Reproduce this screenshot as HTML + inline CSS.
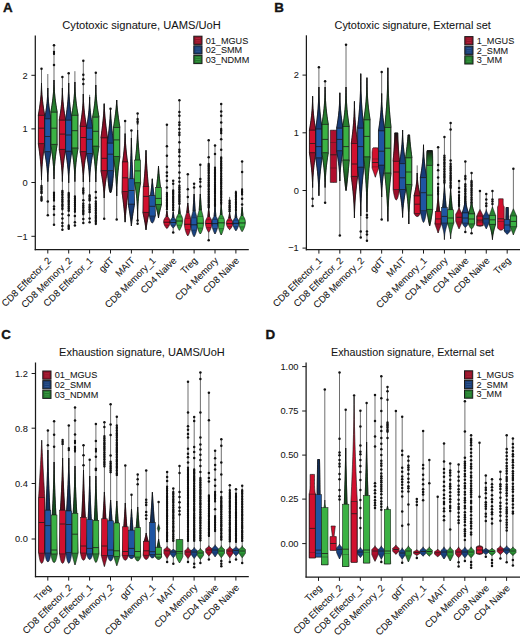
<!DOCTYPE html>
<html><head><meta charset="utf-8"><style>
html,body{margin:0;padding:0;background:#fff;}
svg{display:block;}
text{font-family:"Liberation Sans",sans-serif;fill:#141414;stroke:#141414;stroke-width:0.06px;}
</style></head><body>
<svg width="520" height="636" viewBox="0 0 520 636">
<rect width="520" height="636" fill="#fff"/>
<defs>
<linearGradient id="gur" x1="0" y1="0" x2="0" y2="1"><stop offset="0" stop-color="#151515"/><stop offset="0.45" stop-color="#6a0b1e"/><stop offset="0.8" stop-color="#9b0e29"/></linearGradient>
<linearGradient id="gub" x1="0" y1="0" x2="0" y2="1"><stop offset="0" stop-color="#151515"/><stop offset="0.45" stop-color="#132c55"/><stop offset="0.8" stop-color="#183d7a"/></linearGradient>
<linearGradient id="gug" x1="0" y1="0" x2="0" y2="1"><stop offset="0" stop-color="#151515"/><stop offset="0.45" stop-color="#1b5a22"/><stop offset="0.8" stop-color="#27812f"/></linearGradient>
<linearGradient id="gdr" x1="0" y1="0" x2="0" y2="1"><stop offset="0.2" stop-color="#9b0e29"/><stop offset="0.55" stop-color="#6a0b1e"/><stop offset="1" stop-color="#151515"/></linearGradient>
<linearGradient id="gdb" x1="0" y1="0" x2="0" y2="1"><stop offset="0.2" stop-color="#183d7a"/><stop offset="0.55" stop-color="#132c55"/><stop offset="1" stop-color="#151515"/></linearGradient>
<linearGradient id="gdg" x1="0" y1="0" x2="0" y2="1"><stop offset="0.2" stop-color="#27812f"/><stop offset="0.55" stop-color="#1b5a22"/><stop offset="1" stop-color="#151515"/></linearGradient>
</defs>
<text x="3" y="11.9" font-size="13.4" text-anchor="start" font-weight="bold" style="stroke-width:0.35px">A</text>
<text x="274.3" y="11.9" font-size="13.4" text-anchor="start" font-weight="bold" style="stroke-width:0.35px">B</text>
<text x="1.2" y="339.2" font-size="13.4" text-anchor="start" font-weight="bold" style="stroke-width:0.35px">C</text>
<text x="265.6" y="338.8" font-size="13.4" text-anchor="start" font-weight="bold" style="stroke-width:0.35px">D</text>
<text x="62.3" y="28.9" font-size="11.05" text-anchor="start" font-weight="normal" textLength="158.5" lengthAdjust="spacingAndGlyphs">Cytotoxic signature, UAMS/UoH</text>
<text x="334.5" y="28.9" font-size="10.9" text-anchor="start" font-weight="normal" textLength="156.4" lengthAdjust="spacingAndGlyphs">Cytotoxic signature, External set</text>
<text x="59.1" y="355.8" font-size="10.95" text-anchor="start" font-weight="normal" textLength="165.7" lengthAdjust="spacingAndGlyphs">Exhaustion signature, UAMS/UoH</text>
<text x="331" y="355.8" font-size="10.75" text-anchor="start" font-weight="normal" textLength="162.9" lengthAdjust="spacingAndGlyphs">Exhaustion signature, External set</text>
<line x1="35.3" y1="35.5" x2="35.3" y2="250.2" stroke="#1a1a1a" stroke-width="1.25"/>
<line x1="34.7" y1="249.6" x2="248.8" y2="249.6" stroke="#1a1a1a" stroke-width="1.25"/>
<line x1="31.4" y1="75.3" x2="35.3" y2="75.3" stroke="#1a1a1a" stroke-width="1.0"/>
<text x="27.7" y="78.6" font-size="9.3" text-anchor="end" font-weight="normal">2</text>
<line x1="31.4" y1="128.9" x2="35.3" y2="128.9" stroke="#1a1a1a" stroke-width="1.0"/>
<text x="27.7" y="132.2" font-size="9.3" text-anchor="end" font-weight="normal">1</text>
<line x1="31.4" y1="182.5" x2="35.3" y2="182.5" stroke="#1a1a1a" stroke-width="1.0"/>
<text x="27.7" y="185.8" font-size="9.3" text-anchor="end" font-weight="normal">0</text>
<line x1="31.4" y1="236.3" x2="35.3" y2="236.3" stroke="#1a1a1a" stroke-width="1.0"/>
<text x="27.7" y="239.6" font-size="9.3" text-anchor="end" font-weight="normal">−1</text>
<line x1="47.8" y1="249.6" x2="47.8" y2="253.5" stroke="#1a1a1a" stroke-width="1.0"/>
<text transform="translate(51.8,261.1) rotate(-45)" font-size="9.6" text-anchor="end">CD8 Effector_2</text>
<line x1="68.7" y1="249.6" x2="68.7" y2="253.5" stroke="#1a1a1a" stroke-width="1.0"/>
<text transform="translate(72.7,261.1) rotate(-45)" font-size="9.6" text-anchor="end">CD8 Memory_2</text>
<line x1="89.6" y1="249.6" x2="89.6" y2="253.5" stroke="#1a1a1a" stroke-width="1.0"/>
<text transform="translate(93.6,261.1) rotate(-45)" font-size="9.6" text-anchor="end">CD8 Effector_1</text>
<line x1="110.5" y1="249.6" x2="110.5" y2="253.5" stroke="#1a1a1a" stroke-width="1.0"/>
<text transform="translate(114.5,261.1) rotate(-45)" font-size="9.6" text-anchor="end">gdT</text>
<line x1="131.4" y1="249.6" x2="131.4" y2="253.5" stroke="#1a1a1a" stroke-width="1.0"/>
<text transform="translate(135.4,261.1) rotate(-45)" font-size="9.6" text-anchor="end">MAIT</text>
<line x1="152.3" y1="249.6" x2="152.3" y2="253.5" stroke="#1a1a1a" stroke-width="1.0"/>
<text transform="translate(156.3,261.1) rotate(-45)" font-size="9.6" text-anchor="end">CD8 Memory_1</text>
<line x1="173.2" y1="249.6" x2="173.2" y2="253.5" stroke="#1a1a1a" stroke-width="1.0"/>
<text transform="translate(177.2,261.1) rotate(-45)" font-size="9.6" text-anchor="end">CD4 Naive</text>
<line x1="194.1" y1="249.6" x2="194.1" y2="253.5" stroke="#1a1a1a" stroke-width="1.0"/>
<text transform="translate(198.1,261.1) rotate(-45)" font-size="9.6" text-anchor="end">Treg</text>
<line x1="215" y1="249.6" x2="215" y2="253.5" stroke="#1a1a1a" stroke-width="1.0"/>
<text transform="translate(219,261.1) rotate(-45)" font-size="9.6" text-anchor="end">CD4 Memory</text>
<line x1="235.9" y1="249.6" x2="235.9" y2="253.5" stroke="#1a1a1a" stroke-width="1.0"/>
<text transform="translate(239.9,261.1) rotate(-45)" font-size="9.6" text-anchor="end">CD8 Naive</text>
<line x1="306.4" y1="35.3" x2="306.4" y2="250.3" stroke="#1a1a1a" stroke-width="1.25"/>
<line x1="305.8" y1="249.7" x2="520" y2="249.7" stroke="#1a1a1a" stroke-width="1.25"/>
<line x1="302.5" y1="75.1" x2="306.4" y2="75.1" stroke="#1a1a1a" stroke-width="1.0"/>
<text x="298.8" y="78.4" font-size="9.3" text-anchor="end" font-weight="normal">2</text>
<line x1="302.5" y1="132.8" x2="306.4" y2="132.8" stroke="#1a1a1a" stroke-width="1.0"/>
<text x="298.8" y="136.1" font-size="9.3" text-anchor="end" font-weight="normal">1</text>
<line x1="302.5" y1="190.5" x2="306.4" y2="190.5" stroke="#1a1a1a" stroke-width="1.0"/>
<text x="298.8" y="193.8" font-size="9.3" text-anchor="end" font-weight="normal">0</text>
<line x1="302.5" y1="248.1" x2="306.4" y2="248.1" stroke="#1a1a1a" stroke-width="1.0"/>
<text x="298.8" y="251.4" font-size="9.3" text-anchor="end" font-weight="normal">−1</text>
<line x1="318.9" y1="249.7" x2="318.9" y2="253.6" stroke="#1a1a1a" stroke-width="1.0"/>
<text transform="translate(322.9,261.2) rotate(-45)" font-size="9.6" text-anchor="end">CD8 Effector_1</text>
<line x1="339.82" y1="249.7" x2="339.82" y2="253.6" stroke="#1a1a1a" stroke-width="1.0"/>
<text transform="translate(343.82,261.2) rotate(-45)" font-size="9.6" text-anchor="end">CD8 Effector_2</text>
<line x1="360.74" y1="249.7" x2="360.74" y2="253.6" stroke="#1a1a1a" stroke-width="1.0"/>
<text transform="translate(364.74,261.2) rotate(-45)" font-size="9.6" text-anchor="end">CD8 Memory_2</text>
<line x1="381.66" y1="249.7" x2="381.66" y2="253.6" stroke="#1a1a1a" stroke-width="1.0"/>
<text transform="translate(385.66,261.2) rotate(-45)" font-size="9.6" text-anchor="end">gdT</text>
<line x1="402.58" y1="249.7" x2="402.58" y2="253.6" stroke="#1a1a1a" stroke-width="1.0"/>
<text transform="translate(406.58,261.2) rotate(-45)" font-size="9.6" text-anchor="end">MAIT</text>
<line x1="423.5" y1="249.7" x2="423.5" y2="253.6" stroke="#1a1a1a" stroke-width="1.0"/>
<text transform="translate(427.5,261.2) rotate(-45)" font-size="9.6" text-anchor="end">CD8 Memory_1</text>
<line x1="444.42" y1="249.7" x2="444.42" y2="253.6" stroke="#1a1a1a" stroke-width="1.0"/>
<text transform="translate(448.42,261.2) rotate(-45)" font-size="9.6" text-anchor="end">CD4 Memory</text>
<line x1="465.34" y1="249.7" x2="465.34" y2="253.6" stroke="#1a1a1a" stroke-width="1.0"/>
<text transform="translate(469.34,261.2) rotate(-45)" font-size="9.6" text-anchor="end">CD4 Naive</text>
<line x1="486.26" y1="249.7" x2="486.26" y2="253.6" stroke="#1a1a1a" stroke-width="1.0"/>
<text transform="translate(490.26,261.2) rotate(-45)" font-size="9.6" text-anchor="end">CD8 Naive</text>
<line x1="507.18" y1="249.7" x2="507.18" y2="253.6" stroke="#1a1a1a" stroke-width="1.0"/>
<text transform="translate(511.18,261.2) rotate(-45)" font-size="9.6" text-anchor="end">Treg</text>
<line x1="35.5" y1="362.5" x2="35.5" y2="577.3" stroke="#1a1a1a" stroke-width="1.25"/>
<line x1="34.9" y1="576.7" x2="248.8" y2="576.7" stroke="#1a1a1a" stroke-width="1.25"/>
<line x1="31.6" y1="373.5" x2="35.5" y2="373.5" stroke="#1a1a1a" stroke-width="1.0"/>
<text x="27.9" y="376.8" font-size="9.3" text-anchor="end" font-weight="normal">1.2</text>
<line x1="31.6" y1="428.2" x2="35.5" y2="428.2" stroke="#1a1a1a" stroke-width="1.0"/>
<text x="27.9" y="431.5" font-size="9.3" text-anchor="end" font-weight="normal">0.8</text>
<line x1="31.6" y1="483.5" x2="35.5" y2="483.5" stroke="#1a1a1a" stroke-width="1.0"/>
<text x="27.9" y="486.8" font-size="9.3" text-anchor="end" font-weight="normal">0.4</text>
<line x1="31.6" y1="539" x2="35.5" y2="539" stroke="#1a1a1a" stroke-width="1.0"/>
<text x="27.9" y="542.3" font-size="9.3" text-anchor="end" font-weight="normal">0.0</text>
<line x1="47.8" y1="576.7" x2="47.8" y2="580.6" stroke="#1a1a1a" stroke-width="1.0"/>
<text transform="translate(51.8,588.2) rotate(-45)" font-size="9.6" text-anchor="end">Treg</text>
<line x1="68.7" y1="576.7" x2="68.7" y2="580.6" stroke="#1a1a1a" stroke-width="1.0"/>
<text transform="translate(72.7,588.2) rotate(-45)" font-size="9.6" text-anchor="end">CD8 Effector_2</text>
<line x1="89.6" y1="576.7" x2="89.6" y2="580.6" stroke="#1a1a1a" stroke-width="1.0"/>
<text transform="translate(93.6,588.2) rotate(-45)" font-size="9.6" text-anchor="end">CD8 Effector_1</text>
<line x1="110.5" y1="576.7" x2="110.5" y2="580.6" stroke="#1a1a1a" stroke-width="1.0"/>
<text transform="translate(114.5,588.2) rotate(-45)" font-size="9.6" text-anchor="end">CD8 Memory_2</text>
<line x1="131.4" y1="576.7" x2="131.4" y2="580.6" stroke="#1a1a1a" stroke-width="1.0"/>
<text transform="translate(135.4,588.2) rotate(-45)" font-size="9.6" text-anchor="end">gdT</text>
<line x1="152.3" y1="576.7" x2="152.3" y2="580.6" stroke="#1a1a1a" stroke-width="1.0"/>
<text transform="translate(156.3,588.2) rotate(-45)" font-size="9.6" text-anchor="end">CD8 Memory_1</text>
<line x1="173.2" y1="576.7" x2="173.2" y2="580.6" stroke="#1a1a1a" stroke-width="1.0"/>
<text transform="translate(177.2,588.2) rotate(-45)" font-size="9.6" text-anchor="end">MAIT</text>
<line x1="194.1" y1="576.7" x2="194.1" y2="580.6" stroke="#1a1a1a" stroke-width="1.0"/>
<text transform="translate(198.1,588.2) rotate(-45)" font-size="9.6" text-anchor="end">CD4 Memory</text>
<line x1="215" y1="576.7" x2="215" y2="580.6" stroke="#1a1a1a" stroke-width="1.0"/>
<text transform="translate(219,588.2) rotate(-45)" font-size="9.6" text-anchor="end">CD4 Naive</text>
<line x1="235.9" y1="576.7" x2="235.9" y2="580.6" stroke="#1a1a1a" stroke-width="1.0"/>
<text transform="translate(239.9,588.2) rotate(-45)" font-size="9.6" text-anchor="end">CD8 Naive</text>
<line x1="306.1" y1="362.5" x2="306.1" y2="577.6" stroke="#1a1a1a" stroke-width="1.25"/>
<line x1="305.5" y1="577" x2="520" y2="577" stroke="#1a1a1a" stroke-width="1.25"/>
<line x1="302.2" y1="366.6" x2="306.1" y2="366.6" stroke="#1a1a1a" stroke-width="1.0"/>
<text x="298.5" y="369.9" font-size="9.3" text-anchor="end" font-weight="normal">1.00</text>
<line x1="302.2" y1="411" x2="306.1" y2="411" stroke="#1a1a1a" stroke-width="1.0"/>
<text x="298.5" y="414.3" font-size="9.3" text-anchor="end" font-weight="normal">0.75</text>
<line x1="302.2" y1="455.1" x2="306.1" y2="455.1" stroke="#1a1a1a" stroke-width="1.0"/>
<text x="298.5" y="458.4" font-size="9.3" text-anchor="end" font-weight="normal">0.50</text>
<line x1="302.2" y1="499.1" x2="306.1" y2="499.1" stroke="#1a1a1a" stroke-width="1.0"/>
<text x="298.5" y="502.4" font-size="9.3" text-anchor="end" font-weight="normal">0.25</text>
<line x1="302.2" y1="543.6" x2="306.1" y2="543.6" stroke="#1a1a1a" stroke-width="1.0"/>
<text x="298.5" y="546.9" font-size="9.3" text-anchor="end" font-weight="normal">0.00</text>
<line x1="318.5" y1="577" x2="318.5" y2="580.9" stroke="#1a1a1a" stroke-width="1.0"/>
<text transform="translate(322.5,588.6) rotate(-45)" font-size="9.6" text-anchor="end">Treg</text>
<line x1="339.4" y1="577" x2="339.4" y2="580.9" stroke="#1a1a1a" stroke-width="1.0"/>
<text transform="translate(343.4,588.6) rotate(-45)" font-size="9.6" text-anchor="end">CD8 Effector_2</text>
<line x1="360.3" y1="577" x2="360.3" y2="580.9" stroke="#1a1a1a" stroke-width="1.0"/>
<text transform="translate(364.3,588.6) rotate(-45)" font-size="9.6" text-anchor="end">CD8 Effector_1</text>
<line x1="381.2" y1="577" x2="381.2" y2="580.9" stroke="#1a1a1a" stroke-width="1.0"/>
<text transform="translate(385.2,588.6) rotate(-45)" font-size="9.6" text-anchor="end">CD8 Memory_2</text>
<line x1="402.1" y1="577" x2="402.1" y2="580.9" stroke="#1a1a1a" stroke-width="1.0"/>
<text transform="translate(406.1,588.6) rotate(-45)" font-size="9.6" text-anchor="end">gdT</text>
<line x1="423" y1="577" x2="423" y2="580.9" stroke="#1a1a1a" stroke-width="1.0"/>
<text transform="translate(427,588.6) rotate(-45)" font-size="9.6" text-anchor="end">CD8 Memory_1</text>
<line x1="443.9" y1="577" x2="443.9" y2="580.9" stroke="#1a1a1a" stroke-width="1.0"/>
<text transform="translate(447.9,588.6) rotate(-45)" font-size="9.6" text-anchor="end">MAIT</text>
<line x1="464.8" y1="577" x2="464.8" y2="580.9" stroke="#1a1a1a" stroke-width="1.0"/>
<text transform="translate(468.8,588.6) rotate(-45)" font-size="9.6" text-anchor="end">CD4 Memory</text>
<line x1="485.7" y1="577" x2="485.7" y2="580.9" stroke="#1a1a1a" stroke-width="1.0"/>
<text transform="translate(489.7,588.6) rotate(-45)" font-size="9.6" text-anchor="end">CD8 Naive</text>
<line x1="506.6" y1="577" x2="506.6" y2="580.9" stroke="#1a1a1a" stroke-width="1.0"/>
<text transform="translate(510.6,588.6) rotate(-45)" font-size="9.6" text-anchor="end">CD4 Naive</text>
<rect x="193.8" y="36.2" width="8.2" height="8.2" fill="#93132a" stroke="#1a1a1a" stroke-width="1.0"/>
<line x1="195.6" y1="38.5" x2="200.2" y2="38.5" stroke="#d0404f" stroke-width="0.5" opacity="0.8"/>
<line x1="195.6" y1="40.3" x2="200.2" y2="40.3" stroke="#d0404f" stroke-width="0.5" opacity="0.8"/>
<line x1="195.6" y1="42.1" x2="200.2" y2="42.1" stroke="#d0404f" stroke-width="0.5" opacity="0.8"/>
<text x="205.7" y="43.5" font-size="9.15" text-anchor="start" font-weight="normal">01_MGUS</text>
<rect x="193.8" y="45.8" width="8.2" height="8.2" fill="#1b3f76" stroke="#1a1a1a" stroke-width="1.0"/>
<line x1="195.6" y1="48.1" x2="200.2" y2="48.1" stroke="#4d73b0" stroke-width="0.5" opacity="0.8"/>
<line x1="195.6" y1="49.9" x2="200.2" y2="49.9" stroke="#4d73b0" stroke-width="0.5" opacity="0.8"/>
<line x1="195.6" y1="51.7" x2="200.2" y2="51.7" stroke="#4d73b0" stroke-width="0.5" opacity="0.8"/>
<text x="205.7" y="53.1" font-size="9.15" text-anchor="start" font-weight="normal">02_SMM</text>
<rect x="193.8" y="55.4" width="8.2" height="8.2" fill="#247a2d" stroke="#1a1a1a" stroke-width="1.0"/>
<line x1="195.6" y1="57.7" x2="200.2" y2="57.7" stroke="#5cc060" stroke-width="0.5" opacity="0.8"/>
<line x1="195.6" y1="59.5" x2="200.2" y2="59.5" stroke="#5cc060" stroke-width="0.5" opacity="0.8"/>
<line x1="195.6" y1="61.3" x2="200.2" y2="61.3" stroke="#5cc060" stroke-width="0.5" opacity="0.8"/>
<text x="205.7" y="62.7" font-size="9.15" text-anchor="start" font-weight="normal">03_NDMM</text>
<rect x="464.8" y="36.6" width="8.2" height="8.2" fill="#93132a" stroke="#1a1a1a" stroke-width="1.0"/>
<line x1="466.6" y1="38.9" x2="471.2" y2="38.9" stroke="#d0404f" stroke-width="0.5" opacity="0.8"/>
<line x1="466.6" y1="40.7" x2="471.2" y2="40.7" stroke="#d0404f" stroke-width="0.5" opacity="0.8"/>
<line x1="466.6" y1="42.5" x2="471.2" y2="42.5" stroke="#d0404f" stroke-width="0.5" opacity="0.8"/>
<text x="476.7" y="43.9" font-size="9.15" text-anchor="start" font-weight="normal">1_MGUS</text>
<rect x="464.8" y="46.2" width="8.2" height="8.2" fill="#1b3f76" stroke="#1a1a1a" stroke-width="1.0"/>
<line x1="466.6" y1="48.5" x2="471.2" y2="48.5" stroke="#4d73b0" stroke-width="0.5" opacity="0.8"/>
<line x1="466.6" y1="50.3" x2="471.2" y2="50.3" stroke="#4d73b0" stroke-width="0.5" opacity="0.8"/>
<line x1="466.6" y1="52.1" x2="471.2" y2="52.1" stroke="#4d73b0" stroke-width="0.5" opacity="0.8"/>
<text x="476.7" y="53.5" font-size="9.15" text-anchor="start" font-weight="normal">2_SMM</text>
<rect x="464.8" y="55.8" width="8.2" height="8.2" fill="#247a2d" stroke="#1a1a1a" stroke-width="1.0"/>
<line x1="466.6" y1="58.1" x2="471.2" y2="58.1" stroke="#5cc060" stroke-width="0.5" opacity="0.8"/>
<line x1="466.6" y1="59.9" x2="471.2" y2="59.9" stroke="#5cc060" stroke-width="0.5" opacity="0.8"/>
<line x1="466.6" y1="61.7" x2="471.2" y2="61.7" stroke="#5cc060" stroke-width="0.5" opacity="0.8"/>
<text x="476.7" y="63.1" font-size="9.15" text-anchor="start" font-weight="normal">3_MM</text>
<rect x="42.8" y="371" width="8.2" height="8.2" fill="#93132a" stroke="#1a1a1a" stroke-width="1.0"/>
<line x1="44.6" y1="373.3" x2="49.2" y2="373.3" stroke="#d0404f" stroke-width="0.5" opacity="0.8"/>
<line x1="44.6" y1="375.1" x2="49.2" y2="375.1" stroke="#d0404f" stroke-width="0.5" opacity="0.8"/>
<line x1="44.6" y1="376.9" x2="49.2" y2="376.9" stroke="#d0404f" stroke-width="0.5" opacity="0.8"/>
<text x="54.7" y="378.3" font-size="9.15" text-anchor="start" font-weight="normal">01_MGUS</text>
<rect x="42.8" y="380.6" width="8.2" height="8.2" fill="#1b3f76" stroke="#1a1a1a" stroke-width="1.0"/>
<line x1="44.6" y1="382.9" x2="49.2" y2="382.9" stroke="#4d73b0" stroke-width="0.5" opacity="0.8"/>
<line x1="44.6" y1="384.7" x2="49.2" y2="384.7" stroke="#4d73b0" stroke-width="0.5" opacity="0.8"/>
<line x1="44.6" y1="386.5" x2="49.2" y2="386.5" stroke="#4d73b0" stroke-width="0.5" opacity="0.8"/>
<text x="54.7" y="387.9" font-size="9.15" text-anchor="start" font-weight="normal">02_SMM</text>
<rect x="42.8" y="390.2" width="8.2" height="8.2" fill="#247a2d" stroke="#1a1a1a" stroke-width="1.0"/>
<line x1="44.6" y1="392.5" x2="49.2" y2="392.5" stroke="#5cc060" stroke-width="0.5" opacity="0.8"/>
<line x1="44.6" y1="394.3" x2="49.2" y2="394.3" stroke="#5cc060" stroke-width="0.5" opacity="0.8"/>
<line x1="44.6" y1="396.1" x2="49.2" y2="396.1" stroke="#5cc060" stroke-width="0.5" opacity="0.8"/>
<text x="54.7" y="397.5" font-size="9.15" text-anchor="start" font-weight="normal">03_NDMM</text>
<rect x="464.5" y="370.8" width="8.2" height="8.2" fill="#93132a" stroke="#1a1a1a" stroke-width="1.0"/>
<line x1="466.3" y1="373.1" x2="470.9" y2="373.1" stroke="#d0404f" stroke-width="0.5" opacity="0.8"/>
<line x1="466.3" y1="374.9" x2="470.9" y2="374.9" stroke="#d0404f" stroke-width="0.5" opacity="0.8"/>
<line x1="466.3" y1="376.7" x2="470.9" y2="376.7" stroke="#d0404f" stroke-width="0.5" opacity="0.8"/>
<text x="476.4" y="378.1" font-size="9.15" text-anchor="start" font-weight="normal">1_MGUS</text>
<rect x="464.5" y="380.4" width="8.2" height="8.2" fill="#1b3f76" stroke="#1a1a1a" stroke-width="1.0"/>
<line x1="466.3" y1="382.7" x2="470.9" y2="382.7" stroke="#4d73b0" stroke-width="0.5" opacity="0.8"/>
<line x1="466.3" y1="384.5" x2="470.9" y2="384.5" stroke="#4d73b0" stroke-width="0.5" opacity="0.8"/>
<line x1="466.3" y1="386.3" x2="470.9" y2="386.3" stroke="#4d73b0" stroke-width="0.5" opacity="0.8"/>
<text x="476.4" y="387.7" font-size="9.15" text-anchor="start" font-weight="normal">2_SMM</text>
<rect x="464.5" y="390" width="8.2" height="8.2" fill="#247a2d" stroke="#1a1a1a" stroke-width="1.0"/>
<line x1="466.3" y1="392.3" x2="470.9" y2="392.3" stroke="#5cc060" stroke-width="0.5" opacity="0.8"/>
<line x1="466.3" y1="394.1" x2="470.9" y2="394.1" stroke="#5cc060" stroke-width="0.5" opacity="0.8"/>
<line x1="466.3" y1="395.9" x2="470.9" y2="395.9" stroke="#5cc060" stroke-width="0.5" opacity="0.8"/>
<text x="476.4" y="397.3" font-size="9.15" text-anchor="start" font-weight="normal">3_MM</text>
<line x1="41.5" y1="68.8" x2="41.5" y2="201.5" stroke="#666" stroke-width="0.95"/>
<line x1="41.5" y1="185.8" x2="41.5" y2="194" stroke="#111" stroke-width="1.8"/>
<line x1="41.5" y1="197" x2="41.5" y2="201.5" stroke="#111" stroke-width="1.8"/>
<circle cx="41.5" cy="185.8" r="1.15" fill="#111"/>
<circle cx="41.5" cy="187.62" r="1.15" fill="#111"/>
<circle cx="41.5" cy="189.16" r="1.15" fill="#111"/>
<circle cx="41.5" cy="191.5" r="1.15" fill="#111"/>
<circle cx="41.5" cy="192.92" r="1.15" fill="#111"/>
<circle cx="41.5" cy="197" r="1.15" fill="#111"/>
<circle cx="41.5" cy="198.89" r="1.15" fill="#111"/>
<circle cx="41.5" cy="200.28" r="1.15" fill="#111"/>
<circle cx="41.5" cy="68.8" r="1.25" fill="#111"/>
<polygon points="41.5,83 41.48,85.31 41.42,87.61 41.33,89.92 41.2,92.23 41.05,94.54 40.86,96.84 40.64,99.15 40.39,101.46 40.12,103.76 39.81,106.07 39.48,108.38 39.11,110.69 38.72,112.99 38.3,115.3 38.3,143.6 38.7,146.2 39.08,148.8 39.43,151.4 39.75,154 40.06,156.6 40.33,159.2 40.58,161.8 40.8,164.4 41,167 41.16,169.6 41.3,172.2 41.4,174.8 41.47,177.4 41.5,180 41.5,180 41.53,177.4 41.6,174.8 41.7,172.2 41.84,169.6 42,167 42.2,164.4 42.42,161.8 42.67,159.2 42.94,156.6 43.25,154 43.57,151.4 43.92,148.8 44.3,146.2 44.7,143.6 44.7,115.3 44.28,112.99 43.89,110.69 43.52,108.38 43.19,106.07 42.88,103.76 42.61,101.46 42.36,99.15 42.14,96.84 41.95,94.54 41.8,92.23 41.67,89.92 41.58,87.61 41.52,85.31 41.5,83" fill="#9b0e29" stroke="#111" stroke-width="0.6" stroke-linejoin="round"/>
<polygon points="41.5,83 41.48,85.31 41.42,87.61 41.33,89.92 41.2,92.23 41.05,94.54 40.86,96.84 40.64,99.15 40.39,101.46 40.12,103.76 39.81,106.07 39.48,108.38 39.11,110.69 38.72,112.99 38.3,115.3 44.7,115.3 44.28,112.99 43.89,110.69 43.52,108.38 43.19,106.07 42.88,103.76 42.61,101.46 42.36,99.15 42.14,96.84 41.95,94.54 41.8,92.23 41.67,89.92 41.58,87.61 41.52,85.31 41.5,83" fill="url(#gur)" stroke="#111" stroke-width="0.6" stroke-linejoin="round"/>
<polygon points="38.3,143.6 38.7,146.2 39.08,148.8 39.43,151.4 39.75,154 40.06,156.6 40.33,159.2 40.58,161.8 40.8,164.4 41,167 41.16,169.6 41.3,172.2 41.4,174.8 41.47,177.4 41.5,180 41.5,180 41.53,177.4 41.6,174.8 41.7,172.2 41.84,169.6 42,167 42.2,164.4 42.42,161.8 42.67,159.2 42.94,156.6 43.25,154 43.57,151.4 43.92,148.8 44.3,146.2 44.7,143.6" fill="url(#gdr)" stroke="#111" stroke-width="0.6" stroke-linejoin="round"/>
<rect x="38.6" y="115.3" width="5.8" height="28.3" fill="#d2102e" stroke="#1c1c1c" stroke-width="0.55"/>
<line x1="38.6" y1="128.2" x2="44.4" y2="128.2" stroke="#1c1c1c" stroke-width="0.8"/>
<line x1="47.8" y1="74" x2="47.8" y2="215.3" stroke="#666" stroke-width="0.95"/>
<circle cx="47.8" cy="201.5" r="1.25" fill="#111"/>
<circle cx="47.8" cy="215.3" r="1.25" fill="#111"/>
<polygon points="47.8,88 47.78,90.21 47.72,92.43 47.63,94.64 47.5,96.86 47.35,99.07 47.16,101.29 46.94,103.5 46.69,105.71 46.42,107.93 46.11,110.14 45.78,112.36 45.41,114.57 45.02,116.79 44.6,119 44.6,151.6 45,153.74 45.38,155.89 45.73,158.03 46.05,160.17 46.36,162.31 46.63,164.46 46.88,166.6 47.1,168.74 47.3,170.89 47.46,173.03 47.6,175.17 47.7,177.31 47.77,179.46 47.8,181.6 47.8,181.6 47.83,179.46 47.9,177.31 48,175.17 48.14,173.03 48.3,170.89 48.5,168.74 48.72,166.6 48.97,164.46 49.24,162.31 49.55,160.17 49.87,158.03 50.22,155.89 50.6,153.74 51,151.6 51,119 50.58,116.79 50.19,114.57 49.82,112.36 49.49,110.14 49.18,107.93 48.91,105.71 48.66,103.5 48.44,101.29 48.25,99.07 48.1,96.86 47.97,94.64 47.88,92.43 47.82,90.21 47.8,88" fill="#183d7a" stroke="#111" stroke-width="0.6" stroke-linejoin="round"/>
<polygon points="47.8,88 47.78,90.21 47.72,92.43 47.63,94.64 47.5,96.86 47.35,99.07 47.16,101.29 46.94,103.5 46.69,105.71 46.42,107.93 46.11,110.14 45.78,112.36 45.41,114.57 45.02,116.79 44.6,119 51,119 50.58,116.79 50.19,114.57 49.82,112.36 49.49,110.14 49.18,107.93 48.91,105.71 48.66,103.5 48.44,101.29 48.25,99.07 48.1,96.86 47.97,94.64 47.88,92.43 47.82,90.21 47.8,88" fill="url(#gub)" stroke="#111" stroke-width="0.6" stroke-linejoin="round"/>
<polygon points="44.6,151.6 45,153.74 45.38,155.89 45.73,158.03 46.05,160.17 46.36,162.31 46.63,164.46 46.88,166.6 47.1,168.74 47.3,170.89 47.46,173.03 47.6,175.17 47.7,177.31 47.77,179.46 47.8,181.6 47.8,181.6 47.83,179.46 47.9,177.31 48,175.17 48.14,173.03 48.3,170.89 48.5,168.74 48.72,166.6 48.97,164.46 49.24,162.31 49.55,160.17 49.87,158.03 50.22,155.89 50.6,153.74 51,151.6" fill="url(#gdb)" stroke="#111" stroke-width="0.6" stroke-linejoin="round"/>
<rect x="44.9" y="119" width="5.8" height="32.6" fill="#1f55a2" stroke="#1c1c1c" stroke-width="0.55"/>
<line x1="44.9" y1="136.5" x2="50.7" y2="136.5" stroke="#1c1c1c" stroke-width="0.8"/>
<line x1="54" y1="45.3" x2="54" y2="224.8" stroke="#666" stroke-width="0.95"/>
<line x1="54" y1="51.8" x2="54" y2="55" stroke="#111" stroke-width="1.8"/>
<line x1="54" y1="192.7" x2="54" y2="201.5" stroke="#111" stroke-width="1.8"/>
<circle cx="54" cy="51.8" r="1.15" fill="#111"/>
<circle cx="54" cy="53.16" r="1.15" fill="#111"/>
<circle cx="54" cy="192.7" r="1.15" fill="#111"/>
<circle cx="54" cy="194.11" r="1.15" fill="#111"/>
<circle cx="54" cy="195.56" r="1.15" fill="#111"/>
<circle cx="54" cy="197.54" r="1.15" fill="#111"/>
<circle cx="54" cy="200.16" r="1.15" fill="#111"/>
<circle cx="54" cy="45.3" r="1.25" fill="#111"/>
<circle cx="54" cy="65" r="1.25" fill="#111"/>
<circle cx="54" cy="206.5" r="1.25" fill="#111"/>
<circle cx="54" cy="209" r="1.25" fill="#111"/>
<circle cx="54" cy="214.7" r="1.25" fill="#111"/>
<circle cx="54" cy="224.8" r="1.25" fill="#111"/>
<polygon points="54,80 53.98,82.3 53.92,84.6 53.83,86.9 53.7,89.2 53.55,91.5 53.36,93.8 53.14,96.1 52.89,98.4 52.62,100.7 52.31,103 51.98,105.3 51.61,107.6 51.22,109.9 50.8,112.2 50.8,144.2 51.2,146.69 51.58,149.17 51.93,151.66 52.25,154.14 52.56,156.63 52.83,159.11 53.08,161.6 53.3,164.09 53.5,166.57 53.66,169.06 53.8,171.54 53.9,174.03 53.97,176.51 54,179 54,179 54.03,176.51 54.1,174.03 54.2,171.54 54.34,169.06 54.5,166.57 54.7,164.09 54.92,161.6 55.17,159.11 55.44,156.63 55.75,154.14 56.07,151.66 56.42,149.17 56.8,146.69 57.2,144.2 57.2,112.2 56.78,109.9 56.39,107.6 56.02,105.3 55.69,103 55.38,100.7 55.11,98.4 54.86,96.1 54.64,93.8 54.45,91.5 54.3,89.2 54.17,86.9 54.08,84.6 54.02,82.3 54,80" fill="#27812f" stroke="#111" stroke-width="0.6" stroke-linejoin="round"/>
<polygon points="54,80 53.98,82.3 53.92,84.6 53.83,86.9 53.7,89.2 53.55,91.5 53.36,93.8 53.14,96.1 52.89,98.4 52.62,100.7 52.31,103 51.98,105.3 51.61,107.6 51.22,109.9 50.8,112.2 57.2,112.2 56.78,109.9 56.39,107.6 56.02,105.3 55.69,103 55.38,100.7 55.11,98.4 54.86,96.1 54.64,93.8 54.45,91.5 54.3,89.2 54.17,86.9 54.08,84.6 54.02,82.3 54,80" fill="url(#gug)" stroke="#111" stroke-width="0.6" stroke-linejoin="round"/>
<polygon points="50.8,144.2 51.2,146.69 51.58,149.17 51.93,151.66 52.25,154.14 52.56,156.63 52.83,159.11 53.08,161.6 53.3,164.09 53.5,166.57 53.66,169.06 53.8,171.54 53.9,174.03 53.97,176.51 54,179 54,179 54.03,176.51 54.1,174.03 54.2,171.54 54.34,169.06 54.5,166.57 54.7,164.09 54.92,161.6 55.17,159.11 55.44,156.63 55.75,154.14 56.07,151.66 56.42,149.17 56.8,146.69 57.2,144.2" fill="url(#gdg)" stroke="#111" stroke-width="0.6" stroke-linejoin="round"/>
<rect x="51.1" y="112.2" width="5.8" height="32" fill="#3bb244" stroke="#1c1c1c" stroke-width="0.55"/>
<line x1="51.1" y1="128.2" x2="56.9" y2="128.2" stroke="#1c1c1c" stroke-width="0.8"/>
<line x1="62.4" y1="76.9" x2="62.4" y2="229.8" stroke="#666" stroke-width="0.95"/>
<line x1="62.4" y1="190.8" x2="62.4" y2="210.3" stroke="#111" stroke-width="1.8"/>
<circle cx="62.4" cy="190.8" r="1.15" fill="#111"/>
<circle cx="62.4" cy="192.46" r="1.15" fill="#111"/>
<circle cx="62.4" cy="194.76" r="1.15" fill="#111"/>
<circle cx="62.4" cy="197.58" r="1.15" fill="#111"/>
<circle cx="62.4" cy="199.8" r="1.15" fill="#111"/>
<circle cx="62.4" cy="201.74" r="1.15" fill="#111"/>
<circle cx="62.4" cy="204.6" r="1.15" fill="#111"/>
<circle cx="62.4" cy="205.97" r="1.15" fill="#111"/>
<circle cx="62.4" cy="208.65" r="1.15" fill="#111"/>
<circle cx="62.4" cy="76.9" r="1.25" fill="#111"/>
<circle cx="62.4" cy="214" r="1.25" fill="#111"/>
<circle cx="62.4" cy="218.5" r="1.25" fill="#111"/>
<circle cx="62.4" cy="222.9" r="1.25" fill="#111"/>
<circle cx="62.4" cy="226" r="1.25" fill="#111"/>
<circle cx="62.4" cy="229.8" r="1.25" fill="#111"/>
<polygon points="62.4,88 62.38,90.3 62.32,92.6 62.23,94.9 62.1,97.2 61.95,99.5 61.76,101.8 61.54,104.1 61.29,106.4 61.02,108.7 60.71,111 60.38,113.3 60.01,115.6 59.62,117.9 59.2,120.2 59.2,149.2 59.6,151.51 59.98,153.83 60.33,156.14 60.65,158.46 60.96,160.77 61.23,163.09 61.48,165.4 61.7,167.71 61.9,170.03 62.06,172.34 62.2,174.66 62.3,176.97 62.37,179.29 62.4,181.6 62.4,181.6 62.43,179.29 62.5,176.97 62.6,174.66 62.74,172.34 62.9,170.03 63.1,167.71 63.32,165.4 63.57,163.09 63.84,160.77 64.15,158.46 64.47,156.14 64.82,153.83 65.2,151.51 65.6,149.2 65.6,120.2 65.18,117.9 64.79,115.6 64.42,113.3 64.09,111 63.78,108.7 63.51,106.4 63.26,104.1 63.04,101.8 62.85,99.5 62.7,97.2 62.57,94.9 62.48,92.6 62.42,90.3 62.4,88" fill="#9b0e29" stroke="#111" stroke-width="0.6" stroke-linejoin="round"/>
<polygon points="62.4,88 62.38,90.3 62.32,92.6 62.23,94.9 62.1,97.2 61.95,99.5 61.76,101.8 61.54,104.1 61.29,106.4 61.02,108.7 60.71,111 60.38,113.3 60.01,115.6 59.62,117.9 59.2,120.2 65.6,120.2 65.18,117.9 64.79,115.6 64.42,113.3 64.09,111 63.78,108.7 63.51,106.4 63.26,104.1 63.04,101.8 62.85,99.5 62.7,97.2 62.57,94.9 62.48,92.6 62.42,90.3 62.4,88" fill="url(#gur)" stroke="#111" stroke-width="0.6" stroke-linejoin="round"/>
<polygon points="59.2,149.2 59.6,151.51 59.98,153.83 60.33,156.14 60.65,158.46 60.96,160.77 61.23,163.09 61.48,165.4 61.7,167.71 61.9,170.03 62.06,172.34 62.2,174.66 62.3,176.97 62.37,179.29 62.4,181.6 62.4,181.6 62.43,179.29 62.5,176.97 62.6,174.66 62.74,172.34 62.9,170.03 63.1,167.71 63.32,165.4 63.57,163.09 63.84,160.77 64.15,158.46 64.47,156.14 64.82,153.83 65.2,151.51 65.6,149.2" fill="url(#gdr)" stroke="#111" stroke-width="0.6" stroke-linejoin="round"/>
<rect x="59.5" y="120.2" width="5.8" height="29" fill="#d2102e" stroke="#1c1c1c" stroke-width="0.55"/>
<line x1="59.5" y1="134.1" x2="65.3" y2="134.1" stroke="#1c1c1c" stroke-width="0.8"/>
<line x1="68.7" y1="73.2" x2="68.7" y2="229.8" stroke="#666" stroke-width="0.95"/>
<line x1="68.7" y1="193" x2="68.7" y2="211.6" stroke="#111" stroke-width="1.8"/>
<line x1="68.7" y1="225.4" x2="68.7" y2="229.8" stroke="#111" stroke-width="1.8"/>
<circle cx="68.7" cy="193" r="1.15" fill="#111"/>
<circle cx="68.7" cy="194.53" r="1.15" fill="#111"/>
<circle cx="68.7" cy="196.02" r="1.15" fill="#111"/>
<circle cx="68.7" cy="197.81" r="1.15" fill="#111"/>
<circle cx="68.7" cy="200.42" r="1.15" fill="#111"/>
<circle cx="68.7" cy="202.01" r="1.15" fill="#111"/>
<circle cx="68.7" cy="204.24" r="1.15" fill="#111"/>
<circle cx="68.7" cy="206.56" r="1.15" fill="#111"/>
<circle cx="68.7" cy="208.46" r="1.15" fill="#111"/>
<circle cx="68.7" cy="210.63" r="1.15" fill="#111"/>
<circle cx="68.7" cy="225.4" r="1.15" fill="#111"/>
<circle cx="68.7" cy="226.8" r="1.15" fill="#111"/>
<circle cx="68.7" cy="228.42" r="1.15" fill="#111"/>
<circle cx="68.7" cy="73.2" r="1.25" fill="#111"/>
<circle cx="68.7" cy="215.3" r="1.25" fill="#111"/>
<polygon points="68.7,83 68.68,85.66 68.62,88.31 68.53,90.97 68.4,93.63 68.25,96.29 68.06,98.94 67.84,101.6 67.59,104.26 67.32,106.91 67.01,109.57 66.68,112.23 66.31,114.89 65.92,117.54 65.5,120.2 65.5,151 65.9,153.28 66.28,155.56 66.63,157.84 66.95,160.11 67.26,162.39 67.53,164.67 67.78,166.95 68,169.23 68.2,171.51 68.36,173.79 68.5,176.06 68.6,178.34 68.67,180.62 68.7,182.9 68.7,182.9 68.73,180.62 68.8,178.34 68.9,176.06 69.04,173.79 69.2,171.51 69.4,169.23 69.62,166.95 69.87,164.67 70.14,162.39 70.45,160.11 70.77,157.84 71.12,155.56 71.5,153.28 71.9,151 71.9,120.2 71.48,117.54 71.09,114.89 70.72,112.23 70.39,109.57 70.08,106.91 69.81,104.26 69.56,101.6 69.34,98.94 69.15,96.29 69,93.63 68.87,90.97 68.78,88.31 68.72,85.66 68.7,83" fill="#183d7a" stroke="#111" stroke-width="0.6" stroke-linejoin="round"/>
<polygon points="68.7,83 68.68,85.66 68.62,88.31 68.53,90.97 68.4,93.63 68.25,96.29 68.06,98.94 67.84,101.6 67.59,104.26 67.32,106.91 67.01,109.57 66.68,112.23 66.31,114.89 65.92,117.54 65.5,120.2 71.9,120.2 71.48,117.54 71.09,114.89 70.72,112.23 70.39,109.57 70.08,106.91 69.81,104.26 69.56,101.6 69.34,98.94 69.15,96.29 69,93.63 68.87,90.97 68.78,88.31 68.72,85.66 68.7,83" fill="url(#gub)" stroke="#111" stroke-width="0.6" stroke-linejoin="round"/>
<polygon points="65.5,151 65.9,153.28 66.28,155.56 66.63,157.84 66.95,160.11 67.26,162.39 67.53,164.67 67.78,166.95 68,169.23 68.2,171.51 68.36,173.79 68.5,176.06 68.6,178.34 68.67,180.62 68.7,182.9 68.7,182.9 68.73,180.62 68.8,178.34 68.9,176.06 69.04,173.79 69.2,171.51 69.4,169.23 69.62,166.95 69.87,164.67 70.14,162.39 70.45,160.11 70.77,157.84 71.12,155.56 71.5,153.28 71.9,151" fill="url(#gdb)" stroke="#111" stroke-width="0.6" stroke-linejoin="round"/>
<rect x="65.8" y="120.2" width="5.8" height="30.8" fill="#1f55a2" stroke="#1c1c1c" stroke-width="0.55"/>
<line x1="65.8" y1="135" x2="71.6" y2="135" stroke="#1c1c1c" stroke-width="0.8"/>
<line x1="74.9" y1="71.2" x2="74.9" y2="225.4" stroke="#666" stroke-width="0.95"/>
<line x1="74.9" y1="196.5" x2="74.9" y2="212.8" stroke="#111" stroke-width="1.8"/>
<circle cx="74.9" cy="196.5" r="1.15" fill="#111"/>
<circle cx="74.9" cy="198.48" r="1.15" fill="#111"/>
<circle cx="74.9" cy="200.29" r="1.15" fill="#111"/>
<circle cx="74.9" cy="202.52" r="1.15" fill="#111"/>
<circle cx="74.9" cy="204.55" r="1.15" fill="#111"/>
<circle cx="74.9" cy="206.33" r="1.15" fill="#111"/>
<circle cx="74.9" cy="208.9" r="1.15" fill="#111"/>
<circle cx="74.9" cy="211.32" r="1.15" fill="#111"/>
<circle cx="74.9" cy="216" r="1.25" fill="#111"/>
<circle cx="74.9" cy="222.3" r="1.25" fill="#111"/>
<circle cx="74.9" cy="225.4" r="1.25" fill="#111"/>
<polygon points="74.9,82 74.88,84.38 74.82,86.76 74.73,89.14 74.6,91.51 74.45,93.89 74.26,96.27 74.04,98.65 73.79,101.03 73.52,103.41 73.21,105.79 72.88,108.16 72.51,110.54 72.12,112.92 71.7,115.3 71.7,147.9 72.1,150.31 72.48,152.71 72.83,155.12 73.15,157.53 73.46,159.94 73.73,162.34 73.98,164.75 74.2,167.16 74.4,169.56 74.56,171.97 74.7,174.38 74.8,176.79 74.87,179.19 74.9,181.6 74.9,181.6 74.93,179.19 75,176.79 75.1,174.38 75.24,171.97 75.4,169.56 75.6,167.16 75.82,164.75 76.07,162.34 76.34,159.94 76.65,157.53 76.97,155.12 77.32,152.71 77.7,150.31 78.1,147.9 78.1,115.3 77.68,112.92 77.29,110.54 76.92,108.16 76.59,105.79 76.28,103.41 76.01,101.03 75.76,98.65 75.54,96.27 75.35,93.89 75.2,91.51 75.07,89.14 74.98,86.76 74.92,84.38 74.9,82" fill="#27812f" stroke="#111" stroke-width="0.6" stroke-linejoin="round"/>
<polygon points="74.9,82 74.88,84.38 74.82,86.76 74.73,89.14 74.6,91.51 74.45,93.89 74.26,96.27 74.04,98.65 73.79,101.03 73.52,103.41 73.21,105.79 72.88,108.16 72.51,110.54 72.12,112.92 71.7,115.3 78.1,115.3 77.68,112.92 77.29,110.54 76.92,108.16 76.59,105.79 76.28,103.41 76.01,101.03 75.76,98.65 75.54,96.27 75.35,93.89 75.2,91.51 75.07,89.14 74.98,86.76 74.92,84.38 74.9,82" fill="url(#gug)" stroke="#111" stroke-width="0.6" stroke-linejoin="round"/>
<polygon points="71.7,147.9 72.1,150.31 72.48,152.71 72.83,155.12 73.15,157.53 73.46,159.94 73.73,162.34 73.98,164.75 74.2,167.16 74.4,169.56 74.56,171.97 74.7,174.38 74.8,176.79 74.87,179.19 74.9,181.6 74.9,181.6 74.93,179.19 75,176.79 75.1,174.38 75.24,171.97 75.4,169.56 75.6,167.16 75.82,164.75 76.07,162.34 76.34,159.94 76.65,157.53 76.97,155.12 77.32,152.71 77.7,150.31 78.1,147.9" fill="url(#gdg)" stroke="#111" stroke-width="0.6" stroke-linejoin="round"/>
<rect x="72" y="115.3" width="5.8" height="32.6" fill="#3bb244" stroke="#1c1c1c" stroke-width="0.55"/>
<line x1="72" y1="130.7" x2="77.8" y2="130.7" stroke="#1c1c1c" stroke-width="0.8"/>
<line x1="83.3" y1="60.7" x2="83.3" y2="222.9" stroke="#666" stroke-width="0.95"/>
<line x1="83.3" y1="188.3" x2="83.3" y2="194.6" stroke="#111" stroke-width="1.8"/>
<line x1="83.3" y1="203.4" x2="83.3" y2="215.3" stroke="#111" stroke-width="1.8"/>
<circle cx="83.3" cy="188.3" r="1.15" fill="#111"/>
<circle cx="83.3" cy="190.52" r="1.15" fill="#111"/>
<circle cx="83.3" cy="192.66" r="1.15" fill="#111"/>
<circle cx="83.3" cy="203.4" r="1.15" fill="#111"/>
<circle cx="83.3" cy="205.87" r="1.15" fill="#111"/>
<circle cx="83.3" cy="207.63" r="1.15" fill="#111"/>
<circle cx="83.3" cy="210.5" r="1.15" fill="#111"/>
<circle cx="83.3" cy="211.98" r="1.15" fill="#111"/>
<circle cx="83.3" cy="213.95" r="1.15" fill="#111"/>
<circle cx="83.3" cy="60.7" r="1.25" fill="#111"/>
<circle cx="83.3" cy="74.8" r="1.25" fill="#111"/>
<circle cx="83.3" cy="79.2" r="1.25" fill="#111"/>
<circle cx="83.3" cy="83.9" r="1.25" fill="#111"/>
<circle cx="83.3" cy="200.3" r="1.25" fill="#111"/>
<circle cx="83.3" cy="219" r="1.25" fill="#111"/>
<circle cx="83.3" cy="222.9" r="1.25" fill="#111"/>
<polygon points="83.3,94 83.28,96.31 83.22,98.63 83.13,100.94 83,103.26 82.85,105.57 82.66,107.89 82.44,110.2 82.19,112.51 81.92,114.83 81.61,117.14 81.28,119.46 80.91,121.77 80.52,124.09 80.1,126.4 80.1,151.6 80.5,153.77 80.88,155.94 81.23,158.11 81.55,160.29 81.86,162.46 82.13,164.63 82.38,166.8 82.6,168.97 82.8,171.14 82.96,173.31 83.1,175.49 83.2,177.66 83.27,179.83 83.3,182 83.3,182 83.33,179.83 83.4,177.66 83.5,175.49 83.64,173.31 83.8,171.14 84,168.97 84.22,166.8 84.47,164.63 84.74,162.46 85.05,160.29 85.37,158.11 85.72,155.94 86.1,153.77 86.5,151.6 86.5,126.4 86.08,124.09 85.69,121.77 85.32,119.46 84.99,117.14 84.68,114.83 84.41,112.51 84.16,110.2 83.94,107.89 83.75,105.57 83.6,103.26 83.47,100.94 83.38,98.63 83.32,96.31 83.3,94" fill="#9b0e29" stroke="#111" stroke-width="0.6" stroke-linejoin="round"/>
<polygon points="83.3,94 83.28,96.31 83.22,98.63 83.13,100.94 83,103.26 82.85,105.57 82.66,107.89 82.44,110.2 82.19,112.51 81.92,114.83 81.61,117.14 81.28,119.46 80.91,121.77 80.52,124.09 80.1,126.4 86.5,126.4 86.08,124.09 85.69,121.77 85.32,119.46 84.99,117.14 84.68,114.83 84.41,112.51 84.16,110.2 83.94,107.89 83.75,105.57 83.6,103.26 83.47,100.94 83.38,98.63 83.32,96.31 83.3,94" fill="url(#gur)" stroke="#111" stroke-width="0.6" stroke-linejoin="round"/>
<polygon points="80.1,151.6 80.5,153.77 80.88,155.94 81.23,158.11 81.55,160.29 81.86,162.46 82.13,164.63 82.38,166.8 82.6,168.97 82.8,171.14 82.96,173.31 83.1,175.49 83.2,177.66 83.27,179.83 83.3,182 83.3,182 83.33,179.83 83.4,177.66 83.5,175.49 83.64,173.31 83.8,171.14 84,168.97 84.22,166.8 84.47,164.63 84.74,162.46 85.05,160.29 85.37,158.11 85.72,155.94 86.1,153.77 86.5,151.6" fill="url(#gdr)" stroke="#111" stroke-width="0.6" stroke-linejoin="round"/>
<rect x="80.4" y="126.4" width="5.8" height="25.2" fill="#d2102e" stroke="#1c1c1c" stroke-width="0.55"/>
<line x1="80.4" y1="137.5" x2="86.2" y2="137.5" stroke="#1c1c1c" stroke-width="0.8"/>
<line x1="89.6" y1="94.8" x2="89.6" y2="222.3" stroke="#666" stroke-width="0.95"/>
<line x1="89.6" y1="195.2" x2="89.6" y2="201.5" stroke="#111" stroke-width="1.8"/>
<line x1="89.6" y1="204.7" x2="89.6" y2="212.8" stroke="#111" stroke-width="1.8"/>
<circle cx="89.6" cy="195.2" r="1.15" fill="#111"/>
<circle cx="89.6" cy="196.74" r="1.15" fill="#111"/>
<circle cx="89.6" cy="198.83" r="1.15" fill="#111"/>
<circle cx="89.6" cy="200.19" r="1.15" fill="#111"/>
<circle cx="89.6" cy="204.7" r="1.15" fill="#111"/>
<circle cx="89.6" cy="207.22" r="1.15" fill="#111"/>
<circle cx="89.6" cy="209.44" r="1.15" fill="#111"/>
<circle cx="89.6" cy="212.14" r="1.15" fill="#111"/>
<circle cx="89.6" cy="218.5" r="1.25" fill="#111"/>
<circle cx="89.6" cy="222.3" r="1.25" fill="#111"/>
<polygon points="89.6,97 89.58,99.23 89.52,101.46 89.43,103.69 89.3,105.91 89.15,108.14 88.96,110.37 88.74,112.6 88.49,114.83 88.22,117.06 87.91,119.29 87.58,121.51 87.21,123.74 86.82,125.97 86.4,128.2 86.4,153.5 86.8,155.54 87.18,157.57 87.53,159.61 87.85,161.64 88.16,163.68 88.43,165.71 88.68,167.75 88.9,169.79 89.1,171.82 89.26,173.86 89.4,175.89 89.5,177.93 89.57,179.96 89.6,182 89.6,182 89.63,179.96 89.7,177.93 89.8,175.89 89.94,173.86 90.1,171.82 90.3,169.79 90.52,167.75 90.77,165.71 91.04,163.68 91.35,161.64 91.67,159.61 92.02,157.57 92.4,155.54 92.8,153.5 92.8,128.2 92.38,125.97 91.99,123.74 91.62,121.51 91.29,119.29 90.98,117.06 90.71,114.83 90.46,112.6 90.24,110.37 90.05,108.14 89.9,105.91 89.77,103.69 89.68,101.46 89.62,99.23 89.6,97" fill="#183d7a" stroke="#111" stroke-width="0.6" stroke-linejoin="round"/>
<polygon points="89.6,97 89.58,99.23 89.52,101.46 89.43,103.69 89.3,105.91 89.15,108.14 88.96,110.37 88.74,112.6 88.49,114.83 88.22,117.06 87.91,119.29 87.58,121.51 87.21,123.74 86.82,125.97 86.4,128.2 92.8,128.2 92.38,125.97 91.99,123.74 91.62,121.51 91.29,119.29 90.98,117.06 90.71,114.83 90.46,112.6 90.24,110.37 90.05,108.14 89.9,105.91 89.77,103.69 89.68,101.46 89.62,99.23 89.6,97" fill="url(#gub)" stroke="#111" stroke-width="0.6" stroke-linejoin="round"/>
<polygon points="86.4,153.5 86.8,155.54 87.18,157.57 87.53,159.61 87.85,161.64 88.16,163.68 88.43,165.71 88.68,167.75 88.9,169.79 89.1,171.82 89.26,173.86 89.4,175.89 89.5,177.93 89.57,179.96 89.6,182 89.6,182 89.63,179.96 89.7,177.93 89.8,175.89 89.94,173.86 90.1,171.82 90.3,169.79 90.52,167.75 90.77,165.71 91.04,163.68 91.35,161.64 91.67,159.61 92.02,157.57 92.4,155.54 92.8,153.5" fill="url(#gdb)" stroke="#111" stroke-width="0.6" stroke-linejoin="round"/>
<rect x="86.7" y="128.2" width="5.8" height="25.3" fill="#1f55a2" stroke="#1c1c1c" stroke-width="0.55"/>
<line x1="86.7" y1="139.3" x2="92.5" y2="139.3" stroke="#1c1c1c" stroke-width="0.8"/>
<line x1="95.8" y1="72.8" x2="95.8" y2="224.2" stroke="#666" stroke-width="0.95"/>
<line x1="95.8" y1="201.5" x2="95.8" y2="224.2" stroke="#111" stroke-width="1.8"/>
<circle cx="95.8" cy="201.5" r="1.15" fill="#111"/>
<circle cx="95.8" cy="203.91" r="1.15" fill="#111"/>
<circle cx="95.8" cy="206.16" r="1.15" fill="#111"/>
<circle cx="95.8" cy="208.39" r="1.15" fill="#111"/>
<circle cx="95.8" cy="210.42" r="1.15" fill="#111"/>
<circle cx="95.8" cy="213.07" r="1.15" fill="#111"/>
<circle cx="95.8" cy="215.88" r="1.15" fill="#111"/>
<circle cx="95.8" cy="217.94" r="1.15" fill="#111"/>
<circle cx="95.8" cy="220.3" r="1.15" fill="#111"/>
<circle cx="95.8" cy="221.69" r="1.15" fill="#111"/>
<circle cx="95.8" cy="224.12" r="1.15" fill="#111"/>
<circle cx="95.8" cy="72.8" r="1.25" fill="#111"/>
<circle cx="95.8" cy="192" r="1.25" fill="#111"/>
<circle cx="95.8" cy="197.7" r="1.25" fill="#111"/>
<polygon points="95.8,85 95.78,87.3 95.72,89.6 95.63,91.9 95.5,94.2 95.35,96.5 95.16,98.8 94.94,101.1 94.69,103.4 94.42,105.7 94.11,108 93.78,110.3 93.41,112.6 93.02,114.9 92.6,117.2 92.6,146 93,148.57 93.38,151.14 93.73,153.71 94.05,156.29 94.36,158.86 94.63,161.43 94.88,164 95.1,166.57 95.3,169.14 95.46,171.71 95.6,174.29 95.7,176.86 95.77,179.43 95.8,182 95.8,182 95.83,179.43 95.9,176.86 96,174.29 96.14,171.71 96.3,169.14 96.5,166.57 96.72,164 96.97,161.43 97.24,158.86 97.55,156.29 97.87,153.71 98.22,151.14 98.6,148.57 99,146 99,117.2 98.58,114.9 98.19,112.6 97.82,110.3 97.49,108 97.18,105.7 96.91,103.4 96.66,101.1 96.44,98.8 96.25,96.5 96.1,94.2 95.97,91.9 95.88,89.6 95.82,87.3 95.8,85" fill="#27812f" stroke="#111" stroke-width="0.6" stroke-linejoin="round"/>
<polygon points="95.8,85 95.78,87.3 95.72,89.6 95.63,91.9 95.5,94.2 95.35,96.5 95.16,98.8 94.94,101.1 94.69,103.4 94.42,105.7 94.11,108 93.78,110.3 93.41,112.6 93.02,114.9 92.6,117.2 99,117.2 98.58,114.9 98.19,112.6 97.82,110.3 97.49,108 97.18,105.7 96.91,103.4 96.66,101.1 96.44,98.8 96.25,96.5 96.1,94.2 95.97,91.9 95.88,89.6 95.82,87.3 95.8,85" fill="url(#gug)" stroke="#111" stroke-width="0.6" stroke-linejoin="round"/>
<polygon points="92.6,146 93,148.57 93.38,151.14 93.73,153.71 94.05,156.29 94.36,158.86 94.63,161.43 94.88,164 95.1,166.57 95.3,169.14 95.46,171.71 95.6,174.29 95.7,176.86 95.77,179.43 95.8,182 95.8,182 95.83,179.43 95.9,176.86 96,174.29 96.14,171.71 96.3,169.14 96.5,166.57 96.72,164 96.97,161.43 97.24,158.86 97.55,156.29 97.87,153.71 98.22,151.14 98.6,148.57 99,146" fill="url(#gdg)" stroke="#111" stroke-width="0.6" stroke-linejoin="round"/>
<rect x="92.9" y="117.2" width="5.8" height="28.8" fill="#3bb244" stroke="#1c1c1c" stroke-width="0.55"/>
<line x1="92.9" y1="131.3" x2="98.7" y2="131.3" stroke="#1c1c1c" stroke-width="0.8"/>
<line x1="104.2" y1="103.7" x2="104.2" y2="218.7" stroke="#666" stroke-width="0.95"/>
<circle cx="104.2" cy="218.7" r="1.25" fill="#111"/>
<polygon points="104.2,103.7 104.14,106.15 104.02,108.6 103.87,111.05 103.7,113.5 103.5,115.95 103.27,118.4 103.03,120.85 102.77,123.3 102.5,125.75 102.21,128.2 101.9,130.65 101.58,133.1 101.25,135.55 100.9,138 100.9,170.6 101.27,172.56 101.62,174.51 101.96,176.47 102.27,178.43 102.57,180.39 102.85,182.34 103.11,184.3 103.35,186.26 103.56,188.21 103.76,190.17 103.92,192.13 104.05,194.09 104.15,196.04 104.2,198 104.2,198 104.25,196.04 104.35,194.09 104.48,192.13 104.64,190.17 104.84,188.21 105.05,186.26 105.29,184.3 105.55,182.34 105.83,180.39 106.13,178.43 106.44,176.47 106.78,174.51 107.13,172.56 107.5,170.6 107.5,138 107.15,135.55 106.82,133.1 106.5,130.65 106.19,128.2 105.9,125.75 105.63,123.3 105.37,120.85 105.13,118.4 104.9,115.95 104.7,113.5 104.53,111.05 104.38,108.6 104.26,106.15 104.2,103.7" fill="#9b0e29" stroke="#111" stroke-width="0.6" stroke-linejoin="round"/>
<polygon points="104.2,103.7 104.14,106.15 104.02,108.6 103.87,111.05 103.7,113.5 103.5,115.95 103.27,118.4 103.03,120.85 102.77,123.3 102.5,125.75 102.21,128.2 101.9,130.65 101.58,133.1 101.25,135.55 100.9,138 107.5,138 107.15,135.55 106.82,133.1 106.5,130.65 106.19,128.2 105.9,125.75 105.63,123.3 105.37,120.85 105.13,118.4 104.9,115.95 104.7,113.5 104.53,111.05 104.38,108.6 104.26,106.15 104.2,103.7" fill="url(#gur)" stroke="#111" stroke-width="0.6" stroke-linejoin="round"/>
<polygon points="100.9,170.6 101.27,172.56 101.62,174.51 101.96,176.47 102.27,178.43 102.57,180.39 102.85,182.34 103.11,184.3 103.35,186.26 103.56,188.21 103.76,190.17 103.92,192.13 104.05,194.09 104.15,196.04 104.2,198 104.2,198 104.25,196.04 104.35,194.09 104.48,192.13 104.64,190.17 104.84,188.21 105.05,186.26 105.29,184.3 105.55,182.34 105.83,180.39 106.13,178.43 106.44,176.47 106.78,174.51 107.13,172.56 107.5,170.6" fill="url(#gdr)" stroke="#111" stroke-width="0.6" stroke-linejoin="round"/>
<rect x="101.3" y="138" width="5.8" height="32.6" fill="#d2102e" stroke="#1c1c1c" stroke-width="0.55"/>
<line x1="101.3" y1="158.3" x2="107.1" y2="158.3" stroke="#1c1c1c" stroke-width="0.8"/>
<line x1="110.5" y1="108.7" x2="110.5" y2="193" stroke="#666" stroke-width="0.95"/>
<circle cx="110.5" cy="108.7" r="1.25" fill="#111"/>
<polygon points="110.5,108.7 110.44,111.16 110.33,113.63 110.19,116.09 110.03,118.56 109.84,121.02 109.63,123.49 109.4,125.95 109.16,128.41 108.9,130.88 108.63,133.34 108.34,135.81 108.04,138.27 107.73,140.74 107.4,143.2 107.4,170.6 107.51,172.2 107.63,173.8 107.75,175.4 107.88,177 108.01,178.6 108.16,180.2 108.31,181.8 108.47,183.4 108.65,185 108.84,186.6 109.06,188.2 109.33,189.8 109.67,191.4 110.5,193 110.5,193 111.33,191.4 111.67,189.8 111.94,188.2 112.16,186.6 112.35,185 112.53,183.4 112.69,181.8 112.84,180.2 112.99,178.6 113.12,177 113.25,175.4 113.37,173.8 113.49,172.2 113.6,170.6 113.6,143.2 113.27,140.74 112.96,138.27 112.66,135.81 112.37,133.34 112.1,130.88 111.84,128.41 111.6,125.95 111.37,123.49 111.16,121.02 110.97,118.56 110.81,116.09 110.67,113.63 110.56,111.16 110.5,108.7" fill="#183d7a" stroke="#111" stroke-width="0.6" stroke-linejoin="round"/>
<polygon points="110.5,108.7 110.44,111.16 110.33,113.63 110.19,116.09 110.03,118.56 109.84,121.02 109.63,123.49 109.4,125.95 109.16,128.41 108.9,130.88 108.63,133.34 108.34,135.81 108.04,138.27 107.73,140.74 107.4,143.2 113.6,143.2 113.27,140.74 112.96,138.27 112.66,135.81 112.37,133.34 112.1,130.88 111.84,128.41 111.6,125.95 111.37,123.49 111.16,121.02 110.97,118.56 110.81,116.09 110.67,113.63 110.56,111.16 110.5,108.7" fill="url(#gub)" stroke="#111" stroke-width="0.6" stroke-linejoin="round"/>
<polygon points="107.4,170.6 107.51,172.2 107.63,173.8 107.75,175.4 107.88,177 108.01,178.6 108.16,180.2 108.31,181.8 108.47,183.4 108.65,185 108.84,186.6 109.06,188.2 109.33,189.8 109.67,191.4 110.5,193 110.5,193 111.33,191.4 111.67,189.8 111.94,188.2 112.16,186.6 112.35,185 112.53,183.4 112.69,181.8 112.84,180.2 112.99,178.6 113.12,177 113.25,175.4 113.37,173.8 113.49,172.2 113.6,170.6" fill="url(#gdb)" stroke="#111" stroke-width="0.6" stroke-linejoin="round"/>
<rect x="107.6" y="143.2" width="5.8" height="27.4" fill="#1f55a2" stroke="#1c1c1c" stroke-width="0.55"/>
<line x1="107.6" y1="154.2" x2="113.4" y2="154.2" stroke="#1c1c1c" stroke-width="0.8"/>
<line x1="116.7" y1="100" x2="116.7" y2="219.6" stroke="#666" stroke-width="0.95"/>
<circle cx="116.7" cy="219.6" r="1.25" fill="#111"/>
<polygon points="116.7,100 116.62,101.97 116.49,103.94 116.33,105.91 116.15,107.89 115.94,109.86 115.72,111.83 115.49,113.8 115.24,115.77 114.98,117.74 114.7,119.71 114.42,121.69 114.12,123.66 113.82,125.63 113.5,127.6 113.5,156.4 113.9,159.23 114.28,162.06 114.63,164.89 114.95,167.71 115.26,170.54 115.53,173.37 115.78,176.2 116,179.03 116.2,181.86 116.36,184.69 116.5,187.51 116.6,190.34 116.67,193.17 116.7,196 116.7,196 116.73,193.17 116.8,190.34 116.9,187.51 117.04,184.69 117.2,181.86 117.4,179.03 117.62,176.2 117.87,173.37 118.14,170.54 118.45,167.71 118.77,164.89 119.12,162.06 119.5,159.23 119.9,156.4 119.9,127.6 119.58,125.63 119.28,123.66 118.98,121.69 118.7,119.71 118.42,117.74 118.16,115.77 117.91,113.8 117.68,111.83 117.46,109.86 117.25,107.89 117.07,105.91 116.91,103.94 116.78,101.97 116.7,100" fill="#27812f" stroke="#111" stroke-width="0.6" stroke-linejoin="round"/>
<polygon points="116.7,100 116.62,101.97 116.49,103.94 116.33,105.91 116.15,107.89 115.94,109.86 115.72,111.83 115.49,113.8 115.24,115.77 114.98,117.74 114.7,119.71 114.42,121.69 114.12,123.66 113.82,125.63 113.5,127.6 119.9,127.6 119.58,125.63 119.28,123.66 118.98,121.69 118.7,119.71 118.42,117.74 118.16,115.77 117.91,113.8 117.68,111.83 117.46,109.86 117.25,107.89 117.07,105.91 116.91,103.94 116.78,101.97 116.7,100" fill="url(#gug)" stroke="#111" stroke-width="0.6" stroke-linejoin="round"/>
<polygon points="113.5,156.4 113.9,159.23 114.28,162.06 114.63,164.89 114.95,167.71 115.26,170.54 115.53,173.37 115.78,176.2 116,179.03 116.2,181.86 116.36,184.69 116.5,187.51 116.6,190.34 116.67,193.17 116.7,196 116.7,196 116.73,193.17 116.8,190.34 116.9,187.51 117.04,184.69 117.2,181.86 117.4,179.03 117.62,176.2 117.87,173.37 118.14,170.54 118.45,167.71 118.77,164.89 119.12,162.06 119.5,159.23 119.9,156.4" fill="url(#gdg)" stroke="#111" stroke-width="0.6" stroke-linejoin="round"/>
<rect x="113.8" y="127.6" width="5.8" height="28.8" fill="#3bb244" stroke="#1c1c1c" stroke-width="0.55"/>
<line x1="113.8" y1="139.9" x2="119.6" y2="139.9" stroke="#1c1c1c" stroke-width="0.8"/>
<line x1="125.1" y1="121" x2="125.1" y2="222.5" stroke="#666" stroke-width="0.95"/>
<circle cx="125.1" cy="121" r="1.25" fill="#111"/>
<polygon points="125.1,133.6 125.06,135.63 124.99,137.66 124.9,139.69 124.78,141.71 124.64,143.74 124.48,145.77 124.31,147.8 124.12,149.83 123.92,151.86 123.7,153.89 123.47,155.91 123.22,157.94 122.97,159.97 122.7,162 122,191.5 122.28,193.68 122.56,195.86 122.83,198.04 123.1,200.21 123.35,202.39 123.6,204.57 123.84,206.75 124.07,208.93 124.29,211.11 124.49,213.29 124.68,215.46 124.85,217.64 125,219.82 125.1,222 125.1,222 125.2,219.82 125.35,217.64 125.52,215.46 125.71,213.29 125.91,211.11 126.13,208.93 126.36,206.75 126.6,204.57 126.85,202.39 127.1,200.21 127.37,198.04 127.64,195.86 127.92,193.68 128.2,191.5 127.5,162 127.23,159.97 126.98,157.94 126.73,155.91 126.5,153.89 126.28,151.86 126.08,149.83 125.89,147.8 125.72,145.77 125.56,143.74 125.42,141.71 125.3,139.69 125.21,137.66 125.14,135.63 125.1,133.6" fill="#9b0e29" stroke="#111" stroke-width="0.6" stroke-linejoin="round"/>
<polygon points="125.1,133.6 125.06,135.63 124.99,137.66 124.9,139.69 124.78,141.71 124.64,143.74 124.48,145.77 124.31,147.8 124.12,149.83 123.92,151.86 123.7,153.89 123.47,155.91 123.22,157.94 122.97,159.97 122.7,162 127.5,162 127.23,159.97 126.98,157.94 126.73,155.91 126.5,153.89 126.28,151.86 126.08,149.83 125.89,147.8 125.72,145.77 125.56,143.74 125.42,141.71 125.3,139.69 125.21,137.66 125.14,135.63 125.1,133.6" fill="url(#gur)" stroke="#111" stroke-width="0.6" stroke-linejoin="round"/>
<polygon points="122,191.5 122.28,193.68 122.56,195.86 122.83,198.04 123.1,200.21 123.35,202.39 123.6,204.57 123.84,206.75 124.07,208.93 124.29,211.11 124.49,213.29 124.68,215.46 124.85,217.64 125,219.82 125.1,222 125.1,222 125.2,219.82 125.35,217.64 125.52,215.46 125.71,213.29 125.91,211.11 126.13,208.93 126.36,206.75 126.6,204.57 126.85,202.39 127.1,200.21 127.37,198.04 127.64,195.86 127.92,193.68 128.2,191.5" fill="url(#gdr)" stroke="#111" stroke-width="0.6" stroke-linejoin="round"/>
<rect x="122.2" y="162" width="5.8" height="29.5" fill="#d2102e" stroke="#1c1c1c" stroke-width="0.55"/>
<line x1="122.2" y1="177.8" x2="128" y2="177.8" stroke="#1c1c1c" stroke-width="0.8"/>
<line x1="131.4" y1="130.4" x2="131.4" y2="226" stroke="#666" stroke-width="0.95"/>
<circle cx="131.4" cy="130.4" r="1.25" fill="#111"/>
<polygon points="131.4,138 131.36,140.91 131.3,143.83 131.23,146.74 131.14,149.66 131.05,152.57 130.94,155.49 130.83,158.4 130.71,161.31 130.59,164.23 130.46,167.14 130.33,170.06 130.19,172.97 130.05,175.89 129.9,178.8 128.3,204 128.56,205.57 128.82,207.14 129.08,208.71 129.33,210.29 129.58,211.86 129.82,213.43 130.05,215 130.28,216.57 130.5,218.14 130.71,219.71 130.91,221.29 131.1,222.86 131.27,224.43 131.4,226 131.4,226 131.53,224.43 131.7,222.86 131.89,221.29 132.09,219.71 132.3,218.14 132.52,216.57 132.75,215 132.98,213.43 133.22,211.86 133.47,210.29 133.72,208.71 133.98,207.14 134.24,205.57 134.5,204 132.9,178.8 132.75,175.89 132.61,172.97 132.47,170.06 132.34,167.14 132.21,164.23 132.09,161.31 131.97,158.4 131.86,155.49 131.75,152.57 131.66,149.66 131.57,146.74 131.5,143.83 131.44,140.91 131.4,138" fill="#183d7a" stroke="#111" stroke-width="0.6" stroke-linejoin="round"/>
<polygon points="131.4,138 131.36,140.91 131.3,143.83 131.23,146.74 131.14,149.66 131.05,152.57 130.94,155.49 130.83,158.4 130.71,161.31 130.59,164.23 130.46,167.14 130.33,170.06 130.19,172.97 130.05,175.89 129.9,178.8 132.9,178.8 132.75,175.89 132.61,172.97 132.47,170.06 132.34,167.14 132.21,164.23 132.09,161.31 131.97,158.4 131.86,155.49 131.75,152.57 131.66,149.66 131.57,146.74 131.5,143.83 131.44,140.91 131.4,138" fill="url(#gub)" stroke="#111" stroke-width="0.6" stroke-linejoin="round"/>
<polygon points="128.3,204 128.56,205.57 128.82,207.14 129.08,208.71 129.33,210.29 129.58,211.86 129.82,213.43 130.05,215 130.28,216.57 130.5,218.14 130.71,219.71 130.91,221.29 131.1,222.86 131.27,224.43 131.4,226 131.4,226 131.53,224.43 131.7,222.86 131.89,221.29 132.09,219.71 132.3,218.14 132.52,216.57 132.75,215 132.98,213.43 133.22,211.86 133.47,210.29 133.72,208.71 133.98,207.14 134.24,205.57 134.5,204" fill="url(#gdb)" stroke="#111" stroke-width="0.6" stroke-linejoin="round"/>
<rect x="128.5" y="178.8" width="5.8" height="25.2" fill="#1f55a2" stroke="#1c1c1c" stroke-width="0.55"/>
<line x1="128.5" y1="190.5" x2="134.3" y2="190.5" stroke="#1c1c1c" stroke-width="0.8"/>
<line x1="137.6" y1="113.5" x2="137.6" y2="223.8" stroke="#666" stroke-width="0.95"/>
<line x1="137.6" y1="119" x2="137.6" y2="124.5" stroke="#111" stroke-width="1.8"/>
<circle cx="137.6" cy="119" r="1.15" fill="#111"/>
<circle cx="137.6" cy="121.89" r="1.15" fill="#111"/>
<circle cx="137.6" cy="113.5" r="1.25" fill="#111"/>
<circle cx="137.6" cy="220.6" r="1.25" fill="#111"/>
<circle cx="137.6" cy="223.8" r="1.25" fill="#111"/>
<polygon points="137.6,130 137.56,132.15 137.48,134.3 137.38,136.45 137.26,138.6 137.13,140.75 136.98,142.9 136.82,145.05 136.65,147.2 136.47,149.35 136.27,151.5 136.07,153.65 135.85,155.8 135.63,157.95 135.4,160.1 134.6,182.7 135.09,185.36 135.53,188.03 135.92,190.69 136.26,193.36 136.56,196.02 136.82,198.69 137.03,201.35 137.21,204.01 137.35,206.68 137.45,209.34 137.53,212.01 137.57,214.67 137.59,217.34 137.6,220 137.6,220 137.61,217.34 137.63,214.67 137.67,212.01 137.75,209.34 137.85,206.68 137.99,204.01 138.17,201.35 138.38,198.69 138.64,196.02 138.94,193.36 139.28,190.69 139.67,188.03 140.11,185.36 140.6,182.7 139.8,160.1 139.57,157.95 139.35,155.8 139.13,153.65 138.93,151.5 138.73,149.35 138.55,147.2 138.38,145.05 138.22,142.9 138.07,140.75 137.94,138.6 137.82,136.45 137.72,134.3 137.64,132.15 137.6,130" fill="#27812f" stroke="#111" stroke-width="0.6" stroke-linejoin="round"/>
<polygon points="137.6,130 137.56,132.15 137.48,134.3 137.38,136.45 137.26,138.6 137.13,140.75 136.98,142.9 136.82,145.05 136.65,147.2 136.47,149.35 136.27,151.5 136.07,153.65 135.85,155.8 135.63,157.95 135.4,160.1 139.8,160.1 139.57,157.95 139.35,155.8 139.13,153.65 138.93,151.5 138.73,149.35 138.55,147.2 138.38,145.05 138.22,142.9 138.07,140.75 137.94,138.6 137.82,136.45 137.72,134.3 137.64,132.15 137.6,130" fill="url(#gug)" stroke="#111" stroke-width="0.6" stroke-linejoin="round"/>
<polygon points="134.6,182.7 135.09,185.36 135.53,188.03 135.92,190.69 136.26,193.36 136.56,196.02 136.82,198.69 137.03,201.35 137.21,204.01 137.35,206.68 137.45,209.34 137.53,212.01 137.57,214.67 137.59,217.34 137.6,220 137.6,220 137.61,217.34 137.63,214.67 137.67,212.01 137.75,209.34 137.85,206.68 137.99,204.01 138.17,201.35 138.38,198.69 138.64,196.02 138.94,193.36 139.28,190.69 139.67,188.03 140.11,185.36 140.6,182.7" fill="url(#gdg)" stroke="#111" stroke-width="0.6" stroke-linejoin="round"/>
<rect x="134.7" y="160.1" width="5.8" height="22.6" fill="#3bb244" stroke="#1c1c1c" stroke-width="0.55"/>
<line x1="134.7" y1="170.9" x2="140.5" y2="170.9" stroke="#1c1c1c" stroke-width="0.8"/>
<line x1="146" y1="150.3" x2="146" y2="229.8" stroke="#666" stroke-width="0.95"/>
<polygon points="146,150.3 145.94,152.89 145.84,155.49 145.72,158.08 145.58,160.67 145.43,163.26 145.27,165.86 145.09,168.45 144.9,171.04 144.71,173.64 144.5,176.23 144.29,178.82 144.07,181.41 143.84,184.01 143.6,186.6 142.9,212.2 143.16,213.46 143.42,214.71 143.68,215.97 143.93,217.23 144.18,218.49 144.42,219.74 144.65,221 144.88,222.26 145.1,223.51 145.31,224.77 145.51,226.03 145.7,227.29 145.87,228.54 146,229.8 146,229.8 146.13,228.54 146.3,227.29 146.49,226.03 146.69,224.77 146.9,223.51 147.12,222.26 147.35,221 147.58,219.74 147.82,218.49 148.07,217.23 148.32,215.97 148.58,214.71 148.84,213.46 149.1,212.2 148.4,186.6 148.16,184.01 147.93,181.41 147.71,178.82 147.5,176.23 147.29,173.64 147.1,171.04 146.91,168.45 146.73,165.86 146.57,163.26 146.42,160.67 146.28,158.08 146.16,155.49 146.06,152.89 146,150.3" fill="#9b0e29" stroke="#111" stroke-width="0.6" stroke-linejoin="round"/>
<polygon points="146,150.3 145.94,152.89 145.84,155.49 145.72,158.08 145.58,160.67 145.43,163.26 145.27,165.86 145.09,168.45 144.9,171.04 144.71,173.64 144.5,176.23 144.29,178.82 144.07,181.41 143.84,184.01 143.6,186.6 148.4,186.6 148.16,184.01 147.93,181.41 147.71,178.82 147.5,176.23 147.29,173.64 147.1,171.04 146.91,168.45 146.73,165.86 146.57,163.26 146.42,160.67 146.28,158.08 146.16,155.49 146.06,152.89 146,150.3" fill="url(#gur)" stroke="#111" stroke-width="0.6" stroke-linejoin="round"/>
<polygon points="142.9,212.2 143.16,213.46 143.42,214.71 143.68,215.97 143.93,217.23 144.18,218.49 144.42,219.74 144.65,221 144.88,222.26 145.1,223.51 145.31,224.77 145.51,226.03 145.7,227.29 145.87,228.54 146,229.8 146,229.8 146.13,228.54 146.3,227.29 146.49,226.03 146.69,224.77 146.9,223.51 147.12,222.26 147.35,221 147.58,219.74 147.82,218.49 148.07,217.23 148.32,215.97 148.58,214.71 148.84,213.46 149.1,212.2" fill="url(#gdr)" stroke="#111" stroke-width="0.6" stroke-linejoin="round"/>
<rect x="143.1" y="186.6" width="5.8" height="25.6" fill="#d2102e" stroke="#1c1c1c" stroke-width="0.55"/>
<line x1="143.1" y1="196.4" x2="148.9" y2="196.4" stroke="#1c1c1c" stroke-width="0.8"/>
<line x1="152.3" y1="178.8" x2="152.3" y2="223" stroke="#666" stroke-width="0.95"/>
<polygon points="152.3,178.8 152.24,179.99 152.16,181.19 152.06,182.38 151.95,183.57 151.83,184.76 151.7,185.96 151.57,187.15 151.43,188.34 151.29,189.54 151.14,190.73 150.98,191.92 150.83,193.11 150.67,194.31 150.5,195.5 149.3,216 149.41,216.5 149.52,217 149.64,217.5 149.76,218 149.89,218.5 150.03,219 150.18,219.5 150.34,220 150.51,220.5 150.7,221 150.91,221.5 151.17,222 151.5,222.5 152.3,223 152.3,223 153.1,222.5 153.43,222 153.69,221.5 153.9,221 154.09,220.5 154.26,220 154.42,219.5 154.57,219 154.71,218.5 154.84,218 154.96,217.5 155.08,217 155.19,216.5 155.3,216 154.1,195.5 153.93,194.31 153.77,193.11 153.62,191.92 153.46,190.73 153.31,189.54 153.17,188.34 153.03,187.15 152.9,185.96 152.77,184.76 152.65,183.57 152.54,182.38 152.44,181.19 152.36,179.99 152.3,178.8" fill="#183d7a" stroke="#111" stroke-width="0.6" stroke-linejoin="round"/>
<polygon points="152.3,178.8 152.24,179.99 152.16,181.19 152.06,182.38 151.95,183.57 151.83,184.76 151.7,185.96 151.57,187.15 151.43,188.34 151.29,189.54 151.14,190.73 150.98,191.92 150.83,193.11 150.67,194.31 150.5,195.5 154.1,195.5 153.93,194.31 153.77,193.11 153.62,191.92 153.46,190.73 153.31,189.54 153.17,188.34 153.03,187.15 152.9,185.96 152.77,184.76 152.65,183.57 152.54,182.38 152.44,181.19 152.36,179.99 152.3,178.8" fill="url(#gub)" stroke="#111" stroke-width="0.6" stroke-linejoin="round"/>
<rect x="149.4" y="195.5" width="5.8" height="20.5" fill="#1f55a2" stroke="#1c1c1c" stroke-width="0.55"/>
<line x1="149.4" y1="206.3" x2="155.2" y2="206.3" stroke="#1c1c1c" stroke-width="0.8"/>
<line x1="158.5" y1="166" x2="158.5" y2="218" stroke="#666" stroke-width="0.95"/>
<polygon points="158.5,166 158.44,167.54 158.34,169.09 158.23,170.63 158.11,172.17 157.98,173.71 157.84,175.26 157.69,176.8 157.53,178.34 157.37,179.89 157.21,181.43 157.04,182.97 156.86,184.51 156.68,186.06 156.5,187.6 155.5,204.3 155.76,205.28 156.01,206.26 156.25,207.24 156.5,208.21 156.73,209.19 156.97,210.17 157.19,211.15 157.41,212.13 157.63,213.11 157.83,214.09 158.03,215.06 158.21,216.04 158.37,217.02 158.5,218 158.5,218 158.63,217.02 158.79,216.04 158.97,215.06 159.17,214.09 159.37,213.11 159.59,212.13 159.81,211.15 160.03,210.17 160.27,209.19 160.5,208.21 160.75,207.24 160.99,206.26 161.24,205.28 161.5,204.3 160.5,187.6 160.32,186.06 160.14,184.51 159.96,182.97 159.79,181.43 159.63,179.89 159.47,178.34 159.31,176.8 159.16,175.26 159.02,173.71 158.89,172.17 158.77,170.63 158.66,169.09 158.56,167.54 158.5,166" fill="#27812f" stroke="#111" stroke-width="0.6" stroke-linejoin="round"/>
<polygon points="158.5,166 158.44,167.54 158.34,169.09 158.23,170.63 158.11,172.17 157.98,173.71 157.84,175.26 157.69,176.8 157.53,178.34 157.37,179.89 157.21,181.43 157.04,182.97 156.86,184.51 156.68,186.06 156.5,187.6 160.5,187.6 160.32,186.06 160.14,184.51 159.96,182.97 159.79,181.43 159.63,179.89 159.47,178.34 159.31,176.8 159.16,175.26 159.02,173.71 158.89,172.17 158.77,170.63 158.66,169.09 158.56,167.54 158.5,166" fill="url(#gug)" stroke="#111" stroke-width="0.6" stroke-linejoin="round"/>
<polygon points="155.5,204.3 155.76,205.28 156.01,206.26 156.25,207.24 156.5,208.21 156.73,209.19 156.97,210.17 157.19,211.15 157.41,212.13 157.63,213.11 157.83,214.09 158.03,215.06 158.21,216.04 158.37,217.02 158.5,218 158.5,218 158.63,217.02 158.79,216.04 158.97,215.06 159.17,214.09 159.37,213.11 159.59,212.13 159.81,211.15 160.03,210.17 160.27,209.19 160.5,208.21 160.75,207.24 160.99,206.26 161.24,205.28 161.5,204.3" fill="url(#gdg)" stroke="#111" stroke-width="0.6" stroke-linejoin="round"/>
<rect x="155.6" y="187.6" width="5.8" height="16.7" fill="#3bb244" stroke="#1c1c1c" stroke-width="0.55"/>
<line x1="155.6" y1="198.4" x2="161.4" y2="198.4" stroke="#1c1c1c" stroke-width="0.8"/>
<line x1="166.9" y1="124.8" x2="166.9" y2="228.6" stroke="#666" stroke-width="0.95"/>
<line x1="166.9" y1="193" x2="166.9" y2="210" stroke="#111" stroke-width="1.8"/>
<circle cx="166.9" cy="193" r="1.15" fill="#111"/>
<circle cx="166.9" cy="194.76" r="1.15" fill="#111"/>
<circle cx="166.9" cy="196.67" r="1.15" fill="#111"/>
<circle cx="166.9" cy="199.04" r="1.15" fill="#111"/>
<circle cx="166.9" cy="200.38" r="1.15" fill="#111"/>
<circle cx="166.9" cy="202.42" r="1.15" fill="#111"/>
<circle cx="166.9" cy="203.99" r="1.15" fill="#111"/>
<circle cx="166.9" cy="205.47" r="1.15" fill="#111"/>
<circle cx="166.9" cy="206.87" r="1.15" fill="#111"/>
<circle cx="166.9" cy="209.4" r="1.15" fill="#111"/>
<circle cx="166.9" cy="124.8" r="1.25" fill="#111"/>
<circle cx="166.9" cy="146.3" r="1.25" fill="#111"/>
<circle cx="166.9" cy="155.8" r="1.25" fill="#111"/>
<circle cx="166.9" cy="166.7" r="1.25" fill="#111"/>
<circle cx="166.9" cy="172.4" r="1.25" fill="#111"/>
<circle cx="166.9" cy="176" r="1.25" fill="#111"/>
<circle cx="166.9" cy="180.8" r="1.25" fill="#111"/>
<circle cx="166.9" cy="187.5" r="1.25" fill="#111"/>
<polygon points="166.9,211 166.9,211" fill="#d2102e" stroke="#111" stroke-width="0.6" stroke-linejoin="round"/>
<polygon points="166.9,211 166.75,211.92 166.6,212.83 166.45,213.75 166.3,214.67 166.15,215.58 166,216.5 165.62,217 165.26,217.5 164.91,218 164.59,218.5 164.3,219 164.06,219.5 163.86,220 163.72,220.5 163.63,221 163.6,221.5 163.62,222.09 163.69,222.68 163.8,223.28 163.96,223.87 164.16,224.46 164.4,225.05 164.68,225.64 165,226.23 165.37,226.82 165.78,227.42 166.25,228.01 166.9,228.6 166.9,228.6 167.55,228.01 168.02,227.42 168.43,226.82 168.8,226.23 169.12,225.64 169.4,225.05 169.64,224.46 169.84,223.87 170,223.28 170.11,222.68 170.18,222.09 170.2,221.5 170.17,221 170.08,220.5 169.94,220 169.74,219.5 169.5,219 169.21,218.5 168.89,218 168.54,217.5 168.18,217 167.8,216.5 167.65,215.58 167.5,214.67 167.35,213.75 167.2,212.83 167.05,211.92 166.9,211" fill="#b00f2d" stroke="#111" stroke-width="0.6" stroke-linejoin="round"/>
<polygon points="166.9,211 166.75,211.92 166.6,212.83 166.45,213.75 166.3,214.67 166.15,215.58 166,216.5 167.8,216.5 167.65,215.58 167.5,214.67 167.35,213.75 167.2,212.83 167.05,211.92 166.9,211" fill="#600b1c" stroke="#111" stroke-width="0.6"/>
<rect x="164.75" y="219.25" width="4.3" height="5.8" fill="#d2102e" stroke="none"/>
<line x1="164.18" y1="219.25" x2="169.62" y2="219.25" stroke="#111" stroke-width="0.45" opacity="0.7"/>
<line x1="164.4" y1="225.05" x2="169.4" y2="225.05" stroke="#111" stroke-width="0.45" opacity="0.7"/>
<line x1="163.63" y1="222.21" x2="170.17" y2="222.21" stroke="#111" stroke-width="0.8"/>
<line x1="173.2" y1="180.8" x2="173.2" y2="232.4" stroke="#666" stroke-width="0.95"/>
<line x1="173.2" y1="190.3" x2="173.2" y2="211" stroke="#111" stroke-width="1.8"/>
<circle cx="173.2" cy="190.3" r="1.15" fill="#111"/>
<circle cx="173.2" cy="192" r="1.15" fill="#111"/>
<circle cx="173.2" cy="193.92" r="1.15" fill="#111"/>
<circle cx="173.2" cy="196.62" r="1.15" fill="#111"/>
<circle cx="173.2" cy="198.04" r="1.15" fill="#111"/>
<circle cx="173.2" cy="200.06" r="1.15" fill="#111"/>
<circle cx="173.2" cy="202.24" r="1.15" fill="#111"/>
<circle cx="173.2" cy="204.96" r="1.15" fill="#111"/>
<circle cx="173.2" cy="207.57" r="1.15" fill="#111"/>
<circle cx="173.2" cy="210.25" r="1.15" fill="#111"/>
<circle cx="173.2" cy="180.8" r="1.25" fill="#111"/>
<circle cx="173.2" cy="183.7" r="1.25" fill="#111"/>
<circle cx="173.2" cy="232.4" r="1.25" fill="#111"/>
<polygon points="173.2,212 173.2,212" fill="#1f55a2" stroke="#111" stroke-width="0.6" stroke-linejoin="round"/>
<polygon points="173.2,212 173.05,212.92 172.9,213.83 172.75,214.75 172.6,215.67 172.45,216.58 172.3,217.5 171.96,217.95 171.62,218.4 171.3,218.85 171.01,219.3 170.74,219.75 170.52,220.2 170.34,220.65 170.21,221.1 170.13,221.55 170.1,222 170.12,222.5 170.18,223 170.29,223.5 170.44,224 170.62,224.5 170.85,225 171.12,225.5 171.42,226 171.76,226.5 172.15,227 172.59,227.5 173.2,228 173.2,228 173.81,227.5 174.25,227 174.64,226.5 174.98,226 175.28,225.5 175.55,225 175.78,224.5 175.96,224 176.11,223.5 176.22,223 176.28,222.5 176.3,222 176.27,221.55 176.19,221.1 176.06,220.65 175.88,220.2 175.66,219.75 175.39,219.3 175.1,218.85 174.78,218.4 174.44,217.95 174.1,217.5 173.95,216.58 173.8,215.67 173.65,214.75 173.5,213.83 173.35,212.92 173.2,212" fill="#1a4482" stroke="#111" stroke-width="0.6" stroke-linejoin="round"/>
<polygon points="173.2,212 173.05,212.92 172.9,213.83 172.75,214.75 172.6,215.67 172.45,216.58 172.3,217.5 174.1,217.5 173.95,216.58 173.8,215.67 173.65,214.75 173.5,213.83 173.35,212.92 173.2,212" fill="#132f58" stroke="#111" stroke-width="0.6"/>
<rect x="171.2" y="219.97" width="4" height="5.03" fill="#1f55a2" stroke="none"/>
<line x1="170.63" y1="219.97" x2="175.77" y2="219.97" stroke="#111" stroke-width="0.45" opacity="0.7"/>
<line x1="170.85" y1="225" x2="175.55" y2="225" stroke="#111" stroke-width="0.45" opacity="0.7"/>
<line x1="170.13" y1="222.6" x2="176.27" y2="222.6" stroke="#111" stroke-width="0.8"/>
<line x1="179.4" y1="100.3" x2="179.4" y2="230.3" stroke="#666" stroke-width="0.95"/>
<line x1="179.4" y1="185.6" x2="179.4" y2="205" stroke="#111" stroke-width="1.8"/>
<circle cx="179.4" cy="185.6" r="1.15" fill="#111"/>
<circle cx="179.4" cy="187.56" r="1.15" fill="#111"/>
<circle cx="179.4" cy="189.44" r="1.15" fill="#111"/>
<circle cx="179.4" cy="192.15" r="1.15" fill="#111"/>
<circle cx="179.4" cy="194.99" r="1.15" fill="#111"/>
<circle cx="179.4" cy="196.53" r="1.15" fill="#111"/>
<circle cx="179.4" cy="198.11" r="1.15" fill="#111"/>
<circle cx="179.4" cy="199.78" r="1.15" fill="#111"/>
<circle cx="179.4" cy="201.45" r="1.15" fill="#111"/>
<circle cx="179.4" cy="203.53" r="1.15" fill="#111"/>
<circle cx="179.4" cy="100.3" r="1.25" fill="#111"/>
<circle cx="179.4" cy="112" r="1.25" fill="#111"/>
<circle cx="179.4" cy="115.8" r="1.25" fill="#111"/>
<circle cx="179.4" cy="122.4" r="1.25" fill="#111"/>
<circle cx="179.4" cy="125" r="1.25" fill="#111"/>
<circle cx="179.4" cy="129" r="1.25" fill="#111"/>
<circle cx="179.4" cy="132.7" r="1.25" fill="#111"/>
<circle cx="179.4" cy="135" r="1.25" fill="#111"/>
<circle cx="179.4" cy="142.2" r="1.25" fill="#111"/>
<circle cx="179.4" cy="149.7" r="1.25" fill="#111"/>
<circle cx="179.4" cy="152" r="1.25" fill="#111"/>
<circle cx="179.4" cy="156.3" r="1.25" fill="#111"/>
<circle cx="179.4" cy="162" r="1.25" fill="#111"/>
<circle cx="179.4" cy="165.8" r="1.25" fill="#111"/>
<circle cx="179.4" cy="172.4" r="1.25" fill="#111"/>
<circle cx="179.4" cy="178" r="1.25" fill="#111"/>
<circle cx="179.4" cy="181.8" r="1.25" fill="#111"/>
<polygon points="179.4,205.5 179.4,205.5" fill="#3bb244" stroke="#111" stroke-width="0.6" stroke-linejoin="round"/>
<polygon points="179.4,205.5 179.25,206.83 179.1,208.17 178.95,209.5 178.8,210.83 178.65,212.17 178.5,213.5 178.12,214.15 177.76,214.8 177.41,215.45 177.09,216.1 176.8,216.75 176.56,217.4 176.36,218.05 176.22,218.7 176.13,219.35 176.1,220 176.12,220.86 176.19,221.72 176.3,222.57 176.46,223.43 176.66,224.29 176.9,225.15 177.18,226.01 177.5,226.87 177.87,227.73 178.28,228.58 178.75,229.44 179.4,230.3 179.4,230.3 180.05,229.44 180.52,228.58 180.93,227.73 181.3,226.87 181.62,226.01 181.9,225.15 182.14,224.29 182.34,223.43 182.5,222.57 182.61,221.72 182.68,220.86 182.7,220 182.67,219.35 182.58,218.7 182.44,218.05 182.24,217.4 182,216.75 181.71,216.1 181.39,215.45 181.04,214.8 180.68,214.15 180.3,213.5 180.15,212.17 180,210.83 179.85,209.5 179.7,208.17 179.55,206.83 179.4,205.5" fill="#2d9937" stroke="#111" stroke-width="0.6" stroke-linejoin="round"/>
<polygon points="179.4,205.5 179.25,206.83 179.1,208.17 178.95,209.5 178.8,210.83 178.65,212.17 178.5,213.5 180.3,213.5 180.15,212.17 180,210.83 179.85,209.5 179.7,208.17 179.55,206.83 179.4,205.5" fill="#164d1f" stroke="#111" stroke-width="0.6"/>
<rect x="177.25" y="217.07" width="4.3" height="8.08" fill="#3bb244" stroke="none"/>
<line x1="176.68" y1="217.07" x2="182.12" y2="217.07" stroke="#111" stroke-width="0.45" opacity="0.7"/>
<line x1="176.9" y1="225.15" x2="181.9" y2="225.15" stroke="#111" stroke-width="0.45" opacity="0.7"/>
<line x1="176.13" y1="221.03" x2="182.67" y2="221.03" stroke="#111" stroke-width="0.8"/>
<line x1="187.8" y1="174.2" x2="187.8" y2="235.8" stroke="#666" stroke-width="0.95"/>
<circle cx="187.8" cy="174.2" r="1.25" fill="#111"/>
<circle cx="187.8" cy="189.3" r="1.25" fill="#111"/>
<circle cx="187.8" cy="196.9" r="1.25" fill="#111"/>
<polygon points="187.8,203 187.8,203" fill="#d2102e" stroke="#111" stroke-width="0.6" stroke-linejoin="round"/>
<polygon points="187.8,203 187.62,204.58 187.43,206.17 187.25,207.75 187.07,209.33 186.88,210.92 186.7,212.5 186.34,213.55 185.99,214.6 185.66,215.65 185.35,216.7 185.07,217.75 184.84,218.8 184.65,219.85 184.51,220.9 184.43,221.95 184.4,223 184.42,224.07 184.48,225.13 184.58,226.2 184.73,227.27 184.91,228.33 185.13,229.4 185.4,230.47 185.71,231.53 186.06,232.6 186.48,233.67 186.98,234.73 187.8,235.8 187.8,235.8 188.62,234.73 189.12,233.67 189.54,232.6 189.89,231.53 190.2,230.47 190.47,229.4 190.69,228.33 190.87,227.27 191.02,226.2 191.12,225.13 191.18,224.07 191.2,223 191.17,221.95 191.09,220.9 190.95,219.85 190.76,218.8 190.53,217.75 190.25,216.7 189.94,215.65 189.61,214.6 189.26,213.55 188.9,212.5 188.72,210.92 188.53,209.33 188.35,207.75 188.17,206.17 187.98,204.58 187.8,203" fill="#b00f2d" stroke="#111" stroke-width="0.6" stroke-linejoin="round"/>
<polygon points="187.8,203 187.62,204.58 187.43,206.17 187.25,207.75 187.07,209.33 186.88,210.92 186.7,212.5 188.9,212.5 188.72,210.92 188.53,209.33 188.35,207.75 188.17,206.17 187.98,204.58 187.8,203" fill="#600b1c" stroke="#111" stroke-width="0.6"/>
<rect x="185.48" y="218.28" width="4.64" height="11.12" fill="#d2102e" stroke="none"/>
<line x1="184.95" y1="218.28" x2="190.65" y2="218.28" stroke="#111" stroke-width="0.45" opacity="0.7"/>
<line x1="185.13" y1="229.4" x2="190.47" y2="229.4" stroke="#111" stroke-width="0.45" opacity="0.7"/>
<line x1="184.43" y1="224.28" x2="191.17" y2="224.28" stroke="#111" stroke-width="0.8"/>
<line x1="194.1" y1="183.7" x2="194.1" y2="236.7" stroke="#666" stroke-width="0.95"/>
<circle cx="194.1" cy="183.7" r="1.25" fill="#111"/>
<circle cx="194.1" cy="187.5" r="1.25" fill="#111"/>
<polygon points="194.1,194 194.1,194" fill="#1f55a2" stroke="#111" stroke-width="0.6" stroke-linejoin="round"/>
<polygon points="194.1,194 193.92,196.83 193.73,199.67 193.55,202.5 193.37,205.33 193.18,208.17 193,211 192.66,212.25 192.32,213.5 192,214.75 191.71,216 191.44,217.25 191.22,218.5 191.04,219.75 190.91,221 190.83,222.25 190.8,223.5 190.82,224.6 190.88,225.7 190.98,226.8 191.12,227.9 191.29,229 191.51,230.1 191.77,231.2 192.07,232.3 192.42,233.4 192.82,234.5 193.31,235.6 194.1,236.7 194.1,236.7 194.89,235.6 195.38,234.5 195.78,233.4 196.13,232.3 196.43,231.2 196.69,230.1 196.91,229 197.08,227.9 197.22,226.8 197.32,225.7 197.38,224.6 197.4,223.5 197.37,222.25 197.29,221 197.16,219.75 196.98,218.5 196.76,217.25 196.49,216 196.2,214.75 195.88,213.5 195.54,212.25 195.2,211 195.02,208.17 194.83,205.33 194.65,202.5 194.47,199.67 194.28,196.83 194.1,194" fill="#1a4482" stroke="#111" stroke-width="0.6" stroke-linejoin="round"/>
<polygon points="194.1,194 193.92,196.83 193.73,199.67 193.55,202.5 193.37,205.33 193.18,208.17 193,211 195.2,211 195.02,208.17 194.83,205.33 194.65,202.5 194.47,199.67 194.28,196.83 194.1,194" fill="#132f58" stroke="#111" stroke-width="0.6"/>
<rect x="191.86" y="217.88" width="4.48" height="12.22" fill="#1f55a2" stroke="none"/>
<line x1="191.33" y1="217.88" x2="196.87" y2="217.88" stroke="#111" stroke-width="0.45" opacity="0.7"/>
<line x1="191.51" y1="230.1" x2="196.69" y2="230.1" stroke="#111" stroke-width="0.45" opacity="0.7"/>
<line x1="190.83" y1="224.82" x2="197.37" y2="224.82" stroke="#111" stroke-width="0.8"/>
<line x1="200.3" y1="164.8" x2="200.3" y2="234" stroke="#666" stroke-width="0.95"/>
<circle cx="200.3" cy="164.8" r="1.25" fill="#111"/>
<circle cx="200.3" cy="179" r="1.25" fill="#111"/>
<circle cx="200.3" cy="181.8" r="1.25" fill="#111"/>
<circle cx="200.3" cy="186.5" r="1.25" fill="#111"/>
<polygon points="200.3,194 200.3,194" fill="#3bb244" stroke="#111" stroke-width="0.6" stroke-linejoin="round"/>
<polygon points="200.3,194 200.12,196.67 199.93,199.33 199.75,202 199.57,204.67 199.38,207.33 199.2,210 198.86,211.2 198.52,212.4 198.2,213.6 197.91,214.8 197.64,216 197.42,217.2 197.24,218.4 197.11,219.6 197.03,220.8 197,222 197.02,223 197.08,224 197.18,225 197.32,226 197.49,227 197.71,228 197.97,229 198.27,230 198.62,231 199.02,232 199.51,233 200.3,234 200.3,234 201.09,233 201.58,232 201.98,231 202.33,230 202.63,229 202.89,228 203.11,227 203.28,226 203.42,225 203.52,224 203.58,223 203.6,222 203.57,220.8 203.49,219.6 203.36,218.4 203.18,217.2 202.96,216 202.69,214.8 202.4,213.6 202.08,212.4 201.74,211.2 201.4,210 201.22,207.33 201.03,204.67 200.85,202 200.67,199.33 200.48,196.67 200.3,194" fill="#2d9937" stroke="#111" stroke-width="0.6" stroke-linejoin="round"/>
<polygon points="200.3,194 200.12,196.67 199.93,199.33 199.75,202 199.57,204.67 199.38,207.33 199.2,210 201.4,210 201.22,207.33 201.03,204.67 200.85,202 200.67,199.33 200.48,196.67 200.3,194" fill="#164d1f" stroke="#111" stroke-width="0.6"/>
<rect x="198.06" y="216.6" width="4.48" height="11.4" fill="#3bb244" stroke="none"/>
<line x1="197.53" y1="216.6" x2="203.07" y2="216.6" stroke="#111" stroke-width="0.45" opacity="0.7"/>
<line x1="197.71" y1="228" x2="202.89" y2="228" stroke="#111" stroke-width="0.45" opacity="0.7"/>
<line x1="197.03" y1="223.2" x2="203.57" y2="223.2" stroke="#111" stroke-width="0.8"/>
<line x1="208.7" y1="140.3" x2="208.7" y2="240.2" stroke="#666" stroke-width="0.95"/>
<line x1="208.7" y1="163.9" x2="208.7" y2="208" stroke="#111" stroke-width="1.8"/>
<circle cx="208.7" cy="163.9" r="1.15" fill="#111"/>
<circle cx="208.7" cy="165.62" r="1.15" fill="#111"/>
<circle cx="208.7" cy="166.93" r="1.15" fill="#111"/>
<circle cx="208.7" cy="168.9" r="1.15" fill="#111"/>
<circle cx="208.7" cy="170.79" r="1.15" fill="#111"/>
<circle cx="208.7" cy="172.99" r="1.15" fill="#111"/>
<circle cx="208.7" cy="175.82" r="1.15" fill="#111"/>
<circle cx="208.7" cy="178.22" r="1.15" fill="#111"/>
<circle cx="208.7" cy="180.35" r="1.15" fill="#111"/>
<circle cx="208.7" cy="182.64" r="1.15" fill="#111"/>
<circle cx="208.7" cy="185.02" r="1.15" fill="#111"/>
<circle cx="208.7" cy="186.41" r="1.15" fill="#111"/>
<circle cx="208.7" cy="189.14" r="1.15" fill="#111"/>
<circle cx="208.7" cy="191.69" r="1.15" fill="#111"/>
<circle cx="208.7" cy="194.39" r="1.15" fill="#111"/>
<circle cx="208.7" cy="196.97" r="1.15" fill="#111"/>
<circle cx="208.7" cy="198.9" r="1.15" fill="#111"/>
<circle cx="208.7" cy="200.83" r="1.15" fill="#111"/>
<circle cx="208.7" cy="202.3" r="1.15" fill="#111"/>
<circle cx="208.7" cy="204.61" r="1.15" fill="#111"/>
<circle cx="208.7" cy="206.01" r="1.15" fill="#111"/>
<circle cx="208.7" cy="207.42" r="1.15" fill="#111"/>
<circle cx="208.7" cy="140.3" r="1.25" fill="#111"/>
<circle cx="208.7" cy="157.3" r="1.25" fill="#111"/>
<circle cx="208.7" cy="240.2" r="1.25" fill="#111"/>
<polygon points="208.7,208 208.7,208" fill="#d2102e" stroke="#111" stroke-width="0.6" stroke-linejoin="round"/>
<polygon points="208.7,208 208.55,209.42 208.4,210.83 208.25,212.25 208.1,213.67 207.95,215.08 207.8,216.5 207.42,217.1 207.06,217.7 206.71,218.3 206.39,218.9 206.1,219.5 205.86,220.1 205.66,220.7 205.52,221.3 205.43,221.9 205.4,222.5 205.42,223.32 205.49,224.13 205.6,224.95 205.76,225.77 205.96,226.58 206.2,227.4 206.48,228.22 206.8,229.03 207.17,229.85 207.58,230.67 208.05,231.48 208.7,232.3 208.7,232.3 209.35,231.48 209.82,230.67 210.23,229.85 210.6,229.03 210.92,228.22 211.2,227.4 211.44,226.58 211.64,225.77 211.8,224.95 211.91,224.13 211.98,223.32 212,222.5 211.97,221.9 211.88,221.3 211.74,220.7 211.54,220.1 211.3,219.5 211.01,218.9 210.69,218.3 210.34,217.7 209.98,217.1 209.6,216.5 209.45,215.08 209.3,213.67 209.15,212.25 209,210.83 208.85,209.42 208.7,208" fill="#b00f2d" stroke="#111" stroke-width="0.6" stroke-linejoin="round"/>
<polygon points="208.7,208 208.55,209.42 208.4,210.83 208.25,212.25 208.1,213.67 207.95,215.08 207.8,216.5 209.6,216.5 209.45,215.08 209.3,213.67 209.15,212.25 209,210.83 208.85,209.42 208.7,208" fill="#600b1c" stroke="#111" stroke-width="0.6"/>
<rect x="206.55" y="219.8" width="4.3" height="7.6" fill="#d2102e" stroke="none"/>
<line x1="205.98" y1="219.8" x2="211.42" y2="219.8" stroke="#111" stroke-width="0.45" opacity="0.7"/>
<line x1="206.2" y1="227.4" x2="211.2" y2="227.4" stroke="#111" stroke-width="0.45" opacity="0.7"/>
<line x1="205.43" y1="223.48" x2="211.97" y2="223.48" stroke="#111" stroke-width="0.8"/>
<line x1="215" y1="145.6" x2="215" y2="234" stroke="#666" stroke-width="0.95"/>
<line x1="215" y1="167.6" x2="215" y2="206" stroke="#111" stroke-width="1.8"/>
<circle cx="215" cy="167.6" r="1.15" fill="#111"/>
<circle cx="215" cy="169.16" r="1.15" fill="#111"/>
<circle cx="215" cy="171" r="1.15" fill="#111"/>
<circle cx="215" cy="172.39" r="1.15" fill="#111"/>
<circle cx="215" cy="173.69" r="1.15" fill="#111"/>
<circle cx="215" cy="175.23" r="1.15" fill="#111"/>
<circle cx="215" cy="176.69" r="1.15" fill="#111"/>
<circle cx="215" cy="178.57" r="1.15" fill="#111"/>
<circle cx="215" cy="179.92" r="1.15" fill="#111"/>
<circle cx="215" cy="182.61" r="1.15" fill="#111"/>
<circle cx="215" cy="184.9" r="1.15" fill="#111"/>
<circle cx="215" cy="186.43" r="1.15" fill="#111"/>
<circle cx="215" cy="188.14" r="1.15" fill="#111"/>
<circle cx="215" cy="189.99" r="1.15" fill="#111"/>
<circle cx="215" cy="191.88" r="1.15" fill="#111"/>
<circle cx="215" cy="193.37" r="1.15" fill="#111"/>
<circle cx="215" cy="196.03" r="1.15" fill="#111"/>
<circle cx="215" cy="198.92" r="1.15" fill="#111"/>
<circle cx="215" cy="200.97" r="1.15" fill="#111"/>
<circle cx="215" cy="203.04" r="1.15" fill="#111"/>
<circle cx="215" cy="204.48" r="1.15" fill="#111"/>
<circle cx="215" cy="205.94" r="1.15" fill="#111"/>
<circle cx="215" cy="145.6" r="1.25" fill="#111"/>
<circle cx="215" cy="153.9" r="1.25" fill="#111"/>
<polygon points="215,206 215,206" fill="#1f55a2" stroke="#111" stroke-width="0.6" stroke-linejoin="round"/>
<polygon points="215,206 214.85,207.67 214.7,209.33 214.55,211 214.4,212.67 214.25,214.33 214.1,216 213.74,216.65 213.39,217.3 213.06,217.95 212.75,218.6 212.47,219.25 212.24,219.9 212.05,220.55 211.91,221.2 211.83,221.85 211.8,222.5 211.82,223.46 211.89,224.42 212,225.38 212.15,226.33 212.34,227.29 212.57,228.25 212.85,229.21 213.16,230.17 213.52,231.12 213.91,232.08 214.37,233.04 215,234 215,234 215.63,233.04 216.09,232.08 216.48,231.12 216.84,230.17 217.15,229.21 217.43,228.25 217.66,227.29 217.85,226.33 218,225.38 218.11,224.42 218.18,223.46 218.2,222.5 218.17,221.85 218.09,221.2 217.95,220.55 217.76,219.9 217.53,219.25 217.25,218.6 216.94,217.95 216.61,217.3 216.26,216.65 215.9,216 215.75,214.33 215.6,212.67 215.45,211 215.3,209.33 215.15,207.67 215,206" fill="#1a4482" stroke="#111" stroke-width="0.6" stroke-linejoin="round"/>
<polygon points="215,206 214.85,207.67 214.7,209.33 214.55,211 214.4,212.67 214.25,214.33 214.1,216 215.9,216 215.75,214.33 215.6,212.67 215.45,211 215.3,209.33 215.15,207.67 215,206" fill="#132f58" stroke="#111" stroke-width="0.6"/>
<rect x="212.92" y="219.57" width="4.15" height="8.68" fill="#1f55a2" stroke="none"/>
<line x1="212.35" y1="219.57" x2="217.65" y2="219.57" stroke="#111" stroke-width="0.45" opacity="0.7"/>
<line x1="212.57" y1="228.25" x2="217.43" y2="228.25" stroke="#111" stroke-width="0.45" opacity="0.7"/>
<line x1="211.83" y1="223.65" x2="218.17" y2="223.65" stroke="#111" stroke-width="0.8"/>
<line x1="221.2" y1="104" x2="221.2" y2="235" stroke="#666" stroke-width="0.95"/>
<line x1="221.2" y1="129" x2="221.2" y2="133.7" stroke="#111" stroke-width="1.8"/>
<line x1="221.2" y1="157.3" x2="221.2" y2="205" stroke="#111" stroke-width="1.8"/>
<circle cx="221.2" cy="129" r="1.15" fill="#111"/>
<circle cx="221.2" cy="130.72" r="1.15" fill="#111"/>
<circle cx="221.2" cy="133.35" r="1.15" fill="#111"/>
<circle cx="221.2" cy="157.3" r="1.15" fill="#111"/>
<circle cx="221.2" cy="158.64" r="1.15" fill="#111"/>
<circle cx="221.2" cy="161.46" r="1.15" fill="#111"/>
<circle cx="221.2" cy="163.6" r="1.15" fill="#111"/>
<circle cx="221.2" cy="165.14" r="1.15" fill="#111"/>
<circle cx="221.2" cy="167.31" r="1.15" fill="#111"/>
<circle cx="221.2" cy="168.65" r="1.15" fill="#111"/>
<circle cx="221.2" cy="170.8" r="1.15" fill="#111"/>
<circle cx="221.2" cy="173.66" r="1.15" fill="#111"/>
<circle cx="221.2" cy="176.34" r="1.15" fill="#111"/>
<circle cx="221.2" cy="178.76" r="1.15" fill="#111"/>
<circle cx="221.2" cy="180.47" r="1.15" fill="#111"/>
<circle cx="221.2" cy="182.36" r="1.15" fill="#111"/>
<circle cx="221.2" cy="183.93" r="1.15" fill="#111"/>
<circle cx="221.2" cy="186.46" r="1.15" fill="#111"/>
<circle cx="221.2" cy="188.62" r="1.15" fill="#111"/>
<circle cx="221.2" cy="191.16" r="1.15" fill="#111"/>
<circle cx="221.2" cy="192.99" r="1.15" fill="#111"/>
<circle cx="221.2" cy="194.65" r="1.15" fill="#111"/>
<circle cx="221.2" cy="197.24" r="1.15" fill="#111"/>
<circle cx="221.2" cy="200.12" r="1.15" fill="#111"/>
<circle cx="221.2" cy="202.78" r="1.15" fill="#111"/>
<circle cx="221.2" cy="104" r="1.25" fill="#111"/>
<circle cx="221.2" cy="111.6" r="1.25" fill="#111"/>
<circle cx="221.2" cy="115.8" r="1.25" fill="#111"/>
<circle cx="221.2" cy="122.4" r="1.25" fill="#111"/>
<circle cx="221.2" cy="139.3" r="1.25" fill="#111"/>
<circle cx="221.2" cy="149.7" r="1.25" fill="#111"/>
<polygon points="221.2,205 221.2,205" fill="#3bb244" stroke="#111" stroke-width="0.6" stroke-linejoin="round"/>
<polygon points="221.2,205 221.05,206.58 220.9,208.17 220.75,209.75 220.6,211.33 220.45,212.92 220.3,214.5 219.92,215.2 219.56,215.9 219.21,216.6 218.89,217.3 218.6,218 218.36,218.7 218.16,219.4 218.02,220.1 217.93,220.8 217.9,221.5 217.92,222.62 217.99,223.75 218.1,224.88 218.26,226 218.46,227.12 218.7,228.25 218.98,229.38 219.3,230.5 219.67,231.62 220.08,232.75 220.55,233.88 221.2,235 221.2,235 221.85,233.88 222.32,232.75 222.73,231.62 223.1,230.5 223.42,229.38 223.7,228.25 223.94,227.12 224.14,226 224.3,224.88 224.41,223.75 224.48,222.62 224.5,221.5 224.47,220.8 224.38,220.1 224.24,219.4 224.04,218.7 223.8,218 223.51,217.3 223.19,216.6 222.84,215.9 222.48,215.2 222.1,214.5 221.95,212.92 221.8,211.33 221.65,209.75 221.5,208.17 221.35,206.58 221.2,205" fill="#2d9937" stroke="#111" stroke-width="0.6" stroke-linejoin="round"/>
<polygon points="221.2,205 221.05,206.58 220.9,208.17 220.75,209.75 220.6,211.33 220.45,212.92 220.3,214.5 222.1,214.5 221.95,212.92 221.8,211.33 221.65,209.75 221.5,208.17 221.35,206.58 221.2,205" fill="#164d1f" stroke="#111" stroke-width="0.6"/>
<rect x="219.05" y="218.35" width="4.3" height="9.9" fill="#3bb244" stroke="none"/>
<line x1="218.48" y1="218.35" x2="223.92" y2="218.35" stroke="#111" stroke-width="0.45" opacity="0.7"/>
<line x1="218.7" y1="228.25" x2="223.7" y2="228.25" stroke="#111" stroke-width="0.45" opacity="0.7"/>
<line x1="217.93" y1="222.85" x2="224.47" y2="222.85" stroke="#111" stroke-width="0.8"/>
<line x1="229.6" y1="196.9" x2="229.6" y2="229.7" stroke="#666" stroke-width="0.95"/>
<line x1="229.6" y1="200.7" x2="229.6" y2="212" stroke="#111" stroke-width="1.8"/>
<circle cx="229.6" cy="200.7" r="1.15" fill="#111"/>
<circle cx="229.6" cy="203.31" r="1.15" fill="#111"/>
<circle cx="229.6" cy="205.79" r="1.15" fill="#111"/>
<circle cx="229.6" cy="207.46" r="1.15" fill="#111"/>
<circle cx="229.6" cy="209.58" r="1.15" fill="#111"/>
<circle cx="229.6" cy="211.45" r="1.15" fill="#111"/>
<polygon points="229.6,212.7 229.6,212.7" fill="#d2102e" stroke="#111" stroke-width="0.6" stroke-linejoin="round"/>
<polygon points="229.6,212.7 229.45,213.58 229.3,214.47 229.15,215.35 229,216.23 228.85,217.12 228.7,218 228.32,218.5 227.96,219 227.61,219.5 227.29,220 227,220.5 226.76,221 226.56,221.5 226.42,222 226.33,222.5 226.3,223 226.32,223.56 226.39,224.12 226.5,224.68 226.66,225.23 226.86,225.79 227.1,226.35 227.38,226.91 227.7,227.47 228.07,228.02 228.48,228.58 228.95,229.14 229.6,229.7 229.6,229.7 230.25,229.14 230.72,228.58 231.13,228.02 231.5,227.47 231.82,226.91 232.1,226.35 232.34,225.79 232.54,225.23 232.7,224.68 232.81,224.12 232.88,223.56 232.9,223 232.87,222.5 232.78,222 232.64,221.5 232.44,221 232.2,220.5 231.91,220 231.59,219.5 231.24,219 230.88,218.5 230.5,218 230.35,217.12 230.2,216.23 230.05,215.35 229.9,214.47 229.75,213.58 229.6,212.7" fill="#b00f2d" stroke="#111" stroke-width="0.6" stroke-linejoin="round"/>
<polygon points="229.6,212.7 229.45,213.58 229.3,214.47 229.15,215.35 229,216.23 228.85,217.12 228.7,218 230.5,218 230.35,217.12 230.2,216.23 230.05,215.35 229.9,214.47 229.75,213.58 229.6,212.7" fill="#600b1c" stroke="#111" stroke-width="0.6"/>
<rect x="227.45" y="220.75" width="4.3" height="5.6" fill="#d2102e" stroke="none"/>
<line x1="226.88" y1="220.75" x2="232.32" y2="220.75" stroke="#111" stroke-width="0.45" opacity="0.7"/>
<line x1="227.1" y1="226.35" x2="232.1" y2="226.35" stroke="#111" stroke-width="0.45" opacity="0.7"/>
<line x1="226.33" y1="223.67" x2="232.87" y2="223.67" stroke="#111" stroke-width="0.8"/>
<line x1="235.9" y1="190.3" x2="235.9" y2="230.8" stroke="#666" stroke-width="0.95"/>
<line x1="235.9" y1="192.2" x2="235.9" y2="211" stroke="#111" stroke-width="1.8"/>
<circle cx="235.9" cy="192.2" r="1.15" fill="#111"/>
<circle cx="235.9" cy="193.54" r="1.15" fill="#111"/>
<circle cx="235.9" cy="195.29" r="1.15" fill="#111"/>
<circle cx="235.9" cy="197.01" r="1.15" fill="#111"/>
<circle cx="235.9" cy="199.41" r="1.15" fill="#111"/>
<circle cx="235.9" cy="202.24" r="1.15" fill="#111"/>
<circle cx="235.9" cy="204.26" r="1.15" fill="#111"/>
<circle cx="235.9" cy="207.06" r="1.15" fill="#111"/>
<circle cx="235.9" cy="209.94" r="1.15" fill="#111"/>
<polygon points="235.9,211 235.9,211" fill="#1f55a2" stroke="#111" stroke-width="0.6" stroke-linejoin="round"/>
<polygon points="235.9,211 235.75,212.08 235.6,213.17 235.45,214.25 235.3,215.33 235.15,216.42 235,217.5 234.66,218 234.32,218.5 234,219 233.71,219.5 233.44,220 233.22,220.5 233.04,221 232.91,221.5 232.83,222 232.8,222.5 232.82,223.19 232.88,223.88 232.99,224.57 233.14,225.27 233.32,225.96 233.55,226.65 233.82,227.34 234.12,228.03 234.46,228.73 234.85,229.42 235.29,230.11 235.9,230.8 235.9,230.8 236.51,230.11 236.95,229.42 237.34,228.73 237.68,228.03 237.98,227.34 238.25,226.65 238.48,225.96 238.66,225.27 238.81,224.57 238.92,223.88 238.98,223.19 239,222.5 238.97,222 238.89,221.5 238.76,221 238.58,220.5 238.36,220 238.09,219.5 237.8,219 237.48,218.5 237.14,218 236.8,217.5 236.65,216.42 236.5,215.33 236.35,214.25 236.2,213.17 236.05,212.08 235.9,211" fill="#1a4482" stroke="#111" stroke-width="0.6" stroke-linejoin="round"/>
<polygon points="235.9,211 235.75,212.08 235.6,213.17 235.45,214.25 235.3,215.33 235.15,216.42 235,217.5 236.8,217.5 236.65,216.42 236.5,215.33 236.35,214.25 236.2,213.17 236.05,212.08 235.9,211" fill="#132f58" stroke="#111" stroke-width="0.6"/>
<rect x="233.9" y="220.25" width="4" height="6.4" fill="#1f55a2" stroke="none"/>
<line x1="233.33" y1="220.25" x2="238.47" y2="220.25" stroke="#111" stroke-width="0.45" opacity="0.7"/>
<line x1="233.55" y1="226.65" x2="238.25" y2="226.65" stroke="#111" stroke-width="0.45" opacity="0.7"/>
<line x1="232.83" y1="223.33" x2="238.97" y2="223.33" stroke="#111" stroke-width="0.8"/>
<line x1="242.1" y1="161.4" x2="242.1" y2="231.6" stroke="#666" stroke-width="0.95"/>
<line x1="242.1" y1="189.3" x2="242.1" y2="195" stroke="#111" stroke-width="1.8"/>
<circle cx="242.1" cy="189.3" r="1.15" fill="#111"/>
<circle cx="242.1" cy="191.18" r="1.15" fill="#111"/>
<circle cx="242.1" cy="192.84" r="1.15" fill="#111"/>
<circle cx="242.1" cy="194.5" r="1.15" fill="#111"/>
<circle cx="242.1" cy="161.4" r="1.25" fill="#111"/>
<circle cx="242.1" cy="172" r="1.25" fill="#111"/>
<circle cx="242.1" cy="198.8" r="1.25" fill="#111"/>
<circle cx="242.1" cy="204.4" r="1.25" fill="#111"/>
<polygon points="242.1,207.2 242.1,207.2" fill="#3bb244" stroke="#111" stroke-width="0.6" stroke-linejoin="round"/>
<polygon points="242.1,207.2 241.95,208.58 241.8,209.97 241.65,211.35 241.5,212.73 241.35,214.12 241.2,215.5 240.82,216.15 240.46,216.8 240.11,217.45 239.79,218.1 239.5,218.75 239.26,219.4 239.06,220.05 238.92,220.7 238.83,221.35 238.8,222 238.82,222.8 238.89,223.6 239,224.4 239.16,225.2 239.36,226 239.6,226.8 239.88,227.6 240.2,228.4 240.57,229.2 240.98,230 241.45,230.8 242.1,231.6 242.1,231.6 242.75,230.8 243.22,230 243.63,229.2 244,228.4 244.32,227.6 244.6,226.8 244.84,226 245.04,225.2 245.2,224.4 245.31,223.6 245.38,222.8 245.4,222 245.37,221.35 245.28,220.7 245.14,220.05 244.94,219.4 244.7,218.75 244.41,218.1 244.09,217.45 243.74,216.8 243.38,216.15 243,215.5 242.85,214.12 242.7,212.73 242.55,211.35 242.4,209.97 242.25,208.58 242.1,207.2" fill="#2d9937" stroke="#111" stroke-width="0.6" stroke-linejoin="round"/>
<polygon points="242.1,207.2 241.95,208.58 241.8,209.97 241.65,211.35 241.5,212.73 241.35,214.12 241.2,215.5 243,215.5 242.85,214.12 242.7,212.73 242.55,211.35 242.4,209.97 242.25,208.58 242.1,207.2" fill="#164d1f" stroke="#111" stroke-width="0.6"/>
<rect x="239.95" y="219.07" width="4.3" height="7.73" fill="#3bb244" stroke="none"/>
<line x1="239.38" y1="219.07" x2="244.82" y2="219.07" stroke="#111" stroke-width="0.45" opacity="0.7"/>
<line x1="239.6" y1="226.8" x2="244.6" y2="226.8" stroke="#111" stroke-width="0.45" opacity="0.7"/>
<line x1="238.83" y1="222.96" x2="245.37" y2="222.96" stroke="#111" stroke-width="0.8"/>
<line x1="312.6" y1="96.2" x2="312.6" y2="205.9" stroke="#666" stroke-width="0.95"/>
<circle cx="312.6" cy="198.7" r="1.25" fill="#111"/>
<circle cx="312.6" cy="205.9" r="1.25" fill="#111"/>
<polygon points="312.6,96.2 312.58,98.63 312.53,101.06 312.45,103.49 312.34,105.91 312.19,108.34 312.01,110.77 311.8,113.2 311.56,115.63 311.28,118.06 310.97,120.49 310.62,122.91 310.25,125.34 309.84,127.77 309.4,130.2 309.4,152.7 309.8,155.19 310.18,157.67 310.53,160.16 310.85,162.64 311.16,165.13 311.43,167.61 311.68,170.1 311.9,172.59 312.1,175.07 312.26,177.56 312.4,180.04 312.5,182.53 312.57,185.01 312.6,187.5 312.6,187.5 312.63,185.01 312.7,182.53 312.8,180.04 312.94,177.56 313.1,175.07 313.3,172.59 313.52,170.1 313.77,167.61 314.04,165.13 314.35,162.64 314.67,160.16 315.02,157.67 315.4,155.19 315.8,152.7 315.8,130.2 315.36,127.77 314.95,125.34 314.58,122.91 314.23,120.49 313.92,118.06 313.64,115.63 313.4,113.2 313.19,110.77 313.01,108.34 312.86,105.91 312.75,103.49 312.67,101.06 312.62,98.63 312.6,96.2" fill="#9b0e29" stroke="#111" stroke-width="0.6" stroke-linejoin="round"/>
<polygon points="312.6,96.2 312.58,98.63 312.53,101.06 312.45,103.49 312.34,105.91 312.19,108.34 312.01,110.77 311.8,113.2 311.56,115.63 311.28,118.06 310.97,120.49 310.62,122.91 310.25,125.34 309.84,127.77 309.4,130.2 315.8,130.2 315.36,127.77 314.95,125.34 314.58,122.91 314.23,120.49 313.92,118.06 313.64,115.63 313.4,113.2 313.19,110.77 313.01,108.34 312.86,105.91 312.75,103.49 312.67,101.06 312.62,98.63 312.6,96.2" fill="url(#gur)" stroke="#111" stroke-width="0.6" stroke-linejoin="round"/>
<polygon points="309.4,152.7 309.8,155.19 310.18,157.67 310.53,160.16 310.85,162.64 311.16,165.13 311.43,167.61 311.68,170.1 311.9,172.59 312.1,175.07 312.26,177.56 312.4,180.04 312.5,182.53 312.57,185.01 312.6,187.5 312.6,187.5 312.63,185.01 312.7,182.53 312.8,180.04 312.94,177.56 313.1,175.07 313.3,172.59 313.52,170.1 313.77,167.61 314.04,165.13 314.35,162.64 314.67,160.16 315.02,157.67 315.4,155.19 315.8,152.7" fill="url(#gdr)" stroke="#111" stroke-width="0.6" stroke-linejoin="round"/>
<rect x="309.7" y="130.2" width="5.8" height="22.5" fill="#d2102e" stroke="#1c1c1c" stroke-width="0.55"/>
<line x1="309.7" y1="143.5" x2="315.5" y2="143.5" stroke="#1c1c1c" stroke-width="0.8"/>
<line x1="318.9" y1="67.3" x2="318.9" y2="195.7" stroke="#666" stroke-width="0.95"/>
<circle cx="318.9" cy="67.3" r="1.25" fill="#111"/>
<polygon points="318.9,87 318.88,90.01 318.83,93.01 318.75,96.02 318.64,99.03 318.49,102.04 318.31,105.04 318.1,108.05 317.86,111.06 317.58,114.06 317.27,117.07 316.92,120.08 316.55,123.09 316.14,126.09 315.7,129.1 315.7,157.8 316.1,160.51 316.48,163.21 316.83,165.92 317.15,168.63 317.46,171.34 317.73,174.04 317.98,176.75 318.2,179.46 318.4,182.16 318.56,184.87 318.7,187.58 318.8,190.29 318.87,192.99 318.9,195.7 318.9,195.7 318.93,192.99 319,190.29 319.1,187.58 319.24,184.87 319.4,182.16 319.6,179.46 319.82,176.75 320.07,174.04 320.34,171.34 320.65,168.63 320.97,165.92 321.32,163.21 321.7,160.51 322.1,157.8 322.1,129.1 321.66,126.09 321.25,123.09 320.88,120.08 320.53,117.07 320.22,114.06 319.94,111.06 319.7,108.05 319.49,105.04 319.31,102.04 319.16,99.03 319.05,96.02 318.97,93.01 318.92,90.01 318.9,87" fill="#183d7a" stroke="#111" stroke-width="0.6" stroke-linejoin="round"/>
<polygon points="318.9,87 318.88,90.01 318.83,93.01 318.75,96.02 318.64,99.03 318.49,102.04 318.31,105.04 318.1,108.05 317.86,111.06 317.58,114.06 317.27,117.07 316.92,120.08 316.55,123.09 316.14,126.09 315.7,129.1 322.1,129.1 321.66,126.09 321.25,123.09 320.88,120.08 320.53,117.07 320.22,114.06 319.94,111.06 319.7,108.05 319.49,105.04 319.31,102.04 319.16,99.03 319.05,96.02 318.97,93.01 318.92,90.01 318.9,87" fill="url(#gub)" stroke="#111" stroke-width="0.6" stroke-linejoin="round"/>
<polygon points="315.7,157.8 316.1,160.51 316.48,163.21 316.83,165.92 317.15,168.63 317.46,171.34 317.73,174.04 317.98,176.75 318.2,179.46 318.4,182.16 318.56,184.87 318.7,187.58 318.8,190.29 318.87,192.99 318.9,195.7 318.9,195.7 318.93,192.99 319,190.29 319.1,187.58 319.24,184.87 319.4,182.16 319.6,179.46 319.82,176.75 320.07,174.04 320.34,171.34 320.65,168.63 320.97,165.92 321.32,163.21 321.7,160.51 322.1,157.8" fill="url(#gdb)" stroke="#111" stroke-width="0.6" stroke-linejoin="round"/>
<rect x="316" y="129.1" width="5.8" height="28.7" fill="#1f55a2" stroke="#1c1c1c" stroke-width="0.55"/>
<line x1="316" y1="146.6" x2="321.8" y2="146.6" stroke="#1c1c1c" stroke-width="0.8"/>
<line x1="325.1" y1="81.2" x2="325.1" y2="202.8" stroke="#666" stroke-width="0.95"/>
<circle cx="325.1" cy="81.2" r="1.25" fill="#111"/>
<circle cx="325.1" cy="202.8" r="1.25" fill="#111"/>
<polygon points="325.1,87 325.08,89.67 325.03,92.34 324.95,95.01 324.84,97.69 324.69,100.36 324.51,103.03 324.3,105.7 324.06,108.37 323.78,111.04 323.47,113.71 323.12,116.39 322.75,119.06 322.34,121.73 321.9,124.4 321.9,152.7 322.3,155.19 322.68,157.67 323.03,160.16 323.35,162.64 323.66,165.13 323.93,167.61 324.18,170.1 324.4,172.59 324.6,175.07 324.76,177.56 324.9,180.04 325,182.53 325.07,185.01 325.1,187.5 325.1,187.5 325.13,185.01 325.2,182.53 325.3,180.04 325.44,177.56 325.6,175.07 325.8,172.59 326.02,170.1 326.27,167.61 326.54,165.13 326.85,162.64 327.17,160.16 327.52,157.67 327.9,155.19 328.3,152.7 328.3,124.4 327.86,121.73 327.45,119.06 327.08,116.39 326.73,113.71 326.42,111.04 326.14,108.37 325.9,105.7 325.69,103.03 325.51,100.36 325.36,97.69 325.25,95.01 325.17,92.34 325.12,89.67 325.1,87" fill="#27812f" stroke="#111" stroke-width="0.6" stroke-linejoin="round"/>
<polygon points="325.1,87 325.08,89.67 325.03,92.34 324.95,95.01 324.84,97.69 324.69,100.36 324.51,103.03 324.3,105.7 324.06,108.37 323.78,111.04 323.47,113.71 323.12,116.39 322.75,119.06 322.34,121.73 321.9,124.4 328.3,124.4 327.86,121.73 327.45,119.06 327.08,116.39 326.73,113.71 326.42,111.04 326.14,108.37 325.9,105.7 325.69,103.03 325.51,100.36 325.36,97.69 325.25,95.01 325.17,92.34 325.12,89.67 325.1,87" fill="url(#gug)" stroke="#111" stroke-width="0.6" stroke-linejoin="round"/>
<polygon points="321.9,152.7 322.3,155.19 322.68,157.67 323.03,160.16 323.35,162.64 323.66,165.13 323.93,167.61 324.18,170.1 324.4,172.59 324.6,175.07 324.76,177.56 324.9,180.04 325,182.53 325.07,185.01 325.1,187.5 325.1,187.5 325.13,185.01 325.2,182.53 325.3,180.04 325.44,177.56 325.6,175.07 325.8,172.59 326.02,170.1 326.27,167.61 326.54,165.13 326.85,162.64 327.17,160.16 327.52,157.67 327.9,155.19 328.3,152.7" fill="url(#gdg)" stroke="#111" stroke-width="0.6" stroke-linejoin="round"/>
<rect x="322.2" y="124.4" width="5.8" height="28.3" fill="#3bb244" stroke="#1c1c1c" stroke-width="0.55"/>
<line x1="322.2" y1="139.4" x2="328" y2="139.4" stroke="#1c1c1c" stroke-width="0.8"/>
<line x1="333.52" y1="130.2" x2="333.52" y2="182.4" stroke="#666" stroke-width="0.95"/>
<polygon points="330.32,130.2 330.32,182.4 336.72,182.4 336.72,130.2" fill="#b00f2d" stroke="#111" stroke-width="0.6" stroke-linejoin="round"/>
<line x1="330.32" y1="142.5" x2="336.72" y2="142.5" stroke="#1c1c1c" stroke-width="0.45" opacity="0.8"/>
<line x1="330.32" y1="168" x2="336.72" y2="168" stroke="#1c1c1c" stroke-width="0.45" opacity="0.8"/>
<line x1="330.32" y1="154.8" x2="336.72" y2="154.8" stroke="#1c1c1c" stroke-width="0.8"/>
<line x1="339.82" y1="92.8" x2="339.82" y2="235.5" stroke="#666" stroke-width="0.95"/>
<circle cx="339.82" cy="235.5" r="1.25" fill="#111"/>
<polygon points="339.82,92.8 339.8,95.33 339.75,97.86 339.67,100.39 339.56,102.91 339.41,105.44 339.23,107.97 339.02,110.5 338.78,113.03 338.5,115.56 338.19,118.09 337.84,120.61 337.47,123.14 337.06,125.67 336.62,128.2 336.62,150.7 337.02,152.86 337.4,155.03 337.75,157.19 338.07,159.36 338.38,161.52 338.65,163.69 338.9,165.85 339.12,168.01 339.32,170.18 339.48,172.34 339.62,174.51 339.72,176.67 339.79,178.84 339.82,181 339.82,181 339.85,178.84 339.92,176.67 340.02,174.51 340.16,172.34 340.32,170.18 340.52,168.01 340.74,165.85 340.99,163.69 341.26,161.52 341.57,159.36 341.89,157.19 342.24,155.03 342.62,152.86 343.02,150.7 343.02,128.2 342.58,125.67 342.17,123.14 341.8,120.61 341.45,118.09 341.14,115.56 340.86,113.03 340.62,110.5 340.41,107.97 340.23,105.44 340.08,102.91 339.97,100.39 339.89,97.86 339.84,95.33 339.82,92.8" fill="#183d7a" stroke="#111" stroke-width="0.6" stroke-linejoin="round"/>
<polygon points="339.82,92.8 339.8,95.33 339.75,97.86 339.67,100.39 339.56,102.91 339.41,105.44 339.23,107.97 339.02,110.5 338.78,113.03 338.5,115.56 338.19,118.09 337.84,120.61 337.47,123.14 337.06,125.67 336.62,128.2 343.02,128.2 342.58,125.67 342.17,123.14 341.8,120.61 341.45,118.09 341.14,115.56 340.86,113.03 340.62,110.5 340.41,107.97 340.23,105.44 340.08,102.91 339.97,100.39 339.89,97.86 339.84,95.33 339.82,92.8" fill="url(#gub)" stroke="#111" stroke-width="0.6" stroke-linejoin="round"/>
<polygon points="336.62,150.7 337.02,152.86 337.4,155.03 337.75,157.19 338.07,159.36 338.38,161.52 338.65,163.69 338.9,165.85 339.12,168.01 339.32,170.18 339.48,172.34 339.62,174.51 339.72,176.67 339.79,178.84 339.82,181 339.82,181 339.85,178.84 339.92,176.67 340.02,174.51 340.16,172.34 340.32,170.18 340.52,168.01 340.74,165.85 340.99,163.69 341.26,161.52 341.57,159.36 341.89,157.19 342.24,155.03 342.62,152.86 343.02,150.7" fill="url(#gdb)" stroke="#111" stroke-width="0.6" stroke-linejoin="round"/>
<rect x="336.92" y="128.2" width="5.8" height="22.5" fill="#1f55a2" stroke="#1c1c1c" stroke-width="0.55"/>
<line x1="336.92" y1="139.4" x2="342.72" y2="139.4" stroke="#1c1c1c" stroke-width="0.8"/>
<line x1="346.02" y1="44.8" x2="346.02" y2="190.6" stroke="#666" stroke-width="0.95"/>
<circle cx="346.02" cy="44.8" r="1.25" fill="#111"/>
<polygon points="346.02,87 346,89.82 345.95,92.64 345.87,95.46 345.76,98.29 345.61,101.11 345.43,103.93 345.22,106.75 344.98,109.57 344.7,112.39 344.39,115.21 344.04,118.04 343.67,120.86 343.26,123.68 342.82,126.5 342.82,159.9 343,162.09 343.19,164.29 343.38,166.48 343.58,168.67 343.77,170.86 343.97,173.06 344.18,175.25 344.4,177.44 344.62,179.64 344.85,181.83 345.09,184.02 345.35,186.21 345.63,188.41 346.02,190.6 346.02,190.6 346.41,188.41 346.69,186.21 346.95,184.02 347.19,181.83 347.42,179.64 347.64,177.44 347.86,175.25 348.07,173.06 348.27,170.86 348.46,168.67 348.66,166.48 348.85,164.29 349.04,162.09 349.22,159.9 349.22,126.5 348.78,123.68 348.37,120.86 348,118.04 347.65,115.21 347.34,112.39 347.06,109.57 346.82,106.75 346.61,103.93 346.43,101.11 346.28,98.29 346.17,95.46 346.09,92.64 346.04,89.82 346.02,87" fill="#27812f" stroke="#111" stroke-width="0.6" stroke-linejoin="round"/>
<polygon points="346.02,87 346,89.82 345.95,92.64 345.87,95.46 345.76,98.29 345.61,101.11 345.43,103.93 345.22,106.75 344.98,109.57 344.7,112.39 344.39,115.21 344.04,118.04 343.67,120.86 343.26,123.68 342.82,126.5 349.22,126.5 348.78,123.68 348.37,120.86 348,118.04 347.65,115.21 347.34,112.39 347.06,109.57 346.82,106.75 346.61,103.93 346.43,101.11 346.28,98.29 346.17,95.46 346.09,92.64 346.04,89.82 346.02,87" fill="url(#gug)" stroke="#111" stroke-width="0.6" stroke-linejoin="round"/>
<polygon points="342.82,159.9 343,162.09 343.19,164.29 343.38,166.48 343.58,168.67 343.77,170.86 343.97,173.06 344.18,175.25 344.4,177.44 344.62,179.64 344.85,181.83 345.09,184.02 345.35,186.21 345.63,188.41 346.02,190.6 346.02,190.6 346.41,188.41 346.69,186.21 346.95,184.02 347.19,181.83 347.42,179.64 347.64,177.44 347.86,175.25 348.07,173.06 348.27,170.86 348.46,168.67 348.66,166.48 348.85,164.29 349.04,162.09 349.22,159.9" fill="url(#gdg)" stroke="#111" stroke-width="0.6" stroke-linejoin="round"/>
<rect x="343.12" y="126.5" width="5.8" height="33.4" fill="#3bb244" stroke="#1c1c1c" stroke-width="0.55"/>
<line x1="343.12" y1="146.6" x2="348.92" y2="146.6" stroke="#1c1c1c" stroke-width="0.8"/>
<line x1="354.44" y1="101.4" x2="354.44" y2="218" stroke="#666" stroke-width="0.95"/>
<polygon points="354.44,101.4 354.42,104.41 354.36,107.41 354.27,110.42 354.14,113.43 353.99,116.44 353.8,119.44 353.58,122.45 353.33,125.46 353.06,128.46 352.75,131.47 352.42,134.48 352.05,137.49 351.66,140.49 351.24,143.5 351.24,176.2 351.64,179.19 352.02,182.17 352.37,185.16 352.69,188.14 353,191.13 353.27,194.11 353.52,197.1 353.74,200.09 353.94,203.07 354.1,206.06 354.24,209.04 354.34,212.03 354.41,215.01 354.44,218 354.44,218 354.47,215.01 354.54,212.03 354.64,209.04 354.78,206.06 354.94,203.07 355.14,200.09 355.36,197.1 355.61,194.11 355.88,191.13 356.19,188.14 356.51,185.16 356.86,182.17 357.24,179.19 357.64,176.2 357.64,143.5 357.22,140.49 356.83,137.49 356.46,134.48 356.13,131.47 355.82,128.46 355.55,125.46 355.3,122.45 355.08,119.44 354.89,116.44 354.74,113.43 354.61,110.42 354.52,107.41 354.46,104.41 354.44,101.4" fill="#9b0e29" stroke="#111" stroke-width="0.6" stroke-linejoin="round"/>
<polygon points="354.44,101.4 354.42,104.41 354.36,107.41 354.27,110.42 354.14,113.43 353.99,116.44 353.8,119.44 353.58,122.45 353.33,125.46 353.06,128.46 352.75,131.47 352.42,134.48 352.05,137.49 351.66,140.49 351.24,143.5 357.64,143.5 357.22,140.49 356.83,137.49 356.46,134.48 356.13,131.47 355.82,128.46 355.55,125.46 355.3,122.45 355.08,119.44 354.89,116.44 354.74,113.43 354.61,110.42 354.52,107.41 354.46,104.41 354.44,101.4" fill="url(#gur)" stroke="#111" stroke-width="0.6" stroke-linejoin="round"/>
<polygon points="351.24,176.2 351.64,179.19 352.02,182.17 352.37,185.16 352.69,188.14 353,191.13 353.27,194.11 353.52,197.1 353.74,200.09 353.94,203.07 354.1,206.06 354.24,209.04 354.34,212.03 354.41,215.01 354.44,218 354.44,218 354.47,215.01 354.54,212.03 354.64,209.04 354.78,206.06 354.94,203.07 355.14,200.09 355.36,197.1 355.61,194.11 355.88,191.13 356.19,188.14 356.51,185.16 356.86,182.17 357.24,179.19 357.64,176.2" fill="url(#gdr)" stroke="#111" stroke-width="0.6" stroke-linejoin="round"/>
<rect x="351.54" y="143.5" width="5.8" height="32.7" fill="#d2102e" stroke="#1c1c1c" stroke-width="0.55"/>
<line x1="351.54" y1="164" x2="357.34" y2="164" stroke="#1c1c1c" stroke-width="0.8"/>
<line x1="360.74" y1="73.7" x2="360.74" y2="237.6" stroke="#666" stroke-width="0.95"/>
<circle cx="360.74" cy="231.5" r="1.25" fill="#111"/>
<circle cx="360.74" cy="237.6" r="1.25" fill="#111"/>
<polygon points="360.74,73.7 360.73,77.59 360.7,81.49 360.63,85.38 360.54,89.27 360.41,93.16 360.24,97.06 360.04,100.95 359.81,104.84 359.53,108.74 359.21,112.63 358.86,116.52 358.46,120.41 358.02,124.31 357.54,128.2 357.54,167 357.96,170.5 358.35,174 358.72,177.5 359.05,181 359.36,184.5 359.63,188 359.88,191.5 360.1,195 360.29,198.5 360.44,202 360.57,205.5 360.66,209 360.72,212.5 360.74,216 360.74,216 360.76,212.5 360.82,209 360.91,205.5 361.04,202 361.19,198.5 361.38,195 361.6,191.5 361.85,188 362.12,184.5 362.43,181 362.76,177.5 363.13,174 363.52,170.5 363.94,167 363.94,128.2 363.46,124.31 363.02,120.41 362.62,116.52 362.27,112.63 361.95,108.74 361.67,104.84 361.44,100.95 361.24,97.06 361.07,93.16 360.94,89.27 360.85,85.38 360.78,81.49 360.75,77.59 360.74,73.7" fill="#183d7a" stroke="#111" stroke-width="0.6" stroke-linejoin="round"/>
<polygon points="360.74,73.7 360.73,77.59 360.7,81.49 360.63,85.38 360.54,89.27 360.41,93.16 360.24,97.06 360.04,100.95 359.81,104.84 359.53,108.74 359.21,112.63 358.86,116.52 358.46,120.41 358.02,124.31 357.54,128.2 363.94,128.2 363.46,124.31 363.02,120.41 362.62,116.52 362.27,112.63 361.95,108.74 361.67,104.84 361.44,100.95 361.24,97.06 361.07,93.16 360.94,89.27 360.85,85.38 360.78,81.49 360.75,77.59 360.74,73.7" fill="url(#gub)" stroke="#111" stroke-width="0.6" stroke-linejoin="round"/>
<polygon points="357.54,167 357.96,170.5 358.35,174 358.72,177.5 359.05,181 359.36,184.5 359.63,188 359.88,191.5 360.1,195 360.29,198.5 360.44,202 360.57,205.5 360.66,209 360.72,212.5 360.74,216 360.74,216 360.76,212.5 360.82,209 360.91,205.5 361.04,202 361.19,198.5 361.38,195 361.6,191.5 361.85,188 362.12,184.5 362.43,181 362.76,177.5 363.13,174 363.52,170.5 363.94,167" fill="url(#gdb)" stroke="#111" stroke-width="0.6" stroke-linejoin="round"/>
<rect x="357.84" y="128.2" width="5.8" height="38.8" fill="#1f55a2" stroke="#1c1c1c" stroke-width="0.55"/>
<line x1="357.84" y1="146.6" x2="363.64" y2="146.6" stroke="#1c1c1c" stroke-width="0.8"/>
<line x1="366.94" y1="77.7" x2="366.94" y2="240.7" stroke="#666" stroke-width="0.95"/>
<circle cx="366.94" cy="215" r="1.25" fill="#111"/>
<circle cx="366.94" cy="217.5" r="1.25" fill="#111"/>
<circle cx="366.94" cy="231.5" r="1.25" fill="#111"/>
<circle cx="366.94" cy="234.5" r="1.25" fill="#111"/>
<circle cx="366.94" cy="240.7" r="1.25" fill="#111"/>
<polygon points="366.94,77.7 366.93,80.72 366.9,83.74 366.83,86.76 366.74,89.79 366.61,92.81 366.44,95.83 366.24,98.85 366.01,101.87 365.73,104.89 365.41,107.91 365.06,110.94 364.66,113.96 364.22,116.98 363.74,120 363.74,156.8 364.16,160.74 364.55,164.69 364.92,168.63 365.25,172.57 365.56,176.51 365.83,180.46 366.08,184.4 366.3,188.34 366.49,192.29 366.64,196.23 366.77,200.17 366.86,204.11 366.92,208.06 366.94,212 366.94,212 366.96,208.06 367.02,204.11 367.11,200.17 367.24,196.23 367.39,192.29 367.58,188.34 367.8,184.4 368.05,180.46 368.32,176.51 368.63,172.57 368.96,168.63 369.33,164.69 369.72,160.74 370.14,156.8 370.14,120 369.66,116.98 369.22,113.96 368.82,110.94 368.47,107.91 368.15,104.89 367.87,101.87 367.64,98.85 367.44,95.83 367.27,92.81 367.14,89.79 367.05,86.76 366.98,83.74 366.95,80.72 366.94,77.7" fill="#27812f" stroke="#111" stroke-width="0.6" stroke-linejoin="round"/>
<polygon points="366.94,77.7 366.93,80.72 366.9,83.74 366.83,86.76 366.74,89.79 366.61,92.81 366.44,95.83 366.24,98.85 366.01,101.87 365.73,104.89 365.41,107.91 365.06,110.94 364.66,113.96 364.22,116.98 363.74,120 370.14,120 369.66,116.98 369.22,113.96 368.82,110.94 368.47,107.91 368.15,104.89 367.87,101.87 367.64,98.85 367.44,95.83 367.27,92.81 367.14,89.79 367.05,86.76 366.98,83.74 366.95,80.72 366.94,77.7" fill="url(#gug)" stroke="#111" stroke-width="0.6" stroke-linejoin="round"/>
<polygon points="363.74,156.8 364.16,160.74 364.55,164.69 364.92,168.63 365.25,172.57 365.56,176.51 365.83,180.46 366.08,184.4 366.3,188.34 366.49,192.29 366.64,196.23 366.77,200.17 366.86,204.11 366.92,208.06 366.94,212 366.94,212 366.96,208.06 367.02,204.11 367.11,200.17 367.24,196.23 367.39,192.29 367.58,188.34 367.8,184.4 368.05,180.46 368.32,176.51 368.63,172.57 368.96,168.63 369.33,164.69 369.72,160.74 370.14,156.8" fill="url(#gdg)" stroke="#111" stroke-width="0.6" stroke-linejoin="round"/>
<rect x="364.04" y="120" width="5.8" height="36.8" fill="#3bb244" stroke="#1c1c1c" stroke-width="0.55"/>
<line x1="364.04" y1="136.4" x2="369.84" y2="136.4" stroke="#1c1c1c" stroke-width="0.8"/>
<line x1="375.36" y1="147.8" x2="375.36" y2="177.2" stroke="#666" stroke-width="0.95"/>
<polygon points="373.16,147.8 372.78,148.1 372.65,148.4 372.57,148.7 372.49,149 372.43,149.3 372.38,149.6 372.33,149.9 372.28,150.2 372.24,150.5 372.2,150.8 372.16,151.1 372.13,151.4 372.09,151.7 372.06,152 372.06,168 372.3,168.66 372.53,169.31 372.77,169.97 373,170.63 373.24,171.29 373.47,171.94 373.71,172.6 373.95,173.26 374.18,173.91 374.42,174.57 374.65,175.23 374.89,175.89 375.12,176.54 375.36,177.2 375.36,177.2 375.6,176.54 375.83,175.89 376.07,175.23 376.3,174.57 376.54,173.91 376.77,173.26 377.01,172.6 377.25,171.94 377.48,171.29 377.72,170.63 377.95,169.97 378.19,169.31 378.42,168.66 378.66,168 378.66,152 378.63,151.7 378.59,151.4 378.56,151.1 378.52,150.8 378.48,150.5 378.44,150.2 378.39,149.9 378.34,149.6 378.29,149.3 378.23,149 378.15,148.7 378.07,148.4 377.94,148.1 377.56,147.8" fill="#d2102e" stroke="#111" stroke-width="0.6" stroke-linejoin="round"/>
<line x1="372.06" y1="159" x2="378.66" y2="159" stroke="#1c1c1c" stroke-width="0.45" opacity="0.8"/>
<line x1="372.06" y1="166.8" x2="378.66" y2="166.8" stroke="#1c1c1c" stroke-width="0.45" opacity="0.8"/>
<line x1="372.06" y1="162.5" x2="378.66" y2="162.5" stroke="#1c1c1c" stroke-width="0.8"/>
<line x1="381.66" y1="72.1" x2="381.66" y2="219.6" stroke="#666" stroke-width="0.95"/>
<circle cx="381.66" cy="72.1" r="1.25" fill="#111"/>
<circle cx="381.66" cy="219.6" r="1.25" fill="#111"/>
<polygon points="381.66,93.5 381.64,96.18 381.59,98.86 381.51,101.54 381.4,104.21 381.25,106.89 381.07,109.57 380.86,112.25 380.62,114.93 380.34,117.61 380.03,120.29 379.68,122.96 379.31,125.64 378.9,128.32 378.46,131 378.46,165 378.86,167.29 379.24,169.57 379.59,171.86 379.91,174.14 380.22,176.43 380.49,178.71 380.74,181 380.96,183.29 381.16,185.57 381.32,187.86 381.46,190.14 381.56,192.43 381.63,194.71 381.66,197 381.66,197 381.69,194.71 381.76,192.43 381.86,190.14 382,187.86 382.16,185.57 382.36,183.29 382.58,181 382.83,178.71 383.1,176.43 383.41,174.14 383.73,171.86 384.08,169.57 384.46,167.29 384.86,165 384.86,131 384.42,128.32 384.01,125.64 383.64,122.96 383.29,120.29 382.98,117.61 382.7,114.93 382.46,112.25 382.25,109.57 382.07,106.89 381.92,104.21 381.81,101.54 381.73,98.86 381.68,96.18 381.66,93.5" fill="#183d7a" stroke="#111" stroke-width="0.6" stroke-linejoin="round"/>
<polygon points="381.66,93.5 381.64,96.18 381.59,98.86 381.51,101.54 381.4,104.21 381.25,106.89 381.07,109.57 380.86,112.25 380.62,114.93 380.34,117.61 380.03,120.29 379.68,122.96 379.31,125.64 378.9,128.32 378.46,131 384.86,131 384.42,128.32 384.01,125.64 383.64,122.96 383.29,120.29 382.98,117.61 382.7,114.93 382.46,112.25 382.25,109.57 382.07,106.89 381.92,104.21 381.81,101.54 381.73,98.86 381.68,96.18 381.66,93.5" fill="url(#gub)" stroke="#111" stroke-width="0.6" stroke-linejoin="round"/>
<polygon points="378.46,165 378.86,167.29 379.24,169.57 379.59,171.86 379.91,174.14 380.22,176.43 380.49,178.71 380.74,181 380.96,183.29 381.16,185.57 381.32,187.86 381.46,190.14 381.56,192.43 381.63,194.71 381.66,197 381.66,197 381.69,194.71 381.76,192.43 381.86,190.14 382,187.86 382.16,185.57 382.36,183.29 382.58,181 382.83,178.71 383.1,176.43 383.41,174.14 383.73,171.86 384.08,169.57 384.46,167.29 384.86,165" fill="url(#gdb)" stroke="#111" stroke-width="0.6" stroke-linejoin="round"/>
<rect x="378.76" y="131" width="5.8" height="34" fill="#1f55a2" stroke="#1c1c1c" stroke-width="0.55"/>
<line x1="378.76" y1="151.2" x2="384.56" y2="151.2" stroke="#1c1c1c" stroke-width="0.8"/>
<line x1="387.86" y1="67.8" x2="387.86" y2="221.3" stroke="#666" stroke-width="0.95"/>
<polygon points="387.86,67.8 387.85,72.06 387.81,76.33 387.73,80.59 387.63,84.86 387.49,89.12 387.32,93.39 387.11,97.65 386.87,101.91 386.59,106.18 386.28,110.44 385.93,114.71 385.54,118.97 385.12,123.24 384.66,127.5 384.66,172.9 385.06,176.36 385.44,179.81 385.79,183.27 386.11,186.73 386.42,190.19 386.69,193.64 386.94,197.1 387.16,200.56 387.36,204.01 387.52,207.47 387.66,210.93 387.76,214.39 387.83,217.84 387.86,221.3 387.86,221.3 387.89,217.84 387.96,214.39 388.06,210.93 388.2,207.47 388.36,204.01 388.56,200.56 388.78,197.1 389.03,193.64 389.3,190.19 389.61,186.73 389.93,183.27 390.28,179.81 390.66,176.36 391.06,172.9 391.06,127.5 390.6,123.24 390.18,118.97 389.79,114.71 389.44,110.44 389.13,106.18 388.85,101.91 388.61,97.65 388.4,93.39 388.23,89.12 388.09,84.86 387.99,80.59 387.91,76.33 387.87,72.06 387.86,67.8" fill="#27812f" stroke="#111" stroke-width="0.6" stroke-linejoin="round"/>
<polygon points="387.86,67.8 387.85,72.06 387.81,76.33 387.73,80.59 387.63,84.86 387.49,89.12 387.32,93.39 387.11,97.65 386.87,101.91 386.59,106.18 386.28,110.44 385.93,114.71 385.54,118.97 385.12,123.24 384.66,127.5 391.06,127.5 390.6,123.24 390.18,118.97 389.79,114.71 389.44,110.44 389.13,106.18 388.85,101.91 388.61,97.65 388.4,93.39 388.23,89.12 388.09,84.86 387.99,80.59 387.91,76.33 387.87,72.06 387.86,67.8" fill="url(#gug)" stroke="#111" stroke-width="0.6" stroke-linejoin="round"/>
<polygon points="384.66,172.9 385.06,176.36 385.44,179.81 385.79,183.27 386.11,186.73 386.42,190.19 386.69,193.64 386.94,197.1 387.16,200.56 387.36,204.01 387.52,207.47 387.66,210.93 387.76,214.39 387.83,217.84 387.86,221.3 387.86,221.3 387.89,217.84 387.96,214.39 388.06,210.93 388.2,207.47 388.36,204.01 388.56,200.56 388.78,197.1 389.03,193.64 389.3,190.19 389.61,186.73 389.93,183.27 390.28,179.81 390.66,176.36 391.06,172.9" fill="url(#gdg)" stroke="#111" stroke-width="0.6" stroke-linejoin="round"/>
<rect x="384.96" y="127.5" width="5.8" height="45.4" fill="#3bb244" stroke="#1c1c1c" stroke-width="0.55"/>
<line x1="384.96" y1="148.2" x2="390.76" y2="148.2" stroke="#1c1c1c" stroke-width="0.8"/>
<line x1="396.28" y1="132.9" x2="396.28" y2="200" stroke="#666" stroke-width="0.95"/>
<polygon points="394.78,132.9 394.76,134.93 394.7,136.96 394.64,138.99 394.55,141.01 394.45,143.04 394.34,145.07 394.22,147.1 394.09,149.13 393.94,151.16 393.79,153.19 393.62,155.21 393.45,157.24 393.27,159.27 393.08,161.3 393.08,189.4 393.2,190.16 393.32,190.91 393.44,191.67 393.58,192.43 393.71,193.19 393.86,193.94 394.02,194.7 394.19,195.46 394.37,196.21 394.57,196.97 394.8,197.73 395.07,198.49 395.42,199.24 396.28,200 396.28,200 397.14,199.24 397.49,198.49 397.76,197.73 397.99,196.97 398.19,196.21 398.37,195.46 398.54,194.7 398.7,193.94 398.85,193.19 398.98,192.43 399.12,191.67 399.24,190.91 399.36,190.16 399.48,189.4 399.48,161.3 399.29,159.27 399.11,157.24 398.94,155.21 398.77,153.19 398.62,151.16 398.47,149.13 398.34,147.1 398.22,145.07 398.11,143.04 398.01,141.01 397.92,138.99 397.86,136.96 397.8,134.93 397.78,132.9" fill="#9b0e29" stroke="#111" stroke-width="0.6" stroke-linejoin="round"/>
<polygon points="394.78,132.9 394.76,134.93 394.7,136.96 394.64,138.99 394.55,141.01 394.45,143.04 394.34,145.07 394.22,147.1 394.09,149.13 393.94,151.16 393.79,153.19 393.62,155.21 393.45,157.24 393.27,159.27 393.08,161.3 399.48,161.3 399.29,159.27 399.11,157.24 398.94,155.21 398.77,153.19 398.62,151.16 398.47,149.13 398.34,147.1 398.22,145.07 398.11,143.04 398.01,141.01 397.92,138.99 397.86,136.96 397.8,134.93 397.78,132.9" fill="url(#gur)" stroke="#111" stroke-width="0.6" stroke-linejoin="round"/>
<rect x="393.38" y="161.3" width="5.8" height="28.1" fill="#d2102e" stroke="#1c1c1c" stroke-width="0.55"/>
<line x1="393.38" y1="172" x2="399.18" y2="172" stroke="#1c1c1c" stroke-width="0.8"/>
<line x1="402.58" y1="130" x2="402.58" y2="217.4" stroke="#666" stroke-width="0.95"/>
<polygon points="402.58,130 402.56,132.41 402.5,134.83 402.41,137.24 402.28,139.66 402.13,142.07 401.94,144.49 401.72,146.9 401.47,149.31 401.2,151.73 400.89,154.14 400.56,156.56 400.19,158.97 399.8,161.39 399.38,163.8 399.38,189.4 399.76,191.4 400.12,193.4 400.46,195.4 400.77,197.4 401.07,199.4 401.34,201.4 401.6,203.4 401.82,205.4 402.02,207.4 402.2,209.4 402.35,211.4 402.46,213.4 402.54,215.4 402.58,217.4 402.58,217.4 402.62,215.4 402.7,213.4 402.81,211.4 402.96,209.4 403.14,207.4 403.34,205.4 403.56,203.4 403.82,201.4 404.09,199.4 404.39,197.4 404.7,195.4 405.04,193.4 405.4,191.4 405.78,189.4 405.78,163.8 405.36,161.39 404.97,158.97 404.6,156.56 404.27,154.14 403.96,151.73 403.69,149.31 403.44,146.9 403.22,144.49 403.03,142.07 402.88,139.66 402.75,137.24 402.66,134.83 402.6,132.41 402.58,130" fill="#183d7a" stroke="#111" stroke-width="0.6" stroke-linejoin="round"/>
<polygon points="402.58,130 402.56,132.41 402.5,134.83 402.41,137.24 402.28,139.66 402.13,142.07 401.94,144.49 401.72,146.9 401.47,149.31 401.2,151.73 400.89,154.14 400.56,156.56 400.19,158.97 399.8,161.39 399.38,163.8 405.78,163.8 405.36,161.39 404.97,158.97 404.6,156.56 404.27,154.14 403.96,151.73 403.69,149.31 403.44,146.9 403.22,144.49 403.03,142.07 402.88,139.66 402.75,137.24 402.66,134.83 402.6,132.41 402.58,130" fill="url(#gub)" stroke="#111" stroke-width="0.6" stroke-linejoin="round"/>
<polygon points="399.38,189.4 399.76,191.4 400.12,193.4 400.46,195.4 400.77,197.4 401.07,199.4 401.34,201.4 401.6,203.4 401.82,205.4 402.02,207.4 402.2,209.4 402.35,211.4 402.46,213.4 402.54,215.4 402.58,217.4 402.58,217.4 402.62,215.4 402.7,213.4 402.81,211.4 402.96,209.4 403.14,207.4 403.34,205.4 403.56,203.4 403.82,201.4 404.09,199.4 404.39,197.4 404.7,195.4 405.04,193.4 405.4,191.4 405.78,189.4" fill="url(#gdb)" stroke="#111" stroke-width="0.6" stroke-linejoin="round"/>
<rect x="399.68" y="163.8" width="5.8" height="25.6" fill="#1f55a2" stroke="#1c1c1c" stroke-width="0.55"/>
<line x1="399.68" y1="177.8" x2="405.48" y2="177.8" stroke="#1c1c1c" stroke-width="0.8"/>
<line x1="408.78" y1="134.9" x2="408.78" y2="224" stroke="#666" stroke-width="0.95"/>
<polygon points="407.98,134.9 407.9,136.55 407.79,138.2 407.66,139.85 407.51,141.5 407.35,143.15 407.18,144.8 407.01,146.45 406.82,148.1 406.63,149.75 406.43,151.4 406.23,153.05 406.02,154.7 405.8,156.35 405.58,158 405.58,184.4 406.02,187.23 406.43,190.06 406.8,192.89 407.15,195.71 407.46,198.54 407.74,201.37 407.98,204.2 408.19,207.03 408.37,209.86 408.52,212.69 408.63,215.51 408.71,218.34 408.76,221.17 408.78,224 408.78,224 408.8,221.17 408.85,218.34 408.93,215.51 409.04,212.69 409.19,209.86 409.37,207.03 409.58,204.2 409.82,201.37 410.1,198.54 410.41,195.71 410.76,192.89 411.13,190.06 411.54,187.23 411.98,184.4 411.98,158 411.76,156.35 411.54,154.7 411.33,153.05 411.13,151.4 410.93,149.75 410.74,148.1 410.55,146.45 410.38,144.8 410.21,143.15 410.05,141.5 409.9,139.85 409.77,138.2 409.66,136.55 409.58,134.9" fill="#27812f" stroke="#111" stroke-width="0.6" stroke-linejoin="round"/>
<polygon points="407.98,134.9 407.9,136.55 407.79,138.2 407.66,139.85 407.51,141.5 407.35,143.15 407.18,144.8 407.01,146.45 406.82,148.1 406.63,149.75 406.43,151.4 406.23,153.05 406.02,154.7 405.8,156.35 405.58,158 411.98,158 411.76,156.35 411.54,154.7 411.33,153.05 411.13,151.4 410.93,149.75 410.74,148.1 410.55,146.45 410.38,144.8 410.21,143.15 410.05,141.5 409.9,139.85 409.77,138.2 409.66,136.55 409.58,134.9" fill="url(#gug)" stroke="#111" stroke-width="0.6" stroke-linejoin="round"/>
<polygon points="405.58,184.4 406.02,187.23 406.43,190.06 406.8,192.89 407.15,195.71 407.46,198.54 407.74,201.37 407.98,204.2 408.19,207.03 408.37,209.86 408.52,212.69 408.63,215.51 408.71,218.34 408.76,221.17 408.78,224 408.78,224 408.8,221.17 408.85,218.34 408.93,215.51 409.04,212.69 409.19,209.86 409.37,207.03 409.58,204.2 409.82,201.37 410.1,198.54 410.41,195.71 410.76,192.89 411.13,190.06 411.54,187.23 411.98,184.4" fill="url(#gdg)" stroke="#111" stroke-width="0.6" stroke-linejoin="round"/>
<rect x="405.88" y="158" width="5.8" height="26.4" fill="#3bb244" stroke="#1c1c1c" stroke-width="0.55"/>
<line x1="405.88" y1="172" x2="411.68" y2="172" stroke="#1c1c1c" stroke-width="0.8"/>
<line x1="417.2" y1="165.4" x2="417.2" y2="216.6" stroke="#666" stroke-width="0.95"/>
<polygon points="417.2,173 417.18,174.64 417.12,176.29 417.03,177.93 416.9,179.57 416.75,181.21 416.56,182.86 416.34,184.5 416.09,186.14 415.82,187.79 415.51,189.43 415.18,191.07 414.81,192.71 414.42,194.36 414,196 414,213.3 414.12,213.54 414.24,213.77 414.36,214.01 414.5,214.24 414.63,214.48 414.78,214.71 414.94,214.95 415.11,215.19 415.29,215.42 415.49,215.66 415.72,215.89 415.99,216.13 416.34,216.36 417.2,216.6 417.2,216.6 418.06,216.36 418.41,216.13 418.68,215.89 418.91,215.66 419.11,215.42 419.29,215.19 419.46,214.95 419.62,214.71 419.77,214.48 419.9,214.24 420.04,214.01 420.16,213.77 420.28,213.54 420.4,213.3 420.4,196 419.98,194.36 419.59,192.71 419.22,191.07 418.89,189.43 418.58,187.79 418.31,186.14 418.06,184.5 417.84,182.86 417.65,181.21 417.5,179.57 417.37,177.93 417.28,176.29 417.22,174.64 417.2,173" fill="#9b0e29" stroke="#111" stroke-width="0.6" stroke-linejoin="round"/>
<polygon points="417.2,173 417.18,174.64 417.12,176.29 417.03,177.93 416.9,179.57 416.75,181.21 416.56,182.86 416.34,184.5 416.09,186.14 415.82,187.79 415.51,189.43 415.18,191.07 414.81,192.71 414.42,194.36 414,196 420.4,196 419.98,194.36 419.59,192.71 419.22,191.07 418.89,189.43 418.58,187.79 418.31,186.14 418.06,184.5 417.84,182.86 417.65,181.21 417.5,179.57 417.37,177.93 417.28,176.29 417.22,174.64 417.2,173" fill="url(#gur)" stroke="#111" stroke-width="0.6" stroke-linejoin="round"/>
<rect x="414.3" y="196" width="5.8" height="17.3" fill="#d2102e" stroke="#1c1c1c" stroke-width="0.55"/>
<line x1="414.3" y1="204.2" x2="420.1" y2="204.2" stroke="#1c1c1c" stroke-width="0.8"/>
<line x1="423.5" y1="144.8" x2="423.5" y2="222.4" stroke="#666" stroke-width="0.95"/>
<polygon points="423.5,144.8 423.48,147.16 423.42,149.51 423.33,151.87 423.2,154.23 423.05,156.59 422.86,158.94 422.64,161.3 422.39,163.66 422.12,166.01 421.81,168.37 421.48,170.73 421.11,173.09 420.72,175.44 420.3,177.8 420.3,210.8 420.44,211.63 420.58,212.46 420.73,213.29 420.88,214.11 421.05,214.94 421.21,215.77 421.39,216.6 421.58,217.43 421.77,218.26 421.99,219.09 422.23,219.91 422.5,220.74 422.84,221.57 423.5,222.4 423.5,222.4 424.16,221.57 424.5,220.74 424.77,219.91 425.01,219.09 425.23,218.26 425.42,217.43 425.61,216.6 425.79,215.77 425.95,214.94 426.12,214.11 426.27,213.29 426.42,212.46 426.56,211.63 426.7,210.8 426.7,177.8 426.28,175.44 425.89,173.09 425.52,170.73 425.19,168.37 424.88,166.01 424.61,163.66 424.36,161.3 424.14,158.94 423.95,156.59 423.8,154.23 423.67,151.87 423.58,149.51 423.52,147.16 423.5,144.8" fill="#183d7a" stroke="#111" stroke-width="0.6" stroke-linejoin="round"/>
<polygon points="423.5,144.8 423.48,147.16 423.42,149.51 423.33,151.87 423.2,154.23 423.05,156.59 422.86,158.94 422.64,161.3 422.39,163.66 422.12,166.01 421.81,168.37 421.48,170.73 421.11,173.09 420.72,175.44 420.3,177.8 426.7,177.8 426.28,175.44 425.89,173.09 425.52,170.73 425.19,168.37 424.88,166.01 424.61,163.66 424.36,161.3 424.14,158.94 423.95,156.59 423.8,154.23 423.67,151.87 423.58,149.51 423.52,147.16 423.5,144.8" fill="url(#gub)" stroke="#111" stroke-width="0.6" stroke-linejoin="round"/>
<rect x="420.6" y="177.8" width="5.8" height="33" fill="#1f55a2" stroke="#1c1c1c" stroke-width="0.55"/>
<line x1="420.6" y1="192.7" x2="426.4" y2="192.7" stroke="#1c1c1c" stroke-width="0.8"/>
<line x1="429.7" y1="150.6" x2="429.7" y2="225.7" stroke="#666" stroke-width="0.95"/>
<polygon points="427.1,150.6 426.92,151.66 426.88,152.71 426.85,153.77 426.83,154.83 426.81,155.89 426.79,156.94 426.78,158 426.76,159.06 426.75,160.11 426.74,161.17 426.73,162.23 426.72,163.29 426.71,164.34 426.7,165.4 426.7,209.2 426.87,210.38 427.05,211.56 427.23,212.74 427.41,213.91 427.59,215.09 427.78,216.27 427.98,217.45 428.18,218.63 428.38,219.81 428.6,220.99 428.83,222.16 429.07,223.34 429.34,224.52 429.7,225.7 429.7,225.7 430.06,224.52 430.33,223.34 430.57,222.16 430.8,220.99 431.02,219.81 431.22,218.63 431.42,217.45 431.62,216.27 431.81,215.09 431.99,213.91 432.17,212.74 432.35,211.56 432.53,210.38 432.7,209.2 432.7,165.4 432.69,164.34 432.68,163.29 432.67,162.23 432.66,161.17 432.65,160.11 432.64,159.06 432.62,158 432.61,156.94 432.59,155.89 432.57,154.83 432.55,153.77 432.52,152.71 432.48,151.66 432.3,150.6" fill="#27812f" stroke="#111" stroke-width="0.6" stroke-linejoin="round"/>
<polygon points="427.1,150.6 426.92,151.66 426.88,152.71 426.85,153.77 426.83,154.83 426.81,155.89 426.79,156.94 426.78,158 426.76,159.06 426.75,160.11 426.74,161.17 426.73,162.23 426.72,163.29 426.71,164.34 426.7,165.4 432.7,165.4 432.69,164.34 432.68,163.29 432.67,162.23 432.66,161.17 432.65,160.11 432.64,159.06 432.62,158 432.61,156.94 432.59,155.89 432.57,154.83 432.55,153.77 432.52,152.71 432.48,151.66 432.3,150.6" fill="url(#gug)" stroke="#111" stroke-width="0.6" stroke-linejoin="round"/>
<polygon points="426.7,209.2 426.87,210.38 427.05,211.56 427.23,212.74 427.41,213.91 427.59,215.09 427.78,216.27 427.98,217.45 428.18,218.63 428.38,219.81 428.6,220.99 428.83,222.16 429.07,223.34 429.34,224.52 429.7,225.7 429.7,225.7 430.06,224.52 430.33,223.34 430.57,222.16 430.8,220.99 431.02,219.81 431.22,218.63 431.42,217.45 431.62,216.27 431.81,215.09 431.99,213.91 432.17,212.74 432.35,211.56 432.53,210.38 432.7,209.2" fill="url(#gdg)" stroke="#111" stroke-width="0.6" stroke-linejoin="round"/>
<rect x="426.8" y="165.4" width="5.8" height="43.8" fill="#3bb244" stroke="#1c1c1c" stroke-width="0.55"/>
<line x1="426.8" y1="195.1" x2="432.6" y2="195.1" stroke="#1c1c1c" stroke-width="0.8"/>
<line x1="438.12" y1="147.2" x2="438.12" y2="233" stroke="#666" stroke-width="0.95"/>
<line x1="438.12" y1="187.3" x2="438.12" y2="195.2" stroke="#111" stroke-width="1.8"/>
<circle cx="438.12" cy="187.3" r="1.15" fill="#111"/>
<circle cx="438.12" cy="188.93" r="1.15" fill="#111"/>
<circle cx="438.12" cy="191.23" r="1.15" fill="#111"/>
<circle cx="438.12" cy="193.97" r="1.15" fill="#111"/>
<circle cx="438.12" cy="147.2" r="1.25" fill="#111"/>
<circle cx="438.12" cy="165" r="1.25" fill="#111"/>
<circle cx="438.12" cy="170.3" r="1.25" fill="#111"/>
<circle cx="438.12" cy="177.6" r="1.25" fill="#111"/>
<circle cx="438.12" cy="183.9" r="1.25" fill="#111"/>
<polygon points="438.12,195 438.05,196.18 437.97,197.36 437.87,198.54 437.76,199.71 437.65,200.89 437.54,202.07 437.42,203.25 437.3,204.43 437.18,205.61 437.05,206.79 436.92,207.96 436.79,209.14 436.66,210.32 436.52,211.5 434.82,223.9 435.06,224.55 435.29,225.2 435.53,225.85 435.76,226.5 436,227.15 436.23,227.8 436.47,228.45 436.71,229.1 436.94,229.75 437.18,230.4 437.41,231.05 437.65,231.7 437.88,232.35 438.12,233 438.12,233 438.36,232.35 438.59,231.7 438.83,231.05 439.06,230.4 439.3,229.75 439.53,229.1 439.77,228.45 440.01,227.8 440.24,227.15 440.48,226.5 440.71,225.85 440.95,225.2 441.18,224.55 441.42,223.9 439.72,211.5 439.58,210.32 439.45,209.14 439.32,207.96 439.19,206.79 439.06,205.61 438.94,204.43 438.82,203.25 438.7,202.07 438.59,200.89 438.48,199.71 438.37,198.54 438.27,197.36 438.19,196.18 438.12,195" fill="#9b0e29" stroke="#111" stroke-width="0.6" stroke-linejoin="round"/>
<polygon points="438.12,195 438.05,196.18 437.97,197.36 437.87,198.54 437.76,199.71 437.65,200.89 437.54,202.07 437.42,203.25 437.3,204.43 437.18,205.61 437.05,206.79 436.92,207.96 436.79,209.14 436.66,210.32 436.52,211.5 439.72,211.5 439.58,210.32 439.45,209.14 439.32,207.96 439.19,206.79 439.06,205.61 438.94,204.43 438.82,203.25 438.7,202.07 438.59,200.89 438.48,199.71 438.37,198.54 438.27,197.36 438.19,196.18 438.12,195" fill="#600b1c" stroke="#111" stroke-width="0.6" stroke-linejoin="round"/>
<rect x="435.22" y="211.5" width="5.8" height="12.4" fill="#d2102e" stroke="#1c1c1c" stroke-width="0.55"/>
<line x1="435.22" y1="218.9" x2="441.02" y2="218.9" stroke="#1c1c1c" stroke-width="0.8"/>
<line x1="444.42" y1="137" x2="444.42" y2="239.6" stroke="#666" stroke-width="0.95"/>
<line x1="444.42" y1="155.6" x2="444.42" y2="184.2" stroke="#111" stroke-width="1.8"/>
<circle cx="444.42" cy="155.6" r="1.15" fill="#111"/>
<circle cx="444.42" cy="157.67" r="1.15" fill="#111"/>
<circle cx="444.42" cy="160.01" r="1.15" fill="#111"/>
<circle cx="444.42" cy="162.59" r="1.15" fill="#111"/>
<circle cx="444.42" cy="164.03" r="1.15" fill="#111"/>
<circle cx="444.42" cy="166.38" r="1.15" fill="#111"/>
<circle cx="444.42" cy="169.14" r="1.15" fill="#111"/>
<circle cx="444.42" cy="171.69" r="1.15" fill="#111"/>
<circle cx="444.42" cy="174.19" r="1.15" fill="#111"/>
<circle cx="444.42" cy="176.26" r="1.15" fill="#111"/>
<circle cx="444.42" cy="177.84" r="1.15" fill="#111"/>
<circle cx="444.42" cy="180.4" r="1.15" fill="#111"/>
<circle cx="444.42" cy="182.24" r="1.15" fill="#111"/>
<circle cx="444.42" cy="137" r="1.25" fill="#111"/>
<polygon points="444.42,184 444.36,185.67 444.28,187.34 444.18,189.01 444.07,190.69 443.95,192.36 443.82,194.03 443.69,195.7 443.55,197.37 443.41,199.04 443.26,200.71 443.1,202.39 442.95,204.06 442.79,205.73 442.62,207.4 441.12,223 441.55,224.19 441.96,225.37 442.33,226.56 442.68,227.74 442.99,228.93 443.28,230.11 443.54,231.3 443.76,232.49 443.95,233.67 444.11,234.86 444.24,236.04 444.34,237.23 444.4,238.41 444.42,239.6 444.42,239.6 444.44,238.41 444.5,237.23 444.6,236.04 444.73,234.86 444.89,233.67 445.08,232.49 445.3,231.3 445.56,230.11 445.85,228.93 446.16,227.74 446.51,226.56 446.88,225.37 447.29,224.19 447.72,223 446.22,207.4 446.05,205.73 445.89,204.06 445.74,202.39 445.58,200.71 445.43,199.04 445.29,197.37 445.15,195.7 445.02,194.03 444.89,192.36 444.77,190.69 444.66,189.01 444.56,187.34 444.48,185.67 444.42,184" fill="#183d7a" stroke="#111" stroke-width="0.6" stroke-linejoin="round"/>
<polygon points="444.42,184 444.36,185.67 444.28,187.34 444.18,189.01 444.07,190.69 443.95,192.36 443.82,194.03 443.69,195.7 443.55,197.37 443.41,199.04 443.26,200.71 443.1,202.39 442.95,204.06 442.79,205.73 442.62,207.4 446.22,207.4 446.05,205.73 445.89,204.06 445.74,202.39 445.58,200.71 445.43,199.04 445.29,197.37 445.15,195.7 445.02,194.03 444.89,192.36 444.77,190.69 444.66,189.01 444.56,187.34 444.48,185.67 444.42,184" fill="#132f58" stroke="#111" stroke-width="0.6" stroke-linejoin="round"/>
<rect x="441.52" y="207.4" width="5.8" height="15.6" fill="#1f55a2" stroke="#1c1c1c" stroke-width="0.55"/>
<line x1="441.52" y1="216.4" x2="447.32" y2="216.4" stroke="#1c1c1c" stroke-width="0.8"/>
<line x1="450.62" y1="122.9" x2="450.62" y2="238.8" stroke="#666" stroke-width="0.95"/>
<line x1="450.62" y1="163.7" x2="450.62" y2="188.9" stroke="#111" stroke-width="1.8"/>
<circle cx="450.62" cy="163.7" r="1.15" fill="#111"/>
<circle cx="450.62" cy="166.55" r="1.15" fill="#111"/>
<circle cx="450.62" cy="168.49" r="1.15" fill="#111"/>
<circle cx="450.62" cy="170.43" r="1.15" fill="#111"/>
<circle cx="450.62" cy="173.25" r="1.15" fill="#111"/>
<circle cx="450.62" cy="175.7" r="1.15" fill="#111"/>
<circle cx="450.62" cy="177.28" r="1.15" fill="#111"/>
<circle cx="450.62" cy="178.78" r="1.15" fill="#111"/>
<circle cx="450.62" cy="180.32" r="1.15" fill="#111"/>
<circle cx="450.62" cy="183.07" r="1.15" fill="#111"/>
<circle cx="450.62" cy="185.66" r="1.15" fill="#111"/>
<circle cx="450.62" cy="187.19" r="1.15" fill="#111"/>
<circle cx="450.62" cy="122.9" r="1.25" fill="#111"/>
<circle cx="450.62" cy="129.5" r="1.25" fill="#111"/>
<circle cx="450.62" cy="160.6" r="1.25" fill="#111"/>
<polygon points="450.62,188 450.56,189.56 450.48,191.11 450.38,192.67 450.27,194.23 450.15,195.79 450.02,197.34 449.89,198.9 449.75,200.46 449.61,202.01 449.46,203.57 449.3,205.13 449.15,206.69 448.99,208.24 448.82,209.8 447.32,223 447.71,224.13 448.08,225.26 448.43,226.39 448.76,227.51 449.06,228.64 449.35,229.77 449.6,230.9 449.84,232.03 450.05,233.16 450.23,234.29 450.38,235.41 450.5,236.54 450.58,237.67 450.62,238.8 450.62,238.8 450.66,237.67 450.74,236.54 450.86,235.41 451.01,234.29 451.19,233.16 451.4,232.03 451.64,230.9 451.89,229.77 452.18,228.64 452.48,227.51 452.81,226.39 453.16,225.26 453.53,224.13 453.92,223 452.42,209.8 452.25,208.24 452.09,206.69 451.94,205.13 451.78,203.57 451.63,202.01 451.49,200.46 451.35,198.9 451.22,197.34 451.09,195.79 450.97,194.23 450.86,192.67 450.76,191.11 450.68,189.56 450.62,188" fill="#27812f" stroke="#111" stroke-width="0.6" stroke-linejoin="round"/>
<polygon points="450.62,188 450.56,189.56 450.48,191.11 450.38,192.67 450.27,194.23 450.15,195.79 450.02,197.34 449.89,198.9 449.75,200.46 449.61,202.01 449.46,203.57 449.3,205.13 449.15,206.69 448.99,208.24 448.82,209.8 452.42,209.8 452.25,208.24 452.09,206.69 451.94,205.13 451.78,203.57 451.63,202.01 451.49,200.46 451.35,198.9 451.22,197.34 451.09,195.79 450.97,194.23 450.86,192.67 450.76,191.11 450.68,189.56 450.62,188" fill="#164d1f" stroke="#111" stroke-width="0.6" stroke-linejoin="round"/>
<rect x="447.72" y="209.8" width="5.8" height="13.2" fill="#3bb244" stroke="#1c1c1c" stroke-width="0.55"/>
<line x1="447.72" y1="218" x2="453.52" y2="218" stroke="#1c1c1c" stroke-width="0.8"/>
<line x1="459.04" y1="181" x2="459.04" y2="228.8" stroke="#666" stroke-width="0.95"/>
<line x1="459.04" y1="195.2" x2="459.04" y2="206.2" stroke="#111" stroke-width="1.8"/>
<circle cx="459.04" cy="195.2" r="1.15" fill="#111"/>
<circle cx="459.04" cy="198.07" r="1.15" fill="#111"/>
<circle cx="459.04" cy="200.42" r="1.15" fill="#111"/>
<circle cx="459.04" cy="202.28" r="1.15" fill="#111"/>
<circle cx="459.04" cy="204.46" r="1.15" fill="#111"/>
<circle cx="459.04" cy="205.97" r="1.15" fill="#111"/>
<circle cx="459.04" cy="181" r="1.25" fill="#111"/>
<circle cx="459.04" cy="188.1" r="1.25" fill="#111"/>
<circle cx="459.04" cy="192" r="1.25" fill="#111"/>
<polygon points="459.04,206.5 458.98,207.04 458.86,207.58 458.71,208.12 458.54,208.66 458.34,209.2 458.11,209.74 457.87,210.28 457.61,210.82 457.34,211.36 457.05,211.9 456.74,212.44 456.42,212.98 456.09,213.52 455.74,214.06 455.74,221.33 455.95,221.86 456.17,222.39 456.38,222.93 456.6,223.46 456.82,223.99 457.05,224.53 457.27,225.06 457.5,225.6 457.73,226.13 457.97,226.66 458.22,227.2 458.47,227.73 458.73,228.27 459.04,228.8 459.04,228.8 459.35,228.27 459.61,227.73 459.86,227.2 460.11,226.66 460.35,226.13 460.58,225.6 460.81,225.06 461.03,224.53 461.26,223.99 461.48,223.46 461.7,222.93 461.91,222.39 462.13,221.86 462.34,221.33 462.34,214.06 461.99,213.52 461.66,212.98 461.34,212.44 461.03,211.9 460.74,211.36 460.47,210.82 460.21,210.28 459.97,209.74 459.74,209.2 459.54,208.66 459.37,208.12 459.22,207.58 459.1,207.04 459.04,206.5" fill="#9b0e29" stroke="#111" stroke-width="0.6" stroke-linejoin="round"/>
<rect x="456.44" y="214.06" width="5.2" height="7.27" fill="#b00f2d" stroke="none" stroke-width="0.55"/>
<line x1="456.44" y1="217.3" x2="461.64" y2="217.3" stroke="#1c1c1c" stroke-width="0.8"/>
<line x1="465.34" y1="161.4" x2="465.34" y2="232" stroke="#666" stroke-width="0.95"/>
<line x1="465.34" y1="176" x2="465.34" y2="180.3" stroke="#111" stroke-width="1.8"/>
<line x1="465.34" y1="184.2" x2="465.34" y2="205.4" stroke="#111" stroke-width="1.8"/>
<circle cx="465.34" cy="176" r="1.15" fill="#111"/>
<circle cx="465.34" cy="178.85" r="1.15" fill="#111"/>
<circle cx="465.34" cy="184.2" r="1.15" fill="#111"/>
<circle cx="465.34" cy="186.34" r="1.15" fill="#111"/>
<circle cx="465.34" cy="189.14" r="1.15" fill="#111"/>
<circle cx="465.34" cy="191.13" r="1.15" fill="#111"/>
<circle cx="465.34" cy="193.83" r="1.15" fill="#111"/>
<circle cx="465.34" cy="196.45" r="1.15" fill="#111"/>
<circle cx="465.34" cy="198.08" r="1.15" fill="#111"/>
<circle cx="465.34" cy="199.79" r="1.15" fill="#111"/>
<circle cx="465.34" cy="201.56" r="1.15" fill="#111"/>
<circle cx="465.34" cy="203.24" r="1.15" fill="#111"/>
<circle cx="465.34" cy="161.4" r="1.25" fill="#111"/>
<circle cx="465.34" cy="232" r="1.25" fill="#111"/>
<polygon points="465.34,196.9 465.31,198.05 465.24,199.2 465.14,200.35 465,201.5 464.84,202.65 464.64,203.8 464.42,204.95 464.17,206.1 463.9,207.25 463.59,208.4 463.27,209.55 462.92,210.7 462.54,211.85 462.14,213 462.14,223 462.28,223.3 462.42,223.6 462.57,223.9 462.72,224.2 462.89,224.5 463.05,224.8 463.23,225.1 463.42,225.4 463.61,225.7 463.83,226 464.07,226.3 464.34,226.6 464.68,226.9 465.34,227.2 465.34,227.2 466,226.9 466.34,226.6 466.61,226.3 466.85,226 467.07,225.7 467.26,225.4 467.45,225.1 467.63,224.8 467.79,224.5 467.96,224.2 468.11,223.9 468.26,223.6 468.4,223.3 468.54,223 468.54,213 468.14,211.85 467.76,210.7 467.41,209.55 467.09,208.4 466.78,207.25 466.51,206.1 466.26,204.95 466.04,203.8 465.84,202.65 465.68,201.5 465.54,200.35 465.44,199.2 465.37,198.05 465.34,196.9" fill="#183d7a" stroke="#111" stroke-width="0.6" stroke-linejoin="round"/>
<polygon points="465.34,196.9 465.31,198.05 465.24,199.2 465.14,200.35 465,201.5 464.84,202.65 464.64,203.8 464.42,204.95 464.17,206.1 463.9,207.25 463.59,208.4 463.27,209.55 462.92,210.7 462.54,211.85 462.14,213 468.54,213 468.14,211.85 467.76,210.7 467.41,209.55 467.09,208.4 466.78,207.25 466.51,206.1 466.26,204.95 466.04,203.8 465.84,202.65 465.68,201.5 465.54,200.35 465.44,199.2 465.37,198.05 465.34,196.9" fill="url(#gub)" stroke="#111" stroke-width="0.6" stroke-linejoin="round"/>
<rect x="462.44" y="213" width="5.8" height="10" fill="#1f55a2" stroke="#1c1c1c" stroke-width="0.55"/>
<line x1="462.44" y1="218" x2="468.24" y2="218" stroke="#1c1c1c" stroke-width="0.8"/>
<line x1="471.54" y1="172.9" x2="471.54" y2="233.3" stroke="#666" stroke-width="0.95"/>
<line x1="471.54" y1="181" x2="471.54" y2="204.6" stroke="#111" stroke-width="1.8"/>
<circle cx="471.54" cy="181" r="1.15" fill="#111"/>
<circle cx="471.54" cy="182.71" r="1.15" fill="#111"/>
<circle cx="471.54" cy="184.69" r="1.15" fill="#111"/>
<circle cx="471.54" cy="186.2" r="1.15" fill="#111"/>
<circle cx="471.54" cy="188.95" r="1.15" fill="#111"/>
<circle cx="471.54" cy="190.82" r="1.15" fill="#111"/>
<circle cx="471.54" cy="192.85" r="1.15" fill="#111"/>
<circle cx="471.54" cy="195.08" r="1.15" fill="#111"/>
<circle cx="471.54" cy="197.83" r="1.15" fill="#111"/>
<circle cx="471.54" cy="199.8" r="1.15" fill="#111"/>
<circle cx="471.54" cy="202.57" r="1.15" fill="#111"/>
<circle cx="471.54" cy="172.9" r="1.25" fill="#111"/>
<circle cx="471.54" cy="233.3" r="1.25" fill="#111"/>
<polygon points="471.54,198.5 471.51,199.61 471.44,200.71 471.34,201.82 471.2,202.93 471.04,204.04 470.84,205.14 470.62,206.25 470.37,207.36 470.1,208.46 469.79,209.57 469.47,210.68 469.12,211.79 468.74,212.89 468.34,214 468.34,223.9 468.48,224.25 468.62,224.6 468.77,224.95 468.92,225.3 469.09,225.65 469.25,226 469.43,226.35 469.62,226.7 469.81,227.05 470.03,227.4 470.27,227.75 470.54,228.1 470.88,228.45 471.54,228.8 471.54,228.8 472.2,228.45 472.54,228.1 472.81,227.75 473.05,227.4 473.27,227.05 473.46,226.7 473.65,226.35 473.83,226 473.99,225.65 474.16,225.3 474.31,224.95 474.46,224.6 474.6,224.25 474.74,223.9 474.74,214 474.34,212.89 473.96,211.79 473.61,210.68 473.29,209.57 472.98,208.46 472.71,207.36 472.46,206.25 472.24,205.14 472.04,204.04 471.88,202.93 471.74,201.82 471.64,200.71 471.57,199.61 471.54,198.5" fill="#27812f" stroke="#111" stroke-width="0.6" stroke-linejoin="round"/>
<polygon points="471.54,198.5 471.51,199.61 471.44,200.71 471.34,201.82 471.2,202.93 471.04,204.04 470.84,205.14 470.62,206.25 470.37,207.36 470.1,208.46 469.79,209.57 469.47,210.68 469.12,211.79 468.74,212.89 468.34,214 474.74,214 474.34,212.89 473.96,211.79 473.61,210.68 473.29,209.57 472.98,208.46 472.71,207.36 472.46,206.25 472.24,205.14 472.04,204.04 471.88,202.93 471.74,201.82 471.64,200.71 471.57,199.61 471.54,198.5" fill="url(#gug)" stroke="#111" stroke-width="0.6" stroke-linejoin="round"/>
<rect x="468.64" y="214" width="5.8" height="9.9" fill="#3bb244" stroke="#1c1c1c" stroke-width="0.55"/>
<line x1="468.64" y1="219" x2="474.44" y2="219" stroke="#1c1c1c" stroke-width="0.8"/>
<line x1="479.96" y1="191" x2="479.96" y2="226.2" stroke="#666" stroke-width="0.95"/>
<circle cx="479.96" cy="191" r="1.25" fill="#111"/>
<polygon points="479.96,209.5 479.65,209.97 479.39,210.44 479.14,210.91 478.89,211.39 478.65,211.86 478.42,212.33 478.19,212.8 477.97,213.27 477.74,213.74 477.52,214.21 477.3,214.69 477.09,215.16 476.87,215.63 476.66,216.1 476.66,225.5 476.76,225.55 476.86,225.6 476.96,225.65 477.08,225.7 477.19,225.75 477.32,225.8 477.46,225.85 477.61,225.9 477.77,225.95 477.96,226 478.18,226.05 478.44,226.1 478.81,226.15 479.96,226.2 479.96,226.2 481.11,226.15 481.48,226.1 481.74,226.05 481.96,226 482.15,225.95 482.31,225.9 482.46,225.85 482.6,225.8 482.73,225.75 482.84,225.7 482.96,225.65 483.06,225.6 483.16,225.55 483.26,225.5 483.26,216.1 483.05,215.63 482.83,215.16 482.62,214.69 482.4,214.21 482.18,213.74 481.95,213.27 481.73,212.8 481.5,212.33 481.27,211.86 481.03,211.39 480.78,210.91 480.53,210.44 480.27,209.97 479.96,209.5" fill="#9b0e29" stroke="#111" stroke-width="0.6" stroke-linejoin="round"/>
<rect x="477.06" y="216.1" width="5.8" height="9.4" fill="#d2102e" stroke="#1c1c1c" stroke-width="0.55"/>
<line x1="476.66" y1="219.5" x2="483.26" y2="219.5" stroke="#1c1c1c" stroke-width="0.45" opacity="0.8"/>
<line x1="476.66" y1="222.2" x2="483.26" y2="222.2" stroke="#1c1c1c" stroke-width="0.45" opacity="0.8"/>
<line x1="477.06" y1="220.8" x2="482.86" y2="220.8" stroke="#1c1c1c" stroke-width="0.8"/>
<line x1="486.26" y1="194.1" x2="486.26" y2="228.8" stroke="#666" stroke-width="0.95"/>
<circle cx="486.26" cy="194.1" r="1.25" fill="#111"/>
<circle cx="486.26" cy="199.4" r="1.25" fill="#111"/>
<circle cx="486.26" cy="203.4" r="1.25" fill="#111"/>
<circle cx="486.26" cy="206.1" r="1.25" fill="#111"/>
<polygon points="486.26,209.5 486.2,209.97 486.09,210.43 485.95,210.9 485.79,211.36 485.6,211.83 485.39,212.29 485.16,212.75 484.92,213.22 484.66,213.69 484.39,214.15 484.1,214.62 483.8,215.08 483.49,215.55 483.16,216.01 483.16,222.3 483.36,222.76 483.56,223.23 483.76,223.69 483.97,224.16 484.18,224.62 484.39,225.09 484.6,225.55 484.81,226.01 485.03,226.48 485.26,226.94 485.49,227.41 485.72,227.87 485.97,228.34 486.26,228.8 486.26,228.8 486.55,228.34 486.8,227.87 487.03,227.41 487.26,226.94 487.49,226.48 487.71,226.01 487.92,225.55 488.13,225.09 488.34,224.62 488.55,224.16 488.76,223.69 488.96,223.23 489.16,222.76 489.36,222.3 489.36,216.01 489.03,215.55 488.72,215.08 488.42,214.62 488.13,214.15 487.86,213.69 487.6,213.22 487.36,212.75 487.13,212.29 486.92,211.83 486.73,211.36 486.57,210.9 486.43,210.43 486.32,209.97 486.26,209.5" fill="#183d7a" stroke="#111" stroke-width="0.6" stroke-linejoin="round"/>
<rect x="483.66" y="216.01" width="5.2" height="6.29" fill="#1a4482" stroke="none" stroke-width="0.55"/>
<line x1="483.66" y1="218.8" x2="488.86" y2="218.8" stroke="#1c1c1c" stroke-width="0.8"/>
<line x1="492.46" y1="191" x2="492.46" y2="239.5" stroke="#666" stroke-width="0.95"/>
<circle cx="492.46" cy="191" r="1.25" fill="#111"/>
<circle cx="492.46" cy="199.4" r="1.25" fill="#111"/>
<circle cx="492.46" cy="201.4" r="1.25" fill="#111"/>
<circle cx="492.46" cy="204.1" r="1.25" fill="#111"/>
<polygon points="492.46,206.8 492.23,207.42 492,208.04 491.77,208.66 491.55,209.29 491.32,209.91 491.09,210.53 490.86,211.15 490.63,211.77 490.4,212.39 490.17,213.01 489.95,213.64 489.72,214.26 489.49,214.88 489.26,215.5 489.26,224.2 489.62,225.29 489.96,226.39 490.28,227.48 490.59,228.57 490.88,229.66 491.15,230.76 491.4,231.85 491.64,232.94 491.84,234.04 492.03,235.13 492.19,236.22 492.32,237.31 492.41,238.41 492.46,239.5 492.46,239.5 492.51,238.41 492.6,237.31 492.73,236.22 492.89,235.13 493.08,234.04 493.28,232.94 493.52,231.85 493.77,230.76 494.04,229.66 494.33,228.57 494.64,227.48 494.96,226.39 495.3,225.29 495.66,224.2 495.66,215.5 495.43,214.88 495.2,214.26 494.97,213.64 494.75,213.01 494.52,212.39 494.29,211.77 494.06,211.15 493.83,210.53 493.6,209.91 493.37,209.29 493.15,208.66 492.92,208.04 492.69,207.42 492.46,206.8" fill="#27812f" stroke="#111" stroke-width="0.6" stroke-linejoin="round"/>
<polygon points="489.26,224.2 489.62,225.29 489.96,226.39 490.28,227.48 490.59,228.57 490.88,229.66 491.15,230.76 491.4,231.85 491.64,232.94 491.84,234.04 492.03,235.13 492.19,236.22 492.32,237.31 492.41,238.41 492.46,239.5 492.46,239.5 492.51,238.41 492.6,237.31 492.73,236.22 492.89,235.13 493.08,234.04 493.28,232.94 493.52,231.85 493.77,230.76 494.04,229.66 494.33,228.57 494.64,227.48 494.96,226.39 495.3,225.29 495.66,224.2" fill="url(#gdg)" stroke="#111" stroke-width="0.6" stroke-linejoin="round"/>
<rect x="489.56" y="215.5" width="5.8" height="8.7" fill="#3bb244" stroke="#1c1c1c" stroke-width="0.55"/>
<line x1="489.56" y1="219.8" x2="495.36" y2="219.8" stroke="#1c1c1c" stroke-width="0.8"/>
<line x1="500.88" y1="198.8" x2="500.88" y2="230.2" stroke="#666" stroke-width="0.95"/>
<polygon points="498.58,198.8 498.58,199.37 498.58,199.94 498.58,200.51 498.58,201.09 498.58,201.66 498.57,202.23 498.56,202.8 498.55,203.37 498.51,203.94 498.45,204.51 498.34,205.09 498.18,205.66 497.94,206.23 497.58,206.8 497.58,228 497.7,228.16 497.82,228.31 497.95,228.47 498.09,228.63 498.23,228.79 498.39,228.94 498.55,229.1 498.72,229.26 498.91,229.41 499.12,229.57 499.35,229.73 499.63,229.89 500,230.04 500.88,230.2 500.88,230.2 501.76,230.04 502.13,229.89 502.41,229.73 502.64,229.57 502.85,229.41 503.04,229.26 503.21,229.1 503.37,228.94 503.53,228.79 503.67,228.63 503.81,228.47 503.94,228.31 504.06,228.16 504.18,228 504.18,206.8 503.82,206.23 503.58,205.66 503.42,205.09 503.31,204.51 503.25,203.94 503.21,203.37 503.2,202.8 503.19,202.23 503.18,201.66 503.18,201.09 503.18,200.51 503.18,199.94 503.18,199.37 503.18,198.8" fill="#d2102e" stroke="#111" stroke-width="0.6" stroke-linejoin="round"/>
<line x1="497.58" y1="221.5" x2="504.18" y2="221.5" stroke="#1c1c1c" stroke-width="0.45" opacity="0.8"/>
<line x1="497.58" y1="218.8" x2="504.18" y2="218.8" stroke="#1c1c1c" stroke-width="0.8"/>
<line x1="507.18" y1="207.5" x2="507.18" y2="234.2" stroke="#666" stroke-width="0.95"/>
<polygon points="506.08,207.5 506.07,208.36 506.05,209.21 506.04,210.07 506.02,210.93 506.01,211.79 505.99,212.64 505.98,213.5 505.97,214.36 505.95,215.21 505.94,216.07 505.92,216.93 505.91,217.79 505.89,218.64 505.88,219.5 504.08,230.9 504.24,231.14 504.4,231.37 504.56,231.61 504.73,231.84 504.9,232.08 505.08,232.31 505.27,232.55 505.47,232.79 505.67,233.02 505.89,233.26 506.13,233.49 506.39,233.73 506.69,233.96 507.18,234.2 507.18,234.2 507.67,233.96 507.97,233.73 508.23,233.49 508.47,233.26 508.69,233.02 508.89,232.79 509.09,232.55 509.28,232.31 509.46,232.08 509.63,231.84 509.8,231.61 509.96,231.37 510.12,231.14 510.28,230.9 508.48,219.5 508.47,218.64 508.45,217.79 508.44,216.93 508.42,216.07 508.41,215.21 508.39,214.36 508.38,213.5 508.37,212.64 508.35,211.79 508.34,210.93 508.32,210.07 508.31,209.21 508.29,208.36 508.28,207.5" fill="#183d7a" stroke="#111" stroke-width="0.6" stroke-linejoin="round"/>
<polygon points="506.08,207.5 506.07,208.36 506.05,209.21 506.04,210.07 506.02,210.93 506.01,211.79 505.99,212.64 505.98,213.5 505.97,214.36 505.95,215.21 505.94,216.07 505.92,216.93 505.91,217.79 505.89,218.64 505.88,219.5 508.48,219.5 508.47,218.64 508.45,217.79 508.44,216.93 508.42,216.07 508.41,215.21 508.39,214.36 508.38,213.5 508.37,212.64 508.35,211.79 508.34,210.93 508.32,210.07 508.31,209.21 508.29,208.36 508.28,207.5" fill="#132f58" stroke="#111" stroke-width="0.6" stroke-linejoin="round"/>
<rect x="504.28" y="219.5" width="5.8" height="11.4" fill="#1f55a2" stroke="#1c1c1c" stroke-width="0.55"/>
<line x1="504.28" y1="225" x2="510.08" y2="225" stroke="#1c1c1c" stroke-width="0.8"/>
<line x1="513.38" y1="168.7" x2="513.38" y2="234.9" stroke="#666" stroke-width="0.95"/>
<circle cx="513.38" cy="168.7" r="1.25" fill="#111"/>
<polygon points="513.38,208.8 513.14,209.31 512.91,209.83 512.67,210.34 512.44,210.86 512.2,211.37 511.97,211.89 511.73,212.4 511.49,212.91 511.26,213.43 511.02,213.94 510.79,214.46 510.55,214.97 510.32,215.49 510.08,216 510.08,226.8 510.32,227.38 510.55,227.96 510.79,228.54 511.02,229.11 511.26,229.69 511.49,230.27 511.73,230.85 511.97,231.43 512.2,232.01 512.44,232.59 512.67,233.16 512.91,233.74 513.14,234.32 513.38,234.9 513.38,234.9 513.62,234.32 513.85,233.74 514.09,233.16 514.32,232.59 514.56,232.01 514.79,231.43 515.03,230.85 515.27,230.27 515.5,229.69 515.74,229.11 515.97,228.54 516.21,227.96 516.44,227.38 516.68,226.8 516.68,216 516.44,215.49 516.21,214.97 515.97,214.46 515.74,213.94 515.5,213.43 515.27,212.91 515.03,212.4 514.79,211.89 514.56,211.37 514.32,210.86 514.09,210.34 513.85,209.83 513.62,209.31 513.38,208.8" fill="#27812f" stroke="#111" stroke-width="0.6" stroke-linejoin="round"/>
<rect x="510.48" y="216" width="5.8" height="10.8" fill="#3bb244" stroke="#1c1c1c" stroke-width="0.55"/>
<line x1="510.48" y1="221.4" x2="516.28" y2="221.4" stroke="#1c1c1c" stroke-width="0.8"/>
<line x1="41.7" y1="440.2" x2="41.7" y2="563.3" stroke="#666" stroke-width="0.95"/>
<polygon points="41.7,440.2 41.53,444.3 41.34,448.4 41.13,452.5 40.92,456.6 40.7,460.7 40.48,464.8 40.25,468.9 40.02,473 39.79,477.1 39.56,481.2 39.32,485.3 39.08,489.4 38.84,493.5 38.6,497.6 38.6,553.1 38.7,553.83 38.81,554.56 38.92,555.29 39.04,556.01 39.16,556.74 39.29,557.47 39.43,558.2 39.58,558.93 39.75,559.66 39.94,560.39 40.15,561.11 40.41,561.84 40.75,562.57 41.7,563.3 41.7,563.3 42.65,562.57 42.99,561.84 43.25,561.11 43.46,560.39 43.65,559.66 43.82,558.93 43.97,558.2 44.11,557.47 44.24,556.74 44.36,556.01 44.48,555.29 44.59,554.56 44.7,553.83 44.8,553.1 44.8,497.6 44.56,493.5 44.32,489.4 44.08,485.3 43.84,481.2 43.61,477.1 43.38,473 43.15,468.9 42.92,464.8 42.7,460.7 42.48,456.6 42.27,452.5 42.06,448.4 41.87,444.3 41.7,440.2" fill="#9b0e29" stroke="#111" stroke-width="0.6" stroke-linejoin="round"/>
<rect x="38.8" y="497.6" width="5.8" height="55.5" fill="#d2102e" stroke="#1c1c1c" stroke-width="0.55"/>
<line x1="38.8" y1="522.5" x2="44.6" y2="522.5" stroke="#1c1c1c" stroke-width="0.8"/>
<line x1="47.9" y1="430.5" x2="47.9" y2="561.8" stroke="#666" stroke-width="0.95"/>
<circle cx="47.9" cy="430.5" r="1.25" fill="#111"/>
<circle cx="47.9" cy="445.3" r="1.25" fill="#111"/>
<polygon points="47.9,450 47.86,454.3 47.79,458.6 47.7,462.9 47.59,467.2 47.47,471.5 47.34,475.8 47.19,480.1 47.04,484.4 46.87,488.7 46.69,493 46.51,497.3 46.31,501.6 46.11,505.9 45.9,510.2 44.8,553 44.9,553.63 45.01,554.26 45.12,554.89 45.24,555.51 45.36,556.14 45.49,556.77 45.63,557.4 45.78,558.03 45.95,558.66 46.14,559.29 46.35,559.91 46.61,560.54 46.95,561.17 47.9,561.8 47.9,561.8 48.85,561.17 49.19,560.54 49.45,559.91 49.66,559.29 49.85,558.66 50.02,558.03 50.17,557.4 50.31,556.77 50.44,556.14 50.56,555.51 50.68,554.89 50.79,554.26 50.9,553.63 51,553 49.9,510.2 49.69,505.9 49.49,501.6 49.29,497.3 49.11,493 48.93,488.7 48.76,484.4 48.61,480.1 48.46,475.8 48.33,471.5 48.21,467.2 48.1,462.9 48.01,458.6 47.94,454.3 47.9,450" fill="#183d7a" stroke="#111" stroke-width="0.6" stroke-linejoin="round"/>
<polygon points="47.9,450 47.86,454.3 47.79,458.6 47.7,462.9 47.59,467.2 47.47,471.5 47.34,475.8 47.19,480.1 47.04,484.4 46.87,488.7 46.69,493 46.51,497.3 46.31,501.6 46.11,505.9 45.9,510.2 49.9,510.2 49.69,505.9 49.49,501.6 49.29,497.3 49.11,493 48.93,488.7 48.76,484.4 48.61,480.1 48.46,475.8 48.33,471.5 48.21,467.2 48.1,462.9 48.01,458.6 47.94,454.3 47.9,450" fill="#132f58" stroke="#111" stroke-width="0.6" stroke-linejoin="round"/>
<rect x="45" y="510.2" width="5.8" height="42.8" fill="#1f55a2" stroke="#1c1c1c" stroke-width="0.55"/>
<line x1="45" y1="525.6" x2="50.8" y2="525.6" stroke="#1c1c1c" stroke-width="0.8"/>
<line x1="54.1" y1="421.2" x2="54.1" y2="562.5" stroke="#666" stroke-width="0.95"/>
<circle cx="54.1" cy="421.2" r="1.25" fill="#111"/>
<circle cx="54.1" cy="434.7" r="1.25" fill="#111"/>
<circle cx="54.1" cy="446.7" r="1.25" fill="#111"/>
<polygon points="54.1,462 54.07,465.79 54,469.57 53.92,473.36 53.83,477.14 53.72,480.93 53.59,484.71 53.46,488.5 53.32,492.29 53.17,496.07 53.01,499.86 52.85,503.64 52.67,507.43 52.49,511.21 52.3,515 51,554.7 51.1,555.26 51.21,555.81 51.32,556.37 51.44,556.93 51.56,557.49 51.69,558.04 51.83,558.6 51.98,559.16 52.15,559.71 52.34,560.27 52.55,560.83 52.81,561.39 53.15,561.94 54.1,562.5 54.1,562.5 55.05,561.94 55.39,561.39 55.65,560.83 55.86,560.27 56.05,559.71 56.22,559.16 56.37,558.6 56.51,558.04 56.64,557.49 56.76,556.93 56.88,556.37 56.99,555.81 57.1,555.26 57.2,554.7 55.9,515 55.71,511.21 55.53,507.43 55.35,503.64 55.19,499.86 55.03,496.07 54.88,492.29 54.74,488.5 54.61,484.71 54.48,480.93 54.37,477.14 54.28,473.36 54.2,469.57 54.13,465.79 54.1,462" fill="#27812f" stroke="#111" stroke-width="0.6" stroke-linejoin="round"/>
<polygon points="54.1,462 54.07,465.79 54,469.57 53.92,473.36 53.83,477.14 53.72,480.93 53.59,484.71 53.46,488.5 53.32,492.29 53.17,496.07 53.01,499.86 52.85,503.64 52.67,507.43 52.49,511.21 52.3,515 55.9,515 55.71,511.21 55.53,507.43 55.35,503.64 55.19,499.86 55.03,496.07 54.88,492.29 54.74,488.5 54.61,484.71 54.48,480.93 54.37,477.14 54.28,473.36 54.2,469.57 54.13,465.79 54.1,462" fill="#164d1f" stroke="#111" stroke-width="0.6" stroke-linejoin="round"/>
<rect x="51.2" y="515" width="5.8" height="39.7" fill="#3bb244" stroke="#1c1c1c" stroke-width="0.55"/>
<line x1="51" y1="553.5" x2="57.2" y2="553.5" stroke="#1c1c1c" stroke-width="0.45" opacity="0.8"/>
<line x1="51.2" y1="550" x2="57" y2="550" stroke="#1c1c1c" stroke-width="0.8"/>
<line x1="62.6" y1="439.4" x2="62.6" y2="563.3" stroke="#666" stroke-width="0.95"/>
<line x1="62.6" y1="439.8" x2="62.6" y2="445" stroke="#111" stroke-width="1.8"/>
<circle cx="62.6" cy="439.8" r="1.15" fill="#111"/>
<circle cx="62.6" cy="441.95" r="1.15" fill="#111"/>
<circle cx="62.6" cy="444.09" r="1.15" fill="#111"/>
<polygon points="62.6,458 62.56,461.73 62.48,465.46 62.38,469.19 62.26,472.91 62.13,476.64 61.98,480.37 61.82,484.1 61.65,487.83 61.47,491.56 61.27,495.29 61.07,499.01 60.85,502.74 60.63,506.47 60.4,510.2 59.5,553.9 59.6,554.57 59.71,555.24 59.82,555.91 59.94,556.59 60.06,557.26 60.19,557.93 60.33,558.6 60.48,559.27 60.65,559.94 60.84,560.61 61.05,561.29 61.31,561.96 61.65,562.63 62.6,563.3 62.6,563.3 63.55,562.63 63.89,561.96 64.15,561.29 64.36,560.61 64.55,559.94 64.72,559.27 64.87,558.6 65.01,557.93 65.14,557.26 65.26,556.59 65.38,555.91 65.49,555.24 65.6,554.57 65.7,553.9 64.8,510.2 64.57,506.47 64.35,502.74 64.13,499.01 63.93,495.29 63.73,491.56 63.55,487.83 63.38,484.1 63.22,480.37 63.07,476.64 62.94,472.91 62.82,469.19 62.72,465.46 62.64,461.73 62.6,458" fill="#9b0e29" stroke="#111" stroke-width="0.6" stroke-linejoin="round"/>
<polygon points="62.6,458 62.56,461.73 62.48,465.46 62.38,469.19 62.26,472.91 62.13,476.64 61.98,480.37 61.82,484.1 61.65,487.83 61.47,491.56 61.27,495.29 61.07,499.01 60.85,502.74 60.63,506.47 60.4,510.2 64.8,510.2 64.57,506.47 64.35,502.74 64.13,499.01 63.93,495.29 63.73,491.56 63.55,487.83 63.38,484.1 63.22,480.37 63.07,476.64 62.94,472.91 62.82,469.19 62.72,465.46 62.64,461.73 62.6,458" fill="#600b1c" stroke="#111" stroke-width="0.6" stroke-linejoin="round"/>
<rect x="59.7" y="510.2" width="5.8" height="43.7" fill="#d2102e" stroke="#1c1c1c" stroke-width="0.55"/>
<line x1="59.7" y1="524" x2="65.5" y2="524" stroke="#1c1c1c" stroke-width="0.8"/>
<line x1="68.8" y1="425.5" x2="68.8" y2="563.3" stroke="#666" stroke-width="0.95"/>
<line x1="68.8" y1="448.2" x2="68.8" y2="450.3" stroke="#111" stroke-width="1.8"/>
<circle cx="68.8" cy="448.2" r="1.15" fill="#111"/>
<circle cx="68.8" cy="450.2" r="1.15" fill="#111"/>
<circle cx="68.8" cy="425.5" r="1.25" fill="#111"/>
<polygon points="68.8,458 68.76,461.79 68.68,465.57 68.58,469.36 68.46,473.14 68.33,476.93 68.18,480.71 68.02,484.5 67.85,488.29 67.67,492.07 67.47,495.86 67.27,499.64 67.05,503.43 66.83,507.21 66.6,511 65.7,552.3 65.81,553.09 65.93,553.87 66.05,554.66 66.18,555.44 66.31,556.23 66.46,557.01 66.61,557.8 66.77,558.59 66.95,559.37 67.14,560.16 67.36,560.94 67.63,561.73 67.97,562.51 68.8,563.3 68.8,563.3 69.63,562.51 69.97,561.73 70.24,560.94 70.46,560.16 70.65,559.37 70.83,558.59 70.99,557.8 71.14,557.01 71.29,556.23 71.42,555.44 71.55,554.66 71.67,553.87 71.79,553.09 71.9,552.3 71,511 70.77,507.21 70.55,503.43 70.33,499.64 70.13,495.86 69.93,492.07 69.75,488.29 69.58,484.5 69.42,480.71 69.27,476.93 69.14,473.14 69.02,469.36 68.92,465.57 68.84,461.79 68.8,458" fill="#183d7a" stroke="#111" stroke-width="0.6" stroke-linejoin="round"/>
<polygon points="68.8,458 68.76,461.79 68.68,465.57 68.58,469.36 68.46,473.14 68.33,476.93 68.18,480.71 68.02,484.5 67.85,488.29 67.67,492.07 67.47,495.86 67.27,499.64 67.05,503.43 66.83,507.21 66.6,511 71,511 70.77,507.21 70.55,503.43 70.33,499.64 70.13,495.86 69.93,492.07 69.75,488.29 69.58,484.5 69.42,480.71 69.27,476.93 69.14,473.14 69.02,469.36 68.92,465.57 68.84,461.79 68.8,458" fill="#132f58" stroke="#111" stroke-width="0.6" stroke-linejoin="round"/>
<rect x="65.9" y="511" width="5.8" height="41.3" fill="#1f55a2" stroke="#1c1c1c" stroke-width="0.55"/>
<line x1="65.9" y1="524.5" x2="71.7" y2="524.5" stroke="#1c1c1c" stroke-width="0.8"/>
<line x1="75" y1="407.4" x2="75" y2="564.9" stroke="#666" stroke-width="0.95"/>
<line x1="75" y1="441" x2="75" y2="444" stroke="#111" stroke-width="1.8"/>
<line x1="75" y1="447" x2="75" y2="452.4" stroke="#111" stroke-width="1.8"/>
<circle cx="75" cy="441" r="1.15" fill="#111"/>
<circle cx="75" cy="442.31" r="1.15" fill="#111"/>
<circle cx="75" cy="447" r="1.15" fill="#111"/>
<circle cx="75" cy="448.58" r="1.15" fill="#111"/>
<circle cx="75" cy="450.63" r="1.15" fill="#111"/>
<circle cx="75" cy="407.4" r="1.25" fill="#111"/>
<circle cx="75" cy="420.5" r="1.25" fill="#111"/>
<circle cx="75" cy="434.4" r="1.25" fill="#111"/>
<polygon points="75,466 74.97,469.38 74.9,472.76 74.82,476.14 74.73,479.51 74.62,482.89 74.49,486.27 74.36,489.65 74.22,493.03 74.07,496.41 73.91,499.79 73.75,503.16 73.57,506.54 73.39,509.92 73.2,513.3 71.9,553.1 72.08,553.94 72.26,554.79 72.44,555.63 72.63,556.47 72.82,557.31 73.02,558.16 73.22,559 73.43,559.84 73.64,560.69 73.86,561.53 74.1,562.37 74.35,563.21 74.62,564.06 75,564.9 75,564.9 75.38,564.06 75.65,563.21 75.9,562.37 76.14,561.53 76.36,560.69 76.57,559.84 76.78,559 76.98,558.16 77.18,557.31 77.37,556.47 77.56,555.63 77.74,554.79 77.92,553.94 78.1,553.1 76.8,513.3 76.61,509.92 76.43,506.54 76.25,503.16 76.09,499.79 75.93,496.41 75.78,493.03 75.64,489.65 75.51,486.27 75.38,482.89 75.27,479.51 75.18,476.14 75.1,472.76 75.03,469.38 75,466" fill="#27812f" stroke="#111" stroke-width="0.6" stroke-linejoin="round"/>
<polygon points="75,466 74.97,469.38 74.9,472.76 74.82,476.14 74.73,479.51 74.62,482.89 74.49,486.27 74.36,489.65 74.22,493.03 74.07,496.41 73.91,499.79 73.75,503.16 73.57,506.54 73.39,509.92 73.2,513.3 76.8,513.3 76.61,509.92 76.43,506.54 76.25,503.16 76.09,499.79 75.93,496.41 75.78,493.03 75.64,489.65 75.51,486.27 75.38,482.89 75.27,479.51 75.18,476.14 75.1,472.76 75.03,469.38 75,466" fill="#164d1f" stroke="#111" stroke-width="0.6" stroke-linejoin="round"/>
<rect x="72.1" y="513.3" width="5.8" height="39.8" fill="#3bb244" stroke="#1c1c1c" stroke-width="0.55"/>
<line x1="72.1" y1="534.2" x2="77.9" y2="534.2" stroke="#1c1c1c" stroke-width="0.8"/>
<line x1="83.5" y1="445.3" x2="83.5" y2="560.2" stroke="#666" stroke-width="0.95"/>
<circle cx="83.5" cy="445.3" r="1.25" fill="#111"/>
<circle cx="83.5" cy="455.2" r="1.25" fill="#111"/>
<circle cx="83.5" cy="465.2" r="1.25" fill="#111"/>
<polygon points="83.5,470 83.46,473.38 83.38,476.76 83.29,480.14 83.19,483.51 83.07,486.89 82.95,490.27 82.82,493.65 82.68,497.03 82.53,500.41 82.38,503.79 82.22,507.16 82.05,510.54 81.88,513.92 81.7,517.3 80.4,553 80.5,553.51 80.61,554.03 80.72,554.54 80.84,555.06 80.96,555.57 81.09,556.09 81.23,556.6 81.38,557.11 81.55,557.63 81.74,558.14 81.95,558.66 82.21,559.17 82.55,559.69 83.5,560.2 83.5,560.2 84.45,559.69 84.79,559.17 85.05,558.66 85.26,558.14 85.45,557.63 85.62,557.11 85.77,556.6 85.91,556.09 86.04,555.57 86.16,555.06 86.28,554.54 86.39,554.03 86.5,553.51 86.6,553 85.3,517.3 85.12,513.92 84.95,510.54 84.78,507.16 84.62,503.79 84.47,500.41 84.32,497.03 84.18,493.65 84.05,490.27 83.93,486.89 83.81,483.51 83.71,480.14 83.62,476.76 83.54,473.38 83.5,470" fill="#9b0e29" stroke="#111" stroke-width="0.6" stroke-linejoin="round"/>
<polygon points="83.5,470 83.46,473.38 83.38,476.76 83.29,480.14 83.19,483.51 83.07,486.89 82.95,490.27 82.82,493.65 82.68,497.03 82.53,500.41 82.38,503.79 82.22,507.16 82.05,510.54 81.88,513.92 81.7,517.3 85.3,517.3 85.12,513.92 84.95,510.54 84.78,507.16 84.62,503.79 84.47,500.41 84.32,497.03 84.18,493.65 84.05,490.27 83.93,486.89 83.81,483.51 83.71,480.14 83.62,476.76 83.54,473.38 83.5,470" fill="#600b1c" stroke="#111" stroke-width="0.6" stroke-linejoin="round"/>
<rect x="80.6" y="517.3" width="5.8" height="35.7" fill="#d2102e" stroke="#1c1c1c" stroke-width="0.55"/>
<line x1="80.6" y1="546" x2="86.4" y2="546" stroke="#1c1c1c" stroke-width="0.8"/>
<line x1="89.7" y1="459.8" x2="89.7" y2="559.4" stroke="#666" stroke-width="0.95"/>
<circle cx="89.7" cy="459.8" r="1.25" fill="#111"/>
<polygon points="89.7,476 89.66,479.11 89.6,482.23 89.51,485.34 89.42,488.46 89.32,491.57 89.21,494.69 89.09,497.8 88.97,500.91 88.84,504.03 88.7,507.14 88.56,510.26 88.41,513.37 88.26,516.49 88.1,519.6 86.6,553.9 86.7,554.29 86.81,554.69 86.92,555.08 87.04,555.47 87.16,555.86 87.29,556.26 87.43,556.65 87.58,557.04 87.75,557.44 87.94,557.83 88.15,558.22 88.41,558.61 88.75,559.01 89.7,559.4 89.7,559.4 90.65,559.01 90.99,558.61 91.25,558.22 91.46,557.83 91.65,557.44 91.82,557.04 91.97,556.65 92.11,556.26 92.24,555.86 92.36,555.47 92.48,555.08 92.59,554.69 92.7,554.29 92.8,553.9 91.3,519.6 91.14,516.49 90.99,513.37 90.84,510.26 90.7,507.14 90.56,504.03 90.43,500.91 90.31,497.8 90.19,494.69 90.08,491.57 89.98,488.46 89.89,485.34 89.8,482.23 89.74,479.11 89.7,476" fill="#183d7a" stroke="#111" stroke-width="0.6" stroke-linejoin="round"/>
<polygon points="89.7,476 89.66,479.11 89.6,482.23 89.51,485.34 89.42,488.46 89.32,491.57 89.21,494.69 89.09,497.8 88.97,500.91 88.84,504.03 88.7,507.14 88.56,510.26 88.41,513.37 88.26,516.49 88.1,519.6 91.3,519.6 91.14,516.49 90.99,513.37 90.84,510.26 90.7,507.14 90.56,504.03 90.43,500.91 90.31,497.8 90.19,494.69 90.08,491.57 89.98,488.46 89.89,485.34 89.8,482.23 89.74,479.11 89.7,476" fill="#132f58" stroke="#111" stroke-width="0.6" stroke-linejoin="round"/>
<rect x="86.8" y="519.6" width="5.8" height="34.3" fill="#1f55a2" stroke="#1c1c1c" stroke-width="0.55"/>
<line x1="86.8" y1="548.4" x2="92.6" y2="548.4" stroke="#1c1c1c" stroke-width="0.8"/>
<line x1="95.9" y1="424.1" x2="95.9" y2="562.5" stroke="#666" stroke-width="0.95"/>
<line x1="95.9" y1="448.9" x2="95.9" y2="452.4" stroke="#111" stroke-width="1.8"/>
<circle cx="95.9" cy="448.9" r="1.15" fill="#111"/>
<circle cx="95.9" cy="451.09" r="1.15" fill="#111"/>
<circle cx="95.9" cy="424.1" r="1.25" fill="#111"/>
<circle cx="95.9" cy="441" r="1.25" fill="#111"/>
<circle cx="95.9" cy="456.7" r="1.25" fill="#111"/>
<circle cx="95.9" cy="468.7" r="1.25" fill="#111"/>
<circle cx="95.9" cy="470" r="1.25" fill="#111"/>
<polygon points="95.9,476 95.86,479.17 95.8,482.34 95.71,485.51 95.62,488.69 95.52,491.86 95.41,495.03 95.29,498.2 95.17,501.37 95.04,504.54 94.9,507.71 94.76,510.89 94.61,514.06 94.46,517.23 94.3,520.4 92.8,553.9 92.93,554.51 93.07,555.13 93.22,555.74 93.37,556.36 93.52,556.97 93.68,557.59 93.85,558.2 94.04,558.81 94.23,559.43 94.44,560.04 94.67,560.66 94.94,561.27 95.26,561.89 95.9,562.5 95.9,562.5 96.54,561.89 96.86,561.27 97.13,560.66 97.36,560.04 97.57,559.43 97.76,558.81 97.95,558.2 98.12,557.59 98.28,556.97 98.43,556.36 98.58,555.74 98.73,555.13 98.87,554.51 99,553.9 97.5,520.4 97.34,517.23 97.19,514.06 97.04,510.89 96.9,507.71 96.76,504.54 96.63,501.37 96.51,498.2 96.39,495.03 96.28,491.86 96.18,488.69 96.09,485.51 96,482.34 95.94,479.17 95.9,476" fill="#27812f" stroke="#111" stroke-width="0.6" stroke-linejoin="round"/>
<polygon points="95.9,476 95.86,479.17 95.8,482.34 95.71,485.51 95.62,488.69 95.52,491.86 95.41,495.03 95.29,498.2 95.17,501.37 95.04,504.54 94.9,507.71 94.76,510.89 94.61,514.06 94.46,517.23 94.3,520.4 97.5,520.4 97.34,517.23 97.19,514.06 97.04,510.89 96.9,507.71 96.76,504.54 96.63,501.37 96.51,498.2 96.39,495.03 96.28,491.86 96.18,488.69 96.09,485.51 96,482.34 95.94,479.17 95.9,476" fill="#164d1f" stroke="#111" stroke-width="0.6" stroke-linejoin="round"/>
<rect x="93" y="520.4" width="5.8" height="33.5" fill="#3bb244" stroke="#1c1c1c" stroke-width="0.55"/>
<line x1="93" y1="547.6" x2="98.8" y2="547.6" stroke="#1c1c1c" stroke-width="0.8"/>
<line x1="104.4" y1="422.2" x2="104.4" y2="566.5" stroke="#666" stroke-width="0.95"/>
<line x1="104.4" y1="436.1" x2="104.4" y2="466.6" stroke="#111" stroke-width="1.8"/>
<circle cx="104.4" cy="436.1" r="1.15" fill="#111"/>
<circle cx="104.4" cy="438.23" r="1.15" fill="#111"/>
<circle cx="104.4" cy="440.42" r="1.15" fill="#111"/>
<circle cx="104.4" cy="442.97" r="1.15" fill="#111"/>
<circle cx="104.4" cy="444.44" r="1.15" fill="#111"/>
<circle cx="104.4" cy="446.64" r="1.15" fill="#111"/>
<circle cx="104.4" cy="448.34" r="1.15" fill="#111"/>
<circle cx="104.4" cy="450.08" r="1.15" fill="#111"/>
<circle cx="104.4" cy="452.62" r="1.15" fill="#111"/>
<circle cx="104.4" cy="454.73" r="1.15" fill="#111"/>
<circle cx="104.4" cy="456.93" r="1.15" fill="#111"/>
<circle cx="104.4" cy="459.44" r="1.15" fill="#111"/>
<circle cx="104.4" cy="462.2" r="1.15" fill="#111"/>
<circle cx="104.4" cy="464.21" r="1.15" fill="#111"/>
<circle cx="104.4" cy="466.49" r="1.15" fill="#111"/>
<circle cx="104.4" cy="422.2" r="1.25" fill="#111"/>
<circle cx="104.4" cy="426.9" r="1.25" fill="#111"/>
<polygon points="104.4,492 104.32,493.91 104.22,495.83 104.12,497.74 104.02,499.66 103.92,501.57 103.81,503.49 103.7,505.4 103.59,507.31 103.48,509.23 103.36,511.14 103.25,513.06 103.13,514.97 103.02,516.89 102.9,518.8 101.3,555.5 101.5,556.29 101.7,557.07 101.9,557.86 102.11,558.64 102.32,559.43 102.53,560.21 102.74,561 102.95,561.79 103.17,562.57 103.4,563.36 103.63,564.14 103.86,564.93 104.11,565.71 104.4,566.5 104.4,566.5 104.69,565.71 104.94,564.93 105.17,564.14 105.4,563.36 105.63,562.57 105.85,561.79 106.06,561 106.27,560.21 106.48,559.43 106.69,558.64 106.9,557.86 107.1,557.07 107.3,556.29 107.5,555.5 105.9,518.8 105.78,516.89 105.67,514.97 105.55,513.06 105.44,511.14 105.32,509.23 105.21,507.31 105.1,505.4 104.99,503.49 104.88,501.57 104.78,499.66 104.68,497.74 104.58,495.83 104.48,493.91 104.4,492" fill="#9b0e29" stroke="#111" stroke-width="0.6" stroke-linejoin="round"/>
<polygon points="104.4,492 104.32,493.91 104.22,495.83 104.12,497.74 104.02,499.66 103.92,501.57 103.81,503.49 103.7,505.4 103.59,507.31 103.48,509.23 103.36,511.14 103.25,513.06 103.13,514.97 103.02,516.89 102.9,518.8 105.9,518.8 105.78,516.89 105.67,514.97 105.55,513.06 105.44,511.14 105.32,509.23 105.21,507.31 105.1,505.4 104.99,503.49 104.88,501.57 104.78,499.66 104.68,497.74 104.58,495.83 104.48,493.91 104.4,492" fill="#600b1c" stroke="#111" stroke-width="0.6" stroke-linejoin="round"/>
<rect x="101.5" y="518.8" width="5.8" height="36.7" fill="#d2102e" stroke="#1c1c1c" stroke-width="0.55"/>
<line x1="101.5" y1="546" x2="107.3" y2="546" stroke="#1c1c1c" stroke-width="0.8"/>
<line x1="110.6" y1="404.2" x2="110.6" y2="561" stroke="#666" stroke-width="0.95"/>
<line x1="110.6" y1="461.6" x2="110.6" y2="473" stroke="#111" stroke-width="1.8"/>
<circle cx="110.6" cy="461.6" r="1.15" fill="#111"/>
<circle cx="110.6" cy="463.72" r="1.15" fill="#111"/>
<circle cx="110.6" cy="466.13" r="1.15" fill="#111"/>
<circle cx="110.6" cy="468.15" r="1.15" fill="#111"/>
<circle cx="110.6" cy="470.3" r="1.15" fill="#111"/>
<circle cx="110.6" cy="472.37" r="1.15" fill="#111"/>
<circle cx="110.6" cy="404.2" r="1.25" fill="#111"/>
<circle cx="110.6" cy="424.4" r="1.25" fill="#111"/>
<circle cx="110.6" cy="435.1" r="1.25" fill="#111"/>
<circle cx="110.6" cy="455.5" r="1.25" fill="#111"/>
<polygon points="110.6,500 110.52,501.49 110.42,502.97 110.32,504.46 110.22,505.94 110.12,507.43 110.01,508.91 109.9,510.4 109.79,511.89 109.68,513.37 109.56,514.86 109.45,516.34 109.33,517.83 109.22,519.31 109.1,520.8 107.5,555.5 107.61,555.89 107.73,556.29 107.85,556.68 107.98,557.07 108.11,557.46 108.26,557.86 108.41,558.25 108.57,558.64 108.75,559.04 108.94,559.43 109.16,559.82 109.43,560.21 109.77,560.61 110.6,561 110.6,561 111.43,560.61 111.77,560.21 112.04,559.82 112.26,559.43 112.45,559.04 112.63,558.64 112.79,558.25 112.94,557.86 113.09,557.46 113.22,557.07 113.35,556.68 113.47,556.29 113.59,555.89 113.7,555.5 112.1,520.8 111.98,519.31 111.87,517.83 111.75,516.34 111.64,514.86 111.52,513.37 111.41,511.89 111.3,510.4 111.19,508.91 111.08,507.43 110.98,505.94 110.88,504.46 110.78,502.97 110.68,501.49 110.6,500" fill="#183d7a" stroke="#111" stroke-width="0.6" stroke-linejoin="round"/>
<polygon points="110.6,500 110.52,501.49 110.42,502.97 110.32,504.46 110.22,505.94 110.12,507.43 110.01,508.91 109.9,510.4 109.79,511.89 109.68,513.37 109.56,514.86 109.45,516.34 109.33,517.83 109.22,519.31 109.1,520.8 112.1,520.8 111.98,519.31 111.87,517.83 111.75,516.34 111.64,514.86 111.52,513.37 111.41,511.89 111.3,510.4 111.19,508.91 111.08,507.43 110.98,505.94 110.88,504.46 110.78,502.97 110.68,501.49 110.6,500" fill="#132f58" stroke="#111" stroke-width="0.6" stroke-linejoin="round"/>
<rect x="107.7" y="520.8" width="5.8" height="34.7" fill="#1f55a2" stroke="#1c1c1c" stroke-width="0.55"/>
<line x1="107.7" y1="550" x2="113.5" y2="550" stroke="#1c1c1c" stroke-width="0.8"/>
<line x1="116.8" y1="416.7" x2="116.8" y2="565.7" stroke="#666" stroke-width="0.95"/>
<line x1="116.8" y1="425.5" x2="116.8" y2="475.8" stroke="#111" stroke-width="1.8"/>
<circle cx="116.8" cy="425.5" r="1.15" fill="#111"/>
<circle cx="116.8" cy="427.92" r="1.15" fill="#111"/>
<circle cx="116.8" cy="430.62" r="1.15" fill="#111"/>
<circle cx="116.8" cy="433.43" r="1.15" fill="#111"/>
<circle cx="116.8" cy="435.14" r="1.15" fill="#111"/>
<circle cx="116.8" cy="437.34" r="1.15" fill="#111"/>
<circle cx="116.8" cy="440.15" r="1.15" fill="#111"/>
<circle cx="116.8" cy="442.79" r="1.15" fill="#111"/>
<circle cx="116.8" cy="444.31" r="1.15" fill="#111"/>
<circle cx="116.8" cy="445.81" r="1.15" fill="#111"/>
<circle cx="116.8" cy="447.81" r="1.15" fill="#111"/>
<circle cx="116.8" cy="449.23" r="1.15" fill="#111"/>
<circle cx="116.8" cy="450.91" r="1.15" fill="#111"/>
<circle cx="116.8" cy="452.33" r="1.15" fill="#111"/>
<circle cx="116.8" cy="454.7" r="1.15" fill="#111"/>
<circle cx="116.8" cy="457.26" r="1.15" fill="#111"/>
<circle cx="116.8" cy="459.99" r="1.15" fill="#111"/>
<circle cx="116.8" cy="461.54" r="1.15" fill="#111"/>
<circle cx="116.8" cy="463.99" r="1.15" fill="#111"/>
<circle cx="116.8" cy="466.34" r="1.15" fill="#111"/>
<circle cx="116.8" cy="467.87" r="1.15" fill="#111"/>
<circle cx="116.8" cy="470.58" r="1.15" fill="#111"/>
<circle cx="116.8" cy="473.43" r="1.15" fill="#111"/>
<circle cx="116.8" cy="475.08" r="1.15" fill="#111"/>
<circle cx="116.8" cy="416.7" r="1.25" fill="#111"/>
<polygon points="116.8,501 116.72,502.57 116.62,504.14 116.52,505.71 116.42,507.29 116.32,508.86 116.21,510.43 116.1,512 115.99,513.57 115.88,515.14 115.76,516.71 115.65,518.29 115.53,519.86 115.42,521.43 115.3,523 113.7,556.3 113.9,556.97 114.1,557.64 114.3,558.31 114.51,558.99 114.72,559.66 114.93,560.33 115.14,561 115.35,561.67 115.57,562.34 115.8,563.01 116.03,563.69 116.26,564.36 116.51,565.03 116.8,565.7 116.8,565.7 117.09,565.03 117.34,564.36 117.57,563.69 117.8,563.01 118.03,562.34 118.25,561.67 118.46,561 118.67,560.33 118.88,559.66 119.09,558.99 119.3,558.31 119.5,557.64 119.7,556.97 119.9,556.3 118.3,523 118.18,521.43 118.07,519.86 117.95,518.29 117.84,516.71 117.72,515.14 117.61,513.57 117.5,512 117.39,510.43 117.28,508.86 117.18,507.29 117.08,505.71 116.98,504.14 116.88,502.57 116.8,501" fill="#27812f" stroke="#111" stroke-width="0.6" stroke-linejoin="round"/>
<polygon points="116.8,501 116.72,502.57 116.62,504.14 116.52,505.71 116.42,507.29 116.32,508.86 116.21,510.43 116.1,512 115.99,513.57 115.88,515.14 115.76,516.71 115.65,518.29 115.53,519.86 115.42,521.43 115.3,523 118.3,523 118.18,521.43 118.07,519.86 117.95,518.29 117.84,516.71 117.72,515.14 117.61,513.57 117.5,512 117.39,510.43 117.28,508.86 117.18,507.29 117.08,505.71 116.98,504.14 116.88,502.57 116.8,501" fill="#164d1f" stroke="#111" stroke-width="0.6" stroke-linejoin="round"/>
<rect x="113.9" y="523" width="5.8" height="33.3" fill="#3bb244" stroke="#1c1c1c" stroke-width="0.55"/>
<line x1="113.9" y1="550.8" x2="119.7" y2="550.8" stroke="#1c1c1c" stroke-width="0.8"/>
<line x1="125.3" y1="465.4" x2="125.3" y2="560.2" stroke="#666" stroke-width="0.95"/>
<circle cx="125.3" cy="465.4" r="1.25" fill="#111"/>
<polygon points="125.3,503 125.22,504.7 125.12,506.4 125.02,508.1 124.92,509.8 124.82,511.5 124.71,513.2 124.6,514.9 124.49,516.6 124.38,518.3 124.26,520 124.15,521.7 124.03,523.4 123.92,525.1 123.8,526.8 122.2,555.5 122.3,555.84 122.41,556.17 122.52,556.51 122.64,556.84 122.76,557.18 122.89,557.51 123.03,557.85 123.18,558.19 123.35,558.52 123.54,558.86 123.75,559.19 124.01,559.53 124.35,559.86 125.3,560.2 125.3,560.2 126.25,559.86 126.59,559.53 126.85,559.19 127.06,558.86 127.25,558.52 127.42,558.19 127.57,557.85 127.71,557.51 127.84,557.18 127.96,556.84 128.08,556.51 128.19,556.17 128.3,555.84 128.4,555.5 126.8,526.8 126.68,525.1 126.57,523.4 126.45,521.7 126.34,520 126.22,518.3 126.11,516.6 126,514.9 125.89,513.2 125.78,511.5 125.68,509.8 125.58,508.1 125.48,506.4 125.38,504.7 125.3,503" fill="#9b0e29" stroke="#111" stroke-width="0.6" stroke-linejoin="round"/>
<polygon points="125.3,503 125.22,504.7 125.12,506.4 125.02,508.1 124.92,509.8 124.82,511.5 124.71,513.2 124.6,514.9 124.49,516.6 124.38,518.3 124.26,520 124.15,521.7 124.03,523.4 123.92,525.1 123.8,526.8 126.8,526.8 126.68,525.1 126.57,523.4 126.45,521.7 126.34,520 126.22,518.3 126.11,516.6 126,514.9 125.89,513.2 125.78,511.5 125.68,509.8 125.58,508.1 125.48,506.4 125.38,504.7 125.3,503" fill="#600b1c" stroke="#111" stroke-width="0.6" stroke-linejoin="round"/>
<rect x="122.4" y="526.8" width="5.8" height="28.7" fill="#d2102e" stroke="#1c1c1c" stroke-width="0.55"/>
<line x1="122.4" y1="551.5" x2="128.2" y2="551.5" stroke="#1c1c1c" stroke-width="0.8"/>
<line x1="131.5" y1="494.8" x2="131.5" y2="558.6" stroke="#666" stroke-width="0.95"/>
<circle cx="131.5" cy="494.8" r="1.25" fill="#111"/>
<polygon points="131.5,509 131.42,510.51 131.32,512.03 131.22,513.54 131.12,515.06 131.02,516.57 130.91,518.09 130.8,519.6 130.69,521.11 130.58,522.63 130.46,524.14 130.35,525.66 130.23,527.17 130.12,528.69 130,530.2 128.4,555.5 128.5,555.72 128.61,555.94 128.72,556.16 128.84,556.39 128.96,556.61 129.09,556.83 129.23,557.05 129.38,557.27 129.55,557.49 129.74,557.71 129.95,557.94 130.21,558.16 130.55,558.38 131.5,558.6 131.5,558.6 132.45,558.38 132.79,558.16 133.05,557.94 133.26,557.71 133.45,557.49 133.62,557.27 133.77,557.05 133.91,556.83 134.04,556.61 134.16,556.39 134.28,556.16 134.39,555.94 134.5,555.72 134.6,555.5 133,530.2 132.88,528.69 132.77,527.17 132.65,525.66 132.54,524.14 132.42,522.63 132.31,521.11 132.2,519.6 132.09,518.09 131.98,516.57 131.88,515.06 131.78,513.54 131.68,512.03 131.58,510.51 131.5,509" fill="#183d7a" stroke="#111" stroke-width="0.6" stroke-linejoin="round"/>
<polygon points="131.5,509 131.42,510.51 131.32,512.03 131.22,513.54 131.12,515.06 131.02,516.57 130.91,518.09 130.8,519.6 130.69,521.11 130.58,522.63 130.46,524.14 130.35,525.66 130.23,527.17 130.12,528.69 130,530.2 133,530.2 132.88,528.69 132.77,527.17 132.65,525.66 132.54,524.14 132.42,522.63 132.31,521.11 132.2,519.6 132.09,518.09 131.98,516.57 131.88,515.06 131.78,513.54 131.68,512.03 131.58,510.51 131.5,509" fill="#132f58" stroke="#111" stroke-width="0.6" stroke-linejoin="round"/>
<rect x="128.6" y="530.2" width="5.8" height="25.3" fill="#1f55a2" stroke="#1c1c1c" stroke-width="0.55"/>
<line x1="128.6" y1="548.4" x2="134.4" y2="548.4" stroke="#1c1c1c" stroke-width="0.8"/>
<line x1="137.7" y1="474.4" x2="137.7" y2="561" stroke="#666" stroke-width="0.95"/>
<circle cx="137.7" cy="474.4" r="1.25" fill="#111"/>
<circle cx="137.7" cy="479.3" r="1.25" fill="#111"/>
<circle cx="137.7" cy="484.3" r="1.25" fill="#111"/>
<polygon points="137.7,507 137.62,508.48 137.52,509.96 137.42,511.44 137.32,512.91 137.22,514.39 137.11,515.87 137,517.35 136.89,518.83 136.78,520.31 136.66,521.79 136.55,523.26 136.43,524.74 136.32,526.22 136.2,527.7 134.6,557 134.71,557.29 134.83,557.57 134.95,557.86 135.08,558.14 135.21,558.43 135.36,558.71 135.51,559 135.67,559.29 135.85,559.57 136.04,559.86 136.26,560.14 136.53,560.43 136.87,560.71 137.7,561 137.7,561 138.53,560.71 138.87,560.43 139.14,560.14 139.36,559.86 139.55,559.57 139.73,559.29 139.89,559 140.04,558.71 140.19,558.43 140.32,558.14 140.45,557.86 140.57,557.57 140.69,557.29 140.8,557 139.2,527.7 139.08,526.22 138.97,524.74 138.85,523.26 138.74,521.79 138.62,520.31 138.51,518.83 138.4,517.35 138.29,515.87 138.18,514.39 138.08,512.91 137.98,511.44 137.88,509.96 137.78,508.48 137.7,507" fill="#27812f" stroke="#111" stroke-width="0.6" stroke-linejoin="round"/>
<polygon points="137.7,507 137.62,508.48 137.52,509.96 137.42,511.44 137.32,512.91 137.22,514.39 137.11,515.87 137,517.35 136.89,518.83 136.78,520.31 136.66,521.79 136.55,523.26 136.43,524.74 136.32,526.22 136.2,527.7 139.2,527.7 139.08,526.22 138.97,524.74 138.85,523.26 138.74,521.79 138.62,520.31 138.51,518.83 138.4,517.35 138.29,515.87 138.18,514.39 138.08,512.91 137.98,511.44 137.88,509.96 137.78,508.48 137.7,507" fill="#164d1f" stroke="#111" stroke-width="0.6" stroke-linejoin="round"/>
<rect x="134.8" y="527.7" width="5.8" height="29.3" fill="#3bb244" stroke="#1c1c1c" stroke-width="0.55"/>
<line x1="134.8" y1="551.5" x2="140.6" y2="551.5" stroke="#1c1c1c" stroke-width="0.8"/>
<line x1="146.2" y1="470.4" x2="146.2" y2="559.4" stroke="#666" stroke-width="0.95"/>
<circle cx="146.2" cy="470.4" r="1.25" fill="#111"/>
<circle cx="146.2" cy="499.8" r="1.25" fill="#111"/>
<circle cx="146.2" cy="502.5" r="1.25" fill="#111"/>
<circle cx="146.2" cy="505" r="1.25" fill="#111"/>
<circle cx="146.2" cy="511.9" r="1.25" fill="#111"/>
<circle cx="146.2" cy="515.3" r="1.25" fill="#111"/>
<circle cx="146.2" cy="518.8" r="1.25" fill="#111"/>
<polygon points="146.2,533 146.12,533.59 146.01,534.19 145.89,534.78 145.76,535.37 145.62,535.96 145.48,536.56 145.33,537.15 145.18,537.74 145.02,538.34 144.86,538.93 144.7,539.52 144.54,540.11 144.37,540.71 144.2,541.3 143.1,555.2 143.2,555.5 143.31,555.8 143.42,556.1 143.54,556.4 143.66,556.7 143.79,557 143.93,557.3 144.08,557.6 144.25,557.9 144.44,558.2 144.65,558.5 144.91,558.8 145.25,559.1 146.2,559.4 146.2,559.4 147.15,559.1 147.49,558.8 147.75,558.5 147.96,558.2 148.15,557.9 148.32,557.6 148.47,557.3 148.61,557 148.74,556.7 148.86,556.4 148.98,556.1 149.09,555.8 149.2,555.5 149.3,555.2 148.2,541.3 148.03,540.71 147.86,540.11 147.7,539.52 147.54,538.93 147.38,538.34 147.22,537.74 147.07,537.15 146.92,536.56 146.78,535.96 146.64,535.37 146.51,534.78 146.39,534.19 146.28,533.59 146.2,533" fill="#9b0e29" stroke="#111" stroke-width="0.6" stroke-linejoin="round"/>
<polygon points="146.2,533 146.12,533.59 146.01,534.19 145.89,534.78 145.76,535.37 145.62,535.96 145.48,536.56 145.33,537.15 145.18,537.74 145.02,538.34 144.86,538.93 144.7,539.52 144.54,540.11 144.37,540.71 144.2,541.3 148.2,541.3 148.03,540.71 147.86,540.11 147.7,539.52 147.54,538.93 147.38,538.34 147.22,537.74 147.07,537.15 146.92,536.56 146.78,535.96 146.64,535.37 146.51,534.78 146.39,534.19 146.28,533.59 146.2,533" fill="#600b1c" stroke="#111" stroke-width="0.6" stroke-linejoin="round"/>
<rect x="143.3" y="541.3" width="5.8" height="13.9" fill="#d2102e" stroke="#1c1c1c" stroke-width="0.55"/>
<line x1="143.3" y1="550.8" x2="149.1" y2="550.8" stroke="#1c1c1c" stroke-width="0.8"/>
<line x1="152.4" y1="492.2" x2="152.4" y2="558" stroke="#666" stroke-width="0.95"/>
<polygon points="152.4,492.2 152.29,494.36 152.16,496.53 152.03,498.69 151.9,500.86 151.76,503.02 151.61,505.19 151.47,507.35 151.32,509.51 151.17,511.68 151.02,513.84 150.87,516.01 150.71,518.17 150.56,520.34 150.4,522.5 149.3,554.3 149.4,554.56 149.51,554.83 149.62,555.09 149.74,555.36 149.86,555.62 149.99,555.89 150.13,556.15 150.28,556.41 150.45,556.68 150.64,556.94 150.85,557.21 151.11,557.47 151.45,557.74 152.4,558 152.4,558 153.35,557.74 153.69,557.47 153.95,557.21 154.16,556.94 154.35,556.68 154.52,556.41 154.67,556.15 154.81,555.89 154.94,555.62 155.06,555.36 155.18,555.09 155.29,554.83 155.4,554.56 155.5,554.3 154.4,522.5 154.24,520.34 154.09,518.17 153.93,516.01 153.78,513.84 153.63,511.68 153.48,509.51 153.33,507.35 153.19,505.19 153.04,503.02 152.9,500.86 152.77,498.69 152.64,496.53 152.51,494.36 152.4,492.2" fill="#183d7a" stroke="#111" stroke-width="0.6" stroke-linejoin="round"/>
<polygon points="152.4,492.2 152.29,494.36 152.16,496.53 152.03,498.69 151.9,500.86 151.76,503.02 151.61,505.19 151.47,507.35 151.32,509.51 151.17,511.68 151.02,513.84 150.87,516.01 150.71,518.17 150.56,520.34 150.4,522.5 154.4,522.5 154.24,520.34 154.09,518.17 153.93,516.01 153.78,513.84 153.63,511.68 153.48,509.51 153.33,507.35 153.19,505.19 153.04,503.02 152.9,500.86 152.77,498.69 152.64,496.53 152.51,494.36 152.4,492.2" fill="#132f58" stroke="#111" stroke-width="0.6" stroke-linejoin="round"/>
<rect x="149.5" y="522.5" width="5.8" height="31.8" fill="#1f55a2" stroke="#1c1c1c" stroke-width="0.55"/>
<line x1="149.5" y1="551.7" x2="155.3" y2="551.7" stroke="#1c1c1c" stroke-width="0.8"/>
<line x1="158.6" y1="501.9" x2="158.6" y2="559.5" stroke="#666" stroke-width="0.95"/>
<circle cx="158.6" cy="501.9" r="1.25" fill="#111"/>
<polygon points="158.6,539 158.53,539.6 158.45,540.2 158.35,540.8 158.24,541.4 158.13,542 158.02,542.6 157.9,543.2 157.78,543.8 157.66,544.4 157.53,545 157.4,545.6 157.27,546.2 157.14,546.8 157,547.4 155.5,557 155.6,557.18 155.71,557.36 155.82,557.54 155.94,557.71 156.06,557.89 156.19,558.07 156.33,558.25 156.48,558.43 156.65,558.61 156.84,558.79 157.05,558.96 157.31,559.14 157.65,559.32 158.6,559.5 158.6,559.5 159.55,559.32 159.89,559.14 160.15,558.96 160.36,558.79 160.55,558.61 160.72,558.43 160.87,558.25 161.01,558.07 161.14,557.89 161.26,557.71 161.38,557.54 161.49,557.36 161.6,557.18 161.7,557 160.2,547.4 160.06,546.8 159.93,546.2 159.8,545.6 159.67,545 159.54,544.4 159.42,543.8 159.3,543.2 159.18,542.6 159.07,542 158.96,541.4 158.85,540.8 158.75,540.2 158.67,539.6 158.6,539" fill="#27812f" stroke="#111" stroke-width="0.6" stroke-linejoin="round"/>
<polygon points="158.6,539 158.53,539.6 158.45,540.2 158.35,540.8 158.24,541.4 158.13,542 158.02,542.6 157.9,543.2 157.78,543.8 157.66,544.4 157.53,545 157.4,545.6 157.27,546.2 157.14,546.8 157,547.4 160.2,547.4 160.06,546.8 159.93,546.2 159.8,545.6 159.67,545 159.54,544.4 159.42,543.8 159.3,543.2 159.18,542.6 159.07,542 158.96,541.4 158.85,540.8 158.75,540.2 158.67,539.6 158.6,539" fill="#164d1f" stroke="#111" stroke-width="0.6" stroke-linejoin="round"/>
<rect x="155.7" y="547.4" width="5.8" height="9.6" fill="#3bb244" stroke="#1c1c1c" stroke-width="0.55"/>
<line x1="155.7" y1="554.3" x2="161.5" y2="554.3" stroke="#1c1c1c" stroke-width="0.8"/>
<line x1="158.6" y1="524.4" x2="158.6" y2="524.4" stroke="#666" stroke-width="0.95"/>
<polygon points="158.6,524.4 158.51,524.68 158.41,524.96 158.32,525.24 158.23,525.51 158.14,525.79 158.04,526.07 157.95,526.35 157.86,526.63 157.76,526.91 157.67,527.19 157.58,527.46 157.49,527.74 157.39,528.02 157.3,528.3 157.39,528.58 157.49,528.86 157.58,529.14 157.67,529.41 157.76,529.69 157.86,529.97 157.95,530.25 158.04,530.53 158.14,530.81 158.23,531.09 158.32,531.36 158.41,531.64 158.51,531.92 158.6,532.2 158.6,532.2 158.69,531.92 158.79,531.64 158.88,531.36 158.97,531.09 159.06,530.81 159.16,530.53 159.25,530.25 159.34,529.97 159.44,529.69 159.53,529.41 159.62,529.14 159.71,528.86 159.81,528.58 159.9,528.3 159.81,528.02 159.71,527.74 159.62,527.46 159.53,527.19 159.44,526.91 159.34,526.63 159.25,526.35 159.16,526.07 159.06,525.79 158.97,525.51 158.88,525.24 158.79,524.96 158.69,524.68 158.6,524.4" fill="#164d1f" stroke="#111" stroke-width="0.6" stroke-linejoin="round"/>
<line x1="167.1" y1="472" x2="167.1" y2="562" stroke="#666" stroke-width="0.95"/>
<line x1="167.1" y1="486.7" x2="167.1" y2="542" stroke="#111" stroke-width="1.8"/>
<circle cx="167.1" cy="486.7" r="1.15" fill="#111"/>
<circle cx="167.1" cy="488.64" r="1.15" fill="#111"/>
<circle cx="167.1" cy="490.72" r="1.15" fill="#111"/>
<circle cx="167.1" cy="493.6" r="1.15" fill="#111"/>
<circle cx="167.1" cy="496.23" r="1.15" fill="#111"/>
<circle cx="167.1" cy="497.79" r="1.15" fill="#111"/>
<circle cx="167.1" cy="499.78" r="1.15" fill="#111"/>
<circle cx="167.1" cy="501.91" r="1.15" fill="#111"/>
<circle cx="167.1" cy="503.75" r="1.15" fill="#111"/>
<circle cx="167.1" cy="505.36" r="1.15" fill="#111"/>
<circle cx="167.1" cy="507.17" r="1.15" fill="#111"/>
<circle cx="167.1" cy="509.63" r="1.15" fill="#111"/>
<circle cx="167.1" cy="510.96" r="1.15" fill="#111"/>
<circle cx="167.1" cy="513.14" r="1.15" fill="#111"/>
<circle cx="167.1" cy="515.15" r="1.15" fill="#111"/>
<circle cx="167.1" cy="516.48" r="1.15" fill="#111"/>
<circle cx="167.1" cy="518.31" r="1.15" fill="#111"/>
<circle cx="167.1" cy="520.61" r="1.15" fill="#111"/>
<circle cx="167.1" cy="522.73" r="1.15" fill="#111"/>
<circle cx="167.1" cy="524.13" r="1.15" fill="#111"/>
<circle cx="167.1" cy="527.01" r="1.15" fill="#111"/>
<circle cx="167.1" cy="529.57" r="1.15" fill="#111"/>
<circle cx="167.1" cy="532.42" r="1.15" fill="#111"/>
<circle cx="167.1" cy="533.89" r="1.15" fill="#111"/>
<circle cx="167.1" cy="535.61" r="1.15" fill="#111"/>
<circle cx="167.1" cy="536.98" r="1.15" fill="#111"/>
<circle cx="167.1" cy="539.52" r="1.15" fill="#111"/>
<circle cx="167.1" cy="541.26" r="1.15" fill="#111"/>
<circle cx="167.1" cy="472" r="1.25" fill="#111"/>
<circle cx="167.1" cy="477" r="1.25" fill="#111"/>
<circle cx="167.1" cy="481" r="1.25" fill="#111"/>
<circle cx="167.1" cy="562" r="1.25" fill="#111"/>
<polygon points="167.1,546.4 167.04,546.62 166.93,546.84 166.78,547.06 166.61,547.28 166.42,547.5 166.2,547.72 165.97,547.94 165.72,548.16 165.45,548.38 165.17,548.6 164.87,548.82 164.56,549.04 164.24,549.26 163.9,549.48 163.9,553.5 164.11,553.85 164.31,554.21 164.52,554.57 164.74,554.92 164.95,555.28 165.17,555.64 165.39,556 165.61,556.36 165.83,556.71 166.06,557.07 166.3,557.43 166.54,557.78 166.8,558.14 167.1,558.5 167.1,558.5 167.4,558.14 167.66,557.78 167.9,557.43 168.14,557.07 168.37,556.71 168.59,556.36 168.81,556 169.03,555.64 169.25,555.28 169.46,554.92 169.68,554.57 169.89,554.21 170.09,553.85 170.3,553.5 170.3,549.48 169.96,549.26 169.64,549.04 169.33,548.82 169.03,548.6 168.75,548.38 168.48,548.16 168.23,547.94 168,547.72 167.78,547.5 167.59,547.28 167.42,547.06 167.27,546.84 167.16,546.62 167.1,546.4" fill="#9b0e29" stroke="#111" stroke-width="0.6" stroke-linejoin="round"/>
<rect x="164.5" y="549.48" width="5.2" height="4.01" fill="#b00f2d" stroke="none" stroke-width="0.55"/>
<line x1="164.5" y1="550.8" x2="169.7" y2="550.8" stroke="#1c1c1c" stroke-width="0.8"/>
<line x1="173.3" y1="488.4" x2="173.3" y2="563.7" stroke="#666" stroke-width="0.95"/>
<line x1="173.3" y1="492" x2="173.3" y2="542" stroke="#111" stroke-width="1.8"/>
<circle cx="173.3" cy="492" r="1.15" fill="#111"/>
<circle cx="173.3" cy="493.98" r="1.15" fill="#111"/>
<circle cx="173.3" cy="496.73" r="1.15" fill="#111"/>
<circle cx="173.3" cy="499.34" r="1.15" fill="#111"/>
<circle cx="173.3" cy="501.06" r="1.15" fill="#111"/>
<circle cx="173.3" cy="502.6" r="1.15" fill="#111"/>
<circle cx="173.3" cy="505.37" r="1.15" fill="#111"/>
<circle cx="173.3" cy="507.58" r="1.15" fill="#111"/>
<circle cx="173.3" cy="510" r="1.15" fill="#111"/>
<circle cx="173.3" cy="511.44" r="1.15" fill="#111"/>
<circle cx="173.3" cy="512.84" r="1.15" fill="#111"/>
<circle cx="173.3" cy="515.24" r="1.15" fill="#111"/>
<circle cx="173.3" cy="517.22" r="1.15" fill="#111"/>
<circle cx="173.3" cy="518.63" r="1.15" fill="#111"/>
<circle cx="173.3" cy="521.44" r="1.15" fill="#111"/>
<circle cx="173.3" cy="523.75" r="1.15" fill="#111"/>
<circle cx="173.3" cy="526.33" r="1.15" fill="#111"/>
<circle cx="173.3" cy="527.77" r="1.15" fill="#111"/>
<circle cx="173.3" cy="530.44" r="1.15" fill="#111"/>
<circle cx="173.3" cy="531.84" r="1.15" fill="#111"/>
<circle cx="173.3" cy="534.52" r="1.15" fill="#111"/>
<circle cx="173.3" cy="536.55" r="1.15" fill="#111"/>
<circle cx="173.3" cy="538.39" r="1.15" fill="#111"/>
<circle cx="173.3" cy="540.58" r="1.15" fill="#111"/>
<circle cx="173.3" cy="488.4" r="1.25" fill="#111"/>
<circle cx="173.3" cy="563.7" r="1.25" fill="#111"/>
<polygon points="173.3,549 173.24,549.15 173.13,549.3 172.99,549.45 172.83,549.6 172.64,549.75 172.43,549.9 172.2,550.05 171.96,550.2 171.7,550.35 171.43,550.5 171.14,550.65 170.84,550.8 170.53,550.95 170.2,551.1 170.2,554 170.4,554.26 170.6,554.52 170.8,554.79 171.01,555.05 171.22,555.32 171.43,555.58 171.64,555.85 171.85,556.11 172.07,556.38 172.3,556.64 172.53,556.91 172.76,557.17 173.01,557.44 173.3,557.7 173.3,557.7 173.59,557.44 173.84,557.17 174.07,556.91 174.3,556.64 174.53,556.38 174.75,556.11 174.96,555.85 175.17,555.58 175.38,555.32 175.59,555.05 175.8,554.79 176,554.52 176.2,554.26 176.4,554 176.4,551.1 176.07,550.95 175.76,550.8 175.46,550.65 175.17,550.5 174.9,550.35 174.64,550.2 174.4,550.05 174.17,549.9 173.96,549.75 173.77,549.6 173.61,549.45 173.47,549.3 173.36,549.15 173.3,549" fill="#183d7a" stroke="#111" stroke-width="0.6" stroke-linejoin="round"/>
<rect x="170.7" y="551.1" width="5.2" height="2.89" fill="#1a4482" stroke="none" stroke-width="0.55"/>
<line x1="170.7" y1="552" x2="175.9" y2="552" stroke="#1c1c1c" stroke-width="0.8"/>
<line x1="179.5" y1="466" x2="179.5" y2="562.9" stroke="#666" stroke-width="0.95"/>
<circle cx="179.5" cy="466" r="1.25" fill="#111"/>
<circle cx="179.5" cy="472.9" r="1.25" fill="#111"/>
<circle cx="179.5" cy="491.9" r="1.25" fill="#111"/>
<circle cx="179.5" cy="497" r="1.25" fill="#111"/>
<circle cx="179.5" cy="502.3" r="1.25" fill="#111"/>
<circle cx="179.5" cy="507.5" r="1.25" fill="#111"/>
<circle cx="179.5" cy="511" r="1.25" fill="#111"/>
<circle cx="179.5" cy="514.4" r="1.25" fill="#111"/>
<polygon points="176.2,539.5 176.2,556.8 176.39,557.24 176.58,557.67 176.78,558.11 176.98,558.54 177.18,558.98 177.39,559.41 177.6,559.85 177.82,560.29 178.05,560.72 178.29,561.16 178.54,561.59 178.8,562.03 179.1,562.46 179.5,562.9 179.5,562.9 179.9,562.46 180.2,562.03 180.46,561.59 180.71,561.16 180.95,560.72 181.18,560.29 181.4,559.85 181.61,559.41 181.82,558.98 182.02,558.54 182.22,558.11 182.42,557.67 182.61,557.24 182.8,556.8 182.8,539.5" fill="#2d9937" stroke="#111" stroke-width="0.6" stroke-linejoin="round"/>
<line x1="176.2" y1="553.6" x2="182.8" y2="553.6" stroke="#1c1c1c" stroke-width="0.45" opacity="0.8"/>
<line x1="176.2" y1="551.6" x2="182.8" y2="551.6" stroke="#1c1c1c" stroke-width="0.8"/>
<line x1="188" y1="381.8" x2="188" y2="562" stroke="#666" stroke-width="0.95"/>
<line x1="188" y1="467.7" x2="188" y2="541.2" stroke="#111" stroke-width="1.8"/>
<circle cx="188" cy="467.7" r="1.15" fill="#111"/>
<circle cx="188" cy="469.43" r="1.15" fill="#111"/>
<circle cx="188" cy="470.94" r="1.15" fill="#111"/>
<circle cx="188" cy="473.08" r="1.15" fill="#111"/>
<circle cx="188" cy="474.76" r="1.15" fill="#111"/>
<circle cx="188" cy="476.24" r="1.15" fill="#111"/>
<circle cx="188" cy="477.79" r="1.15" fill="#111"/>
<circle cx="188" cy="479.17" r="1.15" fill="#111"/>
<circle cx="188" cy="480.8" r="1.15" fill="#111"/>
<circle cx="188" cy="482.6" r="1.15" fill="#111"/>
<circle cx="188" cy="484.38" r="1.15" fill="#111"/>
<circle cx="188" cy="486.9" r="1.15" fill="#111"/>
<circle cx="188" cy="488.66" r="1.15" fill="#111"/>
<circle cx="188" cy="490.76" r="1.15" fill="#111"/>
<circle cx="188" cy="492.35" r="1.15" fill="#111"/>
<circle cx="188" cy="494.2" r="1.15" fill="#111"/>
<circle cx="188" cy="495.53" r="1.15" fill="#111"/>
<circle cx="188" cy="497.23" r="1.15" fill="#111"/>
<circle cx="188" cy="498.56" r="1.15" fill="#111"/>
<circle cx="188" cy="501.03" r="1.15" fill="#111"/>
<circle cx="188" cy="503.21" r="1.15" fill="#111"/>
<circle cx="188" cy="504.82" r="1.15" fill="#111"/>
<circle cx="188" cy="506.87" r="1.15" fill="#111"/>
<circle cx="188" cy="509.67" r="1.15" fill="#111"/>
<circle cx="188" cy="511.14" r="1.15" fill="#111"/>
<circle cx="188" cy="513.75" r="1.15" fill="#111"/>
<circle cx="188" cy="515.74" r="1.15" fill="#111"/>
<circle cx="188" cy="517.83" r="1.15" fill="#111"/>
<circle cx="188" cy="520.47" r="1.15" fill="#111"/>
<circle cx="188" cy="522.4" r="1.15" fill="#111"/>
<circle cx="188" cy="524.51" r="1.15" fill="#111"/>
<circle cx="188" cy="526.91" r="1.15" fill="#111"/>
<circle cx="188" cy="529.78" r="1.15" fill="#111"/>
<circle cx="188" cy="531.63" r="1.15" fill="#111"/>
<circle cx="188" cy="534.26" r="1.15" fill="#111"/>
<circle cx="188" cy="536.69" r="1.15" fill="#111"/>
<circle cx="188" cy="539.01" r="1.15" fill="#111"/>
<circle cx="188" cy="540.96" r="1.15" fill="#111"/>
<circle cx="188" cy="381.8" r="1.25" fill="#111"/>
<circle cx="188" cy="412.4" r="1.25" fill="#111"/>
<circle cx="188" cy="426.2" r="1.25" fill="#111"/>
<circle cx="188" cy="429.7" r="1.25" fill="#111"/>
<circle cx="188" cy="434" r="1.25" fill="#111"/>
<circle cx="188" cy="437.5" r="1.25" fill="#111"/>
<circle cx="188" cy="448.7" r="1.25" fill="#111"/>
<circle cx="188" cy="453.8" r="1.25" fill="#111"/>
<circle cx="188" cy="457.3" r="1.25" fill="#111"/>
<circle cx="188" cy="462.5" r="1.25" fill="#111"/>
<circle cx="188" cy="562" r="1.25" fill="#111"/>
<polygon points="188,547.3 187.94,547.53 187.83,547.77 187.68,548 187.51,548.24 187.32,548.48 187.1,548.71 186.87,548.94 186.62,549.18 186.35,549.41 186.07,549.65 185.77,549.88 185.46,550.12 185.14,550.36 184.8,550.59 184.8,554.27 185.01,554.58 185.21,554.88 185.42,555.18 185.64,555.48 185.85,555.78 186.07,556.09 186.29,556.39 186.51,556.69 186.73,556.99 186.96,557.29 187.2,557.59 187.44,557.9 187.7,558.2 188,558.5 188,558.5 188.3,558.2 188.56,557.9 188.8,557.59 189.04,557.29 189.27,556.99 189.49,556.69 189.71,556.39 189.93,556.09 190.15,555.78 190.36,555.48 190.58,555.18 190.79,554.88 190.99,554.58 191.2,554.27 191.2,550.59 190.86,550.36 190.54,550.12 190.23,549.88 189.93,549.65 189.65,549.41 189.38,549.18 189.13,548.94 188.9,548.71 188.68,548.48 188.49,548.24 188.32,548 188.17,547.77 188.06,547.53 188,547.3" fill="#9b0e29" stroke="#111" stroke-width="0.6" stroke-linejoin="round"/>
<rect x="185.4" y="550.59" width="5.2" height="3.68" fill="#b00f2d" stroke="none" stroke-width="0.55"/>
<line x1="185.4" y1="552" x2="190.6" y2="552" stroke="#1c1c1c" stroke-width="0.8"/>
<line x1="194.2" y1="417" x2="194.2" y2="567.2" stroke="#666" stroke-width="0.95"/>
<line x1="194.2" y1="469.4" x2="194.2" y2="541" stroke="#111" stroke-width="1.8"/>
<circle cx="194.2" cy="469.4" r="1.15" fill="#111"/>
<circle cx="194.2" cy="470.79" r="1.15" fill="#111"/>
<circle cx="194.2" cy="472.29" r="1.15" fill="#111"/>
<circle cx="194.2" cy="473.71" r="1.15" fill="#111"/>
<circle cx="194.2" cy="476.19" r="1.15" fill="#111"/>
<circle cx="194.2" cy="477.9" r="1.15" fill="#111"/>
<circle cx="194.2" cy="479.46" r="1.15" fill="#111"/>
<circle cx="194.2" cy="480.9" r="1.15" fill="#111"/>
<circle cx="194.2" cy="483.54" r="1.15" fill="#111"/>
<circle cx="194.2" cy="486.24" r="1.15" fill="#111"/>
<circle cx="194.2" cy="488.61" r="1.15" fill="#111"/>
<circle cx="194.2" cy="490.36" r="1.15" fill="#111"/>
<circle cx="194.2" cy="492.05" r="1.15" fill="#111"/>
<circle cx="194.2" cy="493.82" r="1.15" fill="#111"/>
<circle cx="194.2" cy="495.85" r="1.15" fill="#111"/>
<circle cx="194.2" cy="497.41" r="1.15" fill="#111"/>
<circle cx="194.2" cy="499.42" r="1.15" fill="#111"/>
<circle cx="194.2" cy="501.14" r="1.15" fill="#111"/>
<circle cx="194.2" cy="503.98" r="1.15" fill="#111"/>
<circle cx="194.2" cy="506.83" r="1.15" fill="#111"/>
<circle cx="194.2" cy="509.01" r="1.15" fill="#111"/>
<circle cx="194.2" cy="510.7" r="1.15" fill="#111"/>
<circle cx="194.2" cy="513.55" r="1.15" fill="#111"/>
<circle cx="194.2" cy="515.34" r="1.15" fill="#111"/>
<circle cx="194.2" cy="517.21" r="1.15" fill="#111"/>
<circle cx="194.2" cy="518.51" r="1.15" fill="#111"/>
<circle cx="194.2" cy="520.42" r="1.15" fill="#111"/>
<circle cx="194.2" cy="522.48" r="1.15" fill="#111"/>
<circle cx="194.2" cy="524.59" r="1.15" fill="#111"/>
<circle cx="194.2" cy="526.21" r="1.15" fill="#111"/>
<circle cx="194.2" cy="528.32" r="1.15" fill="#111"/>
<circle cx="194.2" cy="529.63" r="1.15" fill="#111"/>
<circle cx="194.2" cy="531.35" r="1.15" fill="#111"/>
<circle cx="194.2" cy="532.79" r="1.15" fill="#111"/>
<circle cx="194.2" cy="534.73" r="1.15" fill="#111"/>
<circle cx="194.2" cy="536.1" r="1.15" fill="#111"/>
<circle cx="194.2" cy="537.43" r="1.15" fill="#111"/>
<circle cx="194.2" cy="539.22" r="1.15" fill="#111"/>
<circle cx="194.2" cy="540.89" r="1.15" fill="#111"/>
<circle cx="194.2" cy="417" r="1.25" fill="#111"/>
<circle cx="194.2" cy="421" r="1.25" fill="#111"/>
<circle cx="194.2" cy="447" r="1.25" fill="#111"/>
<circle cx="194.2" cy="452" r="1.25" fill="#111"/>
<circle cx="194.2" cy="458" r="1.25" fill="#111"/>
<circle cx="194.2" cy="563.7" r="1.25" fill="#111"/>
<circle cx="194.2" cy="567.2" r="1.25" fill="#111"/>
<polygon points="194.2,547.3 194.14,547.53 194.03,547.77 193.89,548 193.73,548.24 193.54,548.48 193.33,548.71 193.1,548.94 192.86,549.18 192.6,549.41 192.33,549.65 192.04,549.88 191.74,550.12 191.43,550.36 191.1,550.59 191.1,554.27 191.3,554.58 191.5,554.88 191.7,555.18 191.91,555.48 192.12,555.78 192.33,556.09 192.54,556.39 192.75,556.69 192.97,556.99 193.2,557.29 193.43,557.59 193.66,557.9 193.91,558.2 194.2,558.5 194.2,558.5 194.49,558.2 194.74,557.9 194.97,557.59 195.2,557.29 195.43,556.99 195.65,556.69 195.86,556.39 196.07,556.09 196.28,555.78 196.49,555.48 196.7,555.18 196.9,554.88 197.1,554.58 197.3,554.27 197.3,550.59 196.97,550.36 196.66,550.12 196.36,549.88 196.07,549.65 195.8,549.41 195.54,549.18 195.3,548.94 195.07,548.71 194.86,548.48 194.67,548.24 194.51,548 194.37,547.77 194.26,547.53 194.2,547.3" fill="#183d7a" stroke="#111" stroke-width="0.6" stroke-linejoin="round"/>
<rect x="191.6" y="550.59" width="5.2" height="3.68" fill="#1a4482" stroke="none" stroke-width="0.55"/>
<line x1="191.6" y1="552" x2="196.8" y2="552" stroke="#1c1c1c" stroke-width="0.8"/>
<line x1="200.4" y1="372.6" x2="200.4" y2="562.9" stroke="#666" stroke-width="0.95"/>
<line x1="200.4" y1="478" x2="200.4" y2="541" stroke="#111" stroke-width="1.8"/>
<circle cx="200.4" cy="478" r="1.15" fill="#111"/>
<circle cx="200.4" cy="480.15" r="1.15" fill="#111"/>
<circle cx="200.4" cy="482.65" r="1.15" fill="#111"/>
<circle cx="200.4" cy="485" r="1.15" fill="#111"/>
<circle cx="200.4" cy="487.45" r="1.15" fill="#111"/>
<circle cx="200.4" cy="490.15" r="1.15" fill="#111"/>
<circle cx="200.4" cy="492.07" r="1.15" fill="#111"/>
<circle cx="200.4" cy="493.9" r="1.15" fill="#111"/>
<circle cx="200.4" cy="496.77" r="1.15" fill="#111"/>
<circle cx="200.4" cy="498.31" r="1.15" fill="#111"/>
<circle cx="200.4" cy="500.77" r="1.15" fill="#111"/>
<circle cx="200.4" cy="503.1" r="1.15" fill="#111"/>
<circle cx="200.4" cy="504.47" r="1.15" fill="#111"/>
<circle cx="200.4" cy="507.11" r="1.15" fill="#111"/>
<circle cx="200.4" cy="509.83" r="1.15" fill="#111"/>
<circle cx="200.4" cy="512.14" r="1.15" fill="#111"/>
<circle cx="200.4" cy="514.61" r="1.15" fill="#111"/>
<circle cx="200.4" cy="517.21" r="1.15" fill="#111"/>
<circle cx="200.4" cy="518.73" r="1.15" fill="#111"/>
<circle cx="200.4" cy="520.87" r="1.15" fill="#111"/>
<circle cx="200.4" cy="522.98" r="1.15" fill="#111"/>
<circle cx="200.4" cy="525.61" r="1.15" fill="#111"/>
<circle cx="200.4" cy="528.2" r="1.15" fill="#111"/>
<circle cx="200.4" cy="530.82" r="1.15" fill="#111"/>
<circle cx="200.4" cy="533.06" r="1.15" fill="#111"/>
<circle cx="200.4" cy="535.79" r="1.15" fill="#111"/>
<circle cx="200.4" cy="538.18" r="1.15" fill="#111"/>
<circle cx="200.4" cy="540.59" r="1.15" fill="#111"/>
<circle cx="200.4" cy="372.6" r="1.25" fill="#111"/>
<circle cx="200.4" cy="379" r="1.25" fill="#111"/>
<circle cx="200.4" cy="412.4" r="1.25" fill="#111"/>
<circle cx="200.4" cy="437.5" r="1.25" fill="#111"/>
<circle cx="200.4" cy="444.4" r="1.25" fill="#111"/>
<circle cx="200.4" cy="449.6" r="1.25" fill="#111"/>
<circle cx="200.4" cy="454.8" r="1.25" fill="#111"/>
<circle cx="200.4" cy="460" r="1.25" fill="#111"/>
<circle cx="200.4" cy="466" r="1.25" fill="#111"/>
<circle cx="200.4" cy="472" r="1.25" fill="#111"/>
<circle cx="200.4" cy="562.9" r="1.25" fill="#111"/>
<polygon points="200.4,548.2 200.34,548.44 200.23,548.68 200.08,548.92 199.91,549.16 199.72,549.4 199.5,549.64 199.27,549.88 199.02,550.12 198.75,550.36 198.47,550.6 198.17,550.84 197.86,551.08 197.54,551.32 197.2,551.56 197.2,555.24 197.41,555.54 197.61,555.83 197.82,556.13 198.04,556.43 198.25,556.73 198.47,557.02 198.69,557.32 198.91,557.62 199.13,557.91 199.36,558.21 199.6,558.51 199.84,558.81 200.1,559.1 200.4,559.4 200.4,559.4 200.7,559.1 200.96,558.81 201.2,558.51 201.44,558.21 201.67,557.91 201.89,557.62 202.11,557.32 202.33,557.02 202.55,556.73 202.76,556.43 202.98,556.13 203.19,555.83 203.39,555.54 203.6,555.24 203.6,551.56 203.26,551.32 202.94,551.08 202.63,550.84 202.33,550.6 202.05,550.36 201.78,550.12 201.53,549.88 201.3,549.64 201.08,549.4 200.89,549.16 200.72,548.92 200.57,548.68 200.46,548.44 200.4,548.2" fill="#27812f" stroke="#111" stroke-width="0.6" stroke-linejoin="round"/>
<rect x="197.8" y="551.56" width="5.2" height="3.68" fill="#2d9937" stroke="none" stroke-width="0.55"/>
<line x1="197.8" y1="553" x2="203" y2="553" stroke="#1c1c1c" stroke-width="0.8"/>
<line x1="208.9" y1="392.8" x2="208.9" y2="559.4" stroke="#666" stroke-width="0.95"/>
<line x1="208.9" y1="495.4" x2="208.9" y2="537" stroke="#111" stroke-width="1.8"/>
<circle cx="208.9" cy="495.4" r="1.15" fill="#111"/>
<circle cx="208.9" cy="496.75" r="1.15" fill="#111"/>
<circle cx="208.9" cy="498.26" r="1.15" fill="#111"/>
<circle cx="208.9" cy="500.14" r="1.15" fill="#111"/>
<circle cx="208.9" cy="501.61" r="1.15" fill="#111"/>
<circle cx="208.9" cy="504.25" r="1.15" fill="#111"/>
<circle cx="208.9" cy="506.44" r="1.15" fill="#111"/>
<circle cx="208.9" cy="508.74" r="1.15" fill="#111"/>
<circle cx="208.9" cy="511.05" r="1.15" fill="#111"/>
<circle cx="208.9" cy="513.43" r="1.15" fill="#111"/>
<circle cx="208.9" cy="515.52" r="1.15" fill="#111"/>
<circle cx="208.9" cy="516.82" r="1.15" fill="#111"/>
<circle cx="208.9" cy="519.4" r="1.15" fill="#111"/>
<circle cx="208.9" cy="521.9" r="1.15" fill="#111"/>
<circle cx="208.9" cy="524" r="1.15" fill="#111"/>
<circle cx="208.9" cy="526.16" r="1.15" fill="#111"/>
<circle cx="208.9" cy="528.51" r="1.15" fill="#111"/>
<circle cx="208.9" cy="529.92" r="1.15" fill="#111"/>
<circle cx="208.9" cy="532.4" r="1.15" fill="#111"/>
<circle cx="208.9" cy="534.1" r="1.15" fill="#111"/>
<circle cx="208.9" cy="535.52" r="1.15" fill="#111"/>
<circle cx="208.9" cy="392.8" r="1.25" fill="#111"/>
<circle cx="208.9" cy="420.2" r="1.25" fill="#111"/>
<circle cx="208.9" cy="472.9" r="1.25" fill="#111"/>
<circle cx="208.9" cy="478" r="1.25" fill="#111"/>
<circle cx="208.9" cy="481.5" r="1.25" fill="#111"/>
<circle cx="208.9" cy="559.4" r="1.25" fill="#111"/>
<polygon points="208.9,545.6 208.84,545.82 208.73,546.04 208.58,546.26 208.41,546.48 208.22,546.7 208,546.92 207.77,547.14 207.52,547.36 207.25,547.58 206.97,547.8 206.67,548.02 206.36,548.24 206.04,548.46 205.7,548.68 205.7,552.1 205.91,552.38 206.11,552.66 206.32,552.94 206.54,553.21 206.75,553.49 206.97,553.77 207.19,554.05 207.41,554.33 207.63,554.61 207.86,554.89 208.1,555.16 208.34,555.44 208.6,555.72 208.9,556 208.9,556 209.2,555.72 209.46,555.44 209.7,555.16 209.94,554.89 210.17,554.61 210.39,554.33 210.61,554.05 210.83,553.77 211.05,553.49 211.26,553.21 211.48,552.94 211.69,552.66 211.89,552.38 212.1,552.1 212.1,548.68 211.76,548.46 211.44,548.24 211.13,548.02 210.83,547.8 210.55,547.58 210.28,547.36 210.03,547.14 209.8,546.92 209.58,546.7 209.39,546.48 209.22,546.26 209.07,546.04 208.96,545.82 208.9,545.6" fill="#9b0e29" stroke="#111" stroke-width="0.6" stroke-linejoin="round"/>
<rect x="206.3" y="548.68" width="5.2" height="3.42" fill="#b00f2d" stroke="none" stroke-width="0.55"/>
<line x1="206.3" y1="550" x2="211.5" y2="550" stroke="#1c1c1c" stroke-width="0.8"/>
<line x1="215.1" y1="450.7" x2="215.1" y2="556.8" stroke="#666" stroke-width="0.95"/>
<line x1="215.1" y1="491.9" x2="215.1" y2="502.3" stroke="#111" stroke-width="1.8"/>
<line x1="215.1" y1="516.1" x2="215.1" y2="531.7" stroke="#111" stroke-width="1.8"/>
<circle cx="215.1" cy="491.9" r="1.15" fill="#111"/>
<circle cx="215.1" cy="494.37" r="1.15" fill="#111"/>
<circle cx="215.1" cy="496" r="1.15" fill="#111"/>
<circle cx="215.1" cy="498.48" r="1.15" fill="#111"/>
<circle cx="215.1" cy="501.34" r="1.15" fill="#111"/>
<circle cx="215.1" cy="516.1" r="1.15" fill="#111"/>
<circle cx="215.1" cy="518.01" r="1.15" fill="#111"/>
<circle cx="215.1" cy="520.08" r="1.15" fill="#111"/>
<circle cx="215.1" cy="522.47" r="1.15" fill="#111"/>
<circle cx="215.1" cy="525" r="1.15" fill="#111"/>
<circle cx="215.1" cy="527.29" r="1.15" fill="#111"/>
<circle cx="215.1" cy="529.62" r="1.15" fill="#111"/>
<circle cx="215.1" cy="531.04" r="1.15" fill="#111"/>
<circle cx="215.1" cy="450.7" r="1.25" fill="#111"/>
<circle cx="215.1" cy="458.2" r="1.25" fill="#111"/>
<circle cx="215.1" cy="465.1" r="1.25" fill="#111"/>
<circle cx="215.1" cy="469.4" r="1.25" fill="#111"/>
<circle cx="215.1" cy="479.8" r="1.25" fill="#111"/>
<circle cx="215.1" cy="485.8" r="1.25" fill="#111"/>
<circle cx="215.1" cy="509.2" r="1.25" fill="#111"/>
<polygon points="215.1,544.7 215.04,544.97 214.93,545.23 214.79,545.5 214.63,545.76 214.44,546.02 214.23,546.29 214,546.56 213.76,546.82 213.5,547.09 213.23,547.35 212.94,547.62 212.64,547.88 212.33,548.14 212,548.41 212,552.38 212.2,552.7 212.4,553.01 212.6,553.33 212.81,553.64 213.02,553.96 213.23,554.27 213.44,554.59 213.65,554.91 213.87,555.22 214.1,555.54 214.33,555.85 214.56,556.17 214.81,556.48 215.1,556.8 215.1,556.8 215.39,556.48 215.64,556.17 215.87,555.85 216.1,555.54 216.33,555.22 216.55,554.91 216.76,554.59 216.97,554.27 217.18,553.96 217.39,553.64 217.6,553.33 217.8,553.01 218,552.7 218.2,552.38 218.2,548.41 217.87,548.14 217.56,547.88 217.26,547.62 216.97,547.35 216.7,547.09 216.44,546.82 216.2,546.56 215.97,546.29 215.76,546.02 215.57,545.76 215.41,545.5 215.27,545.23 215.16,544.97 215.1,544.7" fill="#183d7a" stroke="#111" stroke-width="0.6" stroke-linejoin="round"/>
<rect x="212.5" y="548.41" width="5.2" height="3.97" fill="#1a4482" stroke="none" stroke-width="0.55"/>
<line x1="212.5" y1="550" x2="217.7" y2="550" stroke="#1c1c1c" stroke-width="0.8"/>
<line x1="221.3" y1="439.2" x2="221.3" y2="566.3" stroke="#666" stroke-width="0.95"/>
<line x1="221.3" y1="497" x2="221.3" y2="540.3" stroke="#111" stroke-width="1.8"/>
<circle cx="221.3" cy="497" r="1.15" fill="#111"/>
<circle cx="221.3" cy="498.71" r="1.15" fill="#111"/>
<circle cx="221.3" cy="501.2" r="1.15" fill="#111"/>
<circle cx="221.3" cy="502.98" r="1.15" fill="#111"/>
<circle cx="221.3" cy="505.19" r="1.15" fill="#111"/>
<circle cx="221.3" cy="506.51" r="1.15" fill="#111"/>
<circle cx="221.3" cy="507.91" r="1.15" fill="#111"/>
<circle cx="221.3" cy="509.64" r="1.15" fill="#111"/>
<circle cx="221.3" cy="512.01" r="1.15" fill="#111"/>
<circle cx="221.3" cy="514.42" r="1.15" fill="#111"/>
<circle cx="221.3" cy="516.8" r="1.15" fill="#111"/>
<circle cx="221.3" cy="518.57" r="1.15" fill="#111"/>
<circle cx="221.3" cy="520.69" r="1.15" fill="#111"/>
<circle cx="221.3" cy="522.74" r="1.15" fill="#111"/>
<circle cx="221.3" cy="524.78" r="1.15" fill="#111"/>
<circle cx="221.3" cy="526.27" r="1.15" fill="#111"/>
<circle cx="221.3" cy="529" r="1.15" fill="#111"/>
<circle cx="221.3" cy="530.62" r="1.15" fill="#111"/>
<circle cx="221.3" cy="533.49" r="1.15" fill="#111"/>
<circle cx="221.3" cy="536.28" r="1.15" fill="#111"/>
<circle cx="221.3" cy="537.61" r="1.15" fill="#111"/>
<circle cx="221.3" cy="539.65" r="1.15" fill="#111"/>
<circle cx="221.3" cy="439.2" r="1.25" fill="#111"/>
<circle cx="221.3" cy="445.8" r="1.25" fill="#111"/>
<circle cx="221.3" cy="462.5" r="1.25" fill="#111"/>
<circle cx="221.3" cy="474.6" r="1.25" fill="#111"/>
<circle cx="221.3" cy="491.9" r="1.25" fill="#111"/>
<circle cx="221.3" cy="561" r="1.25" fill="#111"/>
<circle cx="221.3" cy="563.7" r="1.25" fill="#111"/>
<circle cx="221.3" cy="566.3" r="1.25" fill="#111"/>
<polygon points="221.3,545.6 221.24,545.87 221.13,546.14 220.98,546.41 220.81,546.68 220.62,546.95 220.4,547.22 220.17,547.49 219.92,547.76 219.65,548.03 219.37,548.3 219.07,548.57 218.76,548.84 218.44,549.11 218.1,549.38 218.1,553.35 218.31,553.66 218.51,553.97 218.72,554.28 218.94,554.59 219.15,554.9 219.37,555.21 219.59,555.52 219.81,555.83 220.03,556.14 220.26,556.46 220.5,556.77 220.74,557.08 221,557.39 221.3,557.7 221.3,557.7 221.6,557.39 221.86,557.08 222.1,556.77 222.34,556.46 222.57,556.14 222.79,555.83 223.01,555.52 223.23,555.21 223.45,554.9 223.66,554.59 223.88,554.28 224.09,553.97 224.29,553.66 224.5,553.35 224.5,549.38 224.16,549.11 223.84,548.84 223.53,548.57 223.23,548.3 222.95,548.03 222.68,547.76 222.43,547.49 222.2,547.22 221.98,546.95 221.79,546.68 221.62,546.41 221.47,546.14 221.36,545.87 221.3,545.6" fill="#27812f" stroke="#111" stroke-width="0.6" stroke-linejoin="round"/>
<rect x="218.7" y="549.38" width="5.2" height="3.97" fill="#2d9937" stroke="none" stroke-width="0.55"/>
<line x1="218.7" y1="551" x2="223.9" y2="551" stroke="#1c1c1c" stroke-width="0.8"/>
<line x1="229.8" y1="485.3" x2="229.8" y2="562" stroke="#666" stroke-width="0.95"/>
<line x1="229.8" y1="490.2" x2="229.8" y2="542" stroke="#111" stroke-width="1.8"/>
<circle cx="229.8" cy="490.2" r="1.15" fill="#111"/>
<circle cx="229.8" cy="493.05" r="1.15" fill="#111"/>
<circle cx="229.8" cy="495.07" r="1.15" fill="#111"/>
<circle cx="229.8" cy="496.8" r="1.15" fill="#111"/>
<circle cx="229.8" cy="498.43" r="1.15" fill="#111"/>
<circle cx="229.8" cy="501.25" r="1.15" fill="#111"/>
<circle cx="229.8" cy="502.88" r="1.15" fill="#111"/>
<circle cx="229.8" cy="505.11" r="1.15" fill="#111"/>
<circle cx="229.8" cy="506.64" r="1.15" fill="#111"/>
<circle cx="229.8" cy="508.78" r="1.15" fill="#111"/>
<circle cx="229.8" cy="511.6" r="1.15" fill="#111"/>
<circle cx="229.8" cy="513.12" r="1.15" fill="#111"/>
<circle cx="229.8" cy="515.73" r="1.15" fill="#111"/>
<circle cx="229.8" cy="517.84" r="1.15" fill="#111"/>
<circle cx="229.8" cy="520.56" r="1.15" fill="#111"/>
<circle cx="229.8" cy="522.99" r="1.15" fill="#111"/>
<circle cx="229.8" cy="524.66" r="1.15" fill="#111"/>
<circle cx="229.8" cy="527.39" r="1.15" fill="#111"/>
<circle cx="229.8" cy="529.47" r="1.15" fill="#111"/>
<circle cx="229.8" cy="530.81" r="1.15" fill="#111"/>
<circle cx="229.8" cy="532.12" r="1.15" fill="#111"/>
<circle cx="229.8" cy="534.2" r="1.15" fill="#111"/>
<circle cx="229.8" cy="536.22" r="1.15" fill="#111"/>
<circle cx="229.8" cy="538.01" r="1.15" fill="#111"/>
<circle cx="229.8" cy="539.53" r="1.15" fill="#111"/>
<circle cx="229.8" cy="541.38" r="1.15" fill="#111"/>
<circle cx="229.8" cy="485.3" r="1.25" fill="#111"/>
<circle cx="229.8" cy="562" r="1.25" fill="#111"/>
<polygon points="229.8,546.4 229.74,546.63 229.63,546.86 229.48,547.09 229.31,547.32 229.12,547.55 228.9,547.78 228.67,548.01 228.42,548.24 228.15,548.47 227.87,548.7 227.57,548.93 227.26,549.16 226.94,549.39 226.6,549.62 226.6,553.35 226.81,553.66 227.01,553.97 227.22,554.28 227.44,554.59 227.65,554.9 227.87,555.21 228.09,555.52 228.31,555.83 228.53,556.14 228.76,556.46 229,556.77 229.24,557.08 229.5,557.39 229.8,557.7 229.8,557.7 230.1,557.39 230.36,557.08 230.6,556.77 230.84,556.46 231.07,556.14 231.29,555.83 231.51,555.52 231.73,555.21 231.95,554.9 232.16,554.59 232.38,554.28 232.59,553.97 232.79,553.66 233,553.35 233,549.62 232.66,549.39 232.34,549.16 232.03,548.93 231.73,548.7 231.45,548.47 231.18,548.24 230.93,548.01 230.7,547.78 230.48,547.55 230.29,547.32 230.12,547.09 229.97,546.86 229.86,546.63 229.8,546.4" fill="#9b0e29" stroke="#111" stroke-width="0.6" stroke-linejoin="round"/>
<rect x="227.2" y="549.62" width="5.2" height="3.73" fill="#b00f2d" stroke="none" stroke-width="0.55"/>
<line x1="227.2" y1="551" x2="232.4" y2="551" stroke="#1c1c1c" stroke-width="0.8"/>
<line x1="236" y1="489.3" x2="236" y2="559.4" stroke="#666" stroke-width="0.95"/>
<line x1="236" y1="493.6" x2="236" y2="542" stroke="#111" stroke-width="1.8"/>
<circle cx="236" cy="493.6" r="1.15" fill="#111"/>
<circle cx="236" cy="496.24" r="1.15" fill="#111"/>
<circle cx="236" cy="497.55" r="1.15" fill="#111"/>
<circle cx="236" cy="500.05" r="1.15" fill="#111"/>
<circle cx="236" cy="502.69" r="1.15" fill="#111"/>
<circle cx="236" cy="504.18" r="1.15" fill="#111"/>
<circle cx="236" cy="506.97" r="1.15" fill="#111"/>
<circle cx="236" cy="509.41" r="1.15" fill="#111"/>
<circle cx="236" cy="512.15" r="1.15" fill="#111"/>
<circle cx="236" cy="513.91" r="1.15" fill="#111"/>
<circle cx="236" cy="515.81" r="1.15" fill="#111"/>
<circle cx="236" cy="517.74" r="1.15" fill="#111"/>
<circle cx="236" cy="520.63" r="1.15" fill="#111"/>
<circle cx="236" cy="522.88" r="1.15" fill="#111"/>
<circle cx="236" cy="524.75" r="1.15" fill="#111"/>
<circle cx="236" cy="526.74" r="1.15" fill="#111"/>
<circle cx="236" cy="528.48" r="1.15" fill="#111"/>
<circle cx="236" cy="529.86" r="1.15" fill="#111"/>
<circle cx="236" cy="531.32" r="1.15" fill="#111"/>
<circle cx="236" cy="533.95" r="1.15" fill="#111"/>
<circle cx="236" cy="535.71" r="1.15" fill="#111"/>
<circle cx="236" cy="538.51" r="1.15" fill="#111"/>
<circle cx="236" cy="540.21" r="1.15" fill="#111"/>
<circle cx="236" cy="541.93" r="1.15" fill="#111"/>
<circle cx="236" cy="489.3" r="1.25" fill="#111"/>
<circle cx="236" cy="559.4" r="1.25" fill="#111"/>
<polygon points="236,546.4 235.94,546.61 235.83,546.81 235.69,547.01 235.53,547.22 235.34,547.42 235.13,547.63 234.9,547.84 234.66,548.04 234.4,548.25 234.13,548.45 233.84,548.65 233.54,548.86 233.23,549.06 232.9,549.27 232.9,552.42 233.1,552.68 233.3,552.94 233.5,553.19 233.71,553.45 233.92,553.7 234.13,553.96 234.34,554.21 234.55,554.47 234.77,554.72 235,554.98 235.23,555.23 235.46,555.49 235.71,555.74 236,556 236,556 236.29,555.74 236.54,555.49 236.77,555.23 237,554.98 237.23,554.72 237.45,554.47 237.66,554.21 237.87,553.96 238.08,553.7 238.29,553.45 238.5,553.19 238.7,552.94 238.9,552.68 239.1,552.42 239.1,549.27 238.77,549.06 238.46,548.86 238.16,548.65 237.87,548.45 237.6,548.25 237.34,548.04 237.1,547.84 236.87,547.63 236.66,547.42 236.47,547.22 236.31,547.01 236.17,546.81 236.06,546.61 236,546.4" fill="#183d7a" stroke="#111" stroke-width="0.6" stroke-linejoin="round"/>
<rect x="233.4" y="549.27" width="5.2" height="3.15" fill="#1a4482" stroke="none" stroke-width="0.55"/>
<line x1="233.4" y1="550.5" x2="238.6" y2="550.5" stroke="#1c1c1c" stroke-width="0.8"/>
<line x1="242.2" y1="485.8" x2="242.2" y2="562.9" stroke="#666" stroke-width="0.95"/>
<line x1="242.2" y1="490.2" x2="242.2" y2="542" stroke="#111" stroke-width="1.8"/>
<circle cx="242.2" cy="490.2" r="1.15" fill="#111"/>
<circle cx="242.2" cy="491.8" r="1.15" fill="#111"/>
<circle cx="242.2" cy="493.7" r="1.15" fill="#111"/>
<circle cx="242.2" cy="496.53" r="1.15" fill="#111"/>
<circle cx="242.2" cy="499.25" r="1.15" fill="#111"/>
<circle cx="242.2" cy="501.84" r="1.15" fill="#111"/>
<circle cx="242.2" cy="504.15" r="1.15" fill="#111"/>
<circle cx="242.2" cy="506.92" r="1.15" fill="#111"/>
<circle cx="242.2" cy="509.72" r="1.15" fill="#111"/>
<circle cx="242.2" cy="511.9" r="1.15" fill="#111"/>
<circle cx="242.2" cy="514.35" r="1.15" fill="#111"/>
<circle cx="242.2" cy="515.73" r="1.15" fill="#111"/>
<circle cx="242.2" cy="518.2" r="1.15" fill="#111"/>
<circle cx="242.2" cy="520.22" r="1.15" fill="#111"/>
<circle cx="242.2" cy="522.73" r="1.15" fill="#111"/>
<circle cx="242.2" cy="525.06" r="1.15" fill="#111"/>
<circle cx="242.2" cy="526.82" r="1.15" fill="#111"/>
<circle cx="242.2" cy="528.2" r="1.15" fill="#111"/>
<circle cx="242.2" cy="530.98" r="1.15" fill="#111"/>
<circle cx="242.2" cy="532.48" r="1.15" fill="#111"/>
<circle cx="242.2" cy="534.54" r="1.15" fill="#111"/>
<circle cx="242.2" cy="536.39" r="1.15" fill="#111"/>
<circle cx="242.2" cy="538.16" r="1.15" fill="#111"/>
<circle cx="242.2" cy="540.65" r="1.15" fill="#111"/>
<circle cx="242.2" cy="485.8" r="1.25" fill="#111"/>
<circle cx="242.2" cy="562.9" r="1.25" fill="#111"/>
<polygon points="242.2,545.6 242.14,545.87 242.03,546.14 241.88,546.41 241.71,546.68 241.52,546.95 241.3,547.22 241.07,547.49 240.82,547.76 240.55,548.03 240.27,548.3 239.97,548.57 239.66,548.84 239.34,549.11 239,549.38 239,553.35 239.21,553.66 239.41,553.97 239.62,554.28 239.84,554.59 240.05,554.9 240.27,555.21 240.49,555.52 240.71,555.83 240.93,556.14 241.16,556.46 241.4,556.77 241.64,557.08 241.9,557.39 242.2,557.7 242.2,557.7 242.5,557.39 242.76,557.08 243,556.77 243.24,556.46 243.47,556.14 243.69,555.83 243.91,555.52 244.13,555.21 244.35,554.9 244.56,554.59 244.78,554.28 244.99,553.97 245.19,553.66 245.4,553.35 245.4,549.38 245.06,549.11 244.74,548.84 244.43,548.57 244.13,548.3 243.85,548.03 243.58,547.76 243.33,547.49 243.1,547.22 242.88,546.95 242.69,546.68 242.52,546.41 242.37,546.14 242.26,545.87 242.2,545.6" fill="#27812f" stroke="#111" stroke-width="0.6" stroke-linejoin="round"/>
<rect x="239.6" y="549.38" width="5.2" height="3.97" fill="#2d9937" stroke="none" stroke-width="0.55"/>
<line x1="239.6" y1="551" x2="244.8" y2="551" stroke="#1c1c1c" stroke-width="0.8"/>
<line x1="312.3" y1="474.4" x2="312.3" y2="557.9" stroke="#666" stroke-width="0.95"/>
<polygon points="310.1,474.4 310.1,475.81 310.1,477.21 310.1,478.62 310.1,480.03 310.1,481.44 310.09,482.84 310.08,484.25 310.07,485.66 310.03,487.06 309.97,488.47 309.86,489.88 309.7,491.29 309.46,492.69 309.1,494.1 309.1,557.9 315.5,557.9 315.5,494.1 315.14,492.69 314.9,491.29 314.74,489.88 314.63,488.47 314.57,487.06 314.53,485.66 314.52,484.25 314.51,482.84 314.5,481.44 314.5,480.03 314.5,478.62 314.5,477.21 314.5,475.81 314.5,474.4" fill="#d2102e" stroke="#111" stroke-width="0.6" stroke-linejoin="round"/>
<rect x="309.4" y="494.1" width="5.8" height="63.8" fill="#d2102e" stroke="#1c1c1c" stroke-width="0.55"/>
<line x1="309.1" y1="552.7" x2="315.5" y2="552.7" stroke="#1c1c1c" stroke-width="0.45" opacity="0.8"/>
<line x1="309.4" y1="528.4" x2="315.2" y2="528.4" stroke="#1c1c1c" stroke-width="0.8"/>
<line x1="318.6" y1="459.5" x2="318.6" y2="557" stroke="#666" stroke-width="0.95"/>
<polygon points="317.7,459.5 317.63,462.01 317.57,464.53 317.53,467.04 317.48,469.56 317.44,472.07 317.4,474.59 317.36,477.1 317.32,479.61 317.28,482.13 317.24,484.64 317.21,487.16 317.17,489.67 317.13,492.19 317.1,494.7 315.5,557 321.7,557 320.1,494.7 320.07,492.19 320.03,489.67 319.99,487.16 319.96,484.64 319.92,482.13 319.88,479.61 319.84,477.1 319.8,474.59 319.76,472.07 319.72,469.56 319.67,467.04 319.63,464.53 319.57,462.01 319.5,459.5" fill="#183d7a" stroke="#111" stroke-width="0.6" stroke-linejoin="round"/>
<polygon points="317.7,459.5 317.63,462.01 317.57,464.53 317.53,467.04 317.48,469.56 317.44,472.07 317.4,474.59 317.36,477.1 317.32,479.61 317.28,482.13 317.24,484.64 317.21,487.16 317.17,489.67 317.13,492.19 317.1,494.7 320.1,494.7 320.07,492.19 320.03,489.67 319.99,487.16 319.96,484.64 319.92,482.13 319.88,479.61 319.84,477.1 319.8,474.59 319.76,472.07 319.72,469.56 319.67,467.04 319.63,464.53 319.57,462.01 319.5,459.5" fill="#132f58" stroke="#111" stroke-width="0.6" stroke-linejoin="round"/>
<rect x="315.7" y="494.7" width="5.8" height="62.3" fill="#1f55a2" stroke="#1c1c1c" stroke-width="0.55"/>
<line x1="315.5" y1="553.5" x2="321.7" y2="553.5" stroke="#1c1c1c" stroke-width="0.45" opacity="0.8"/>
<line x1="315.7" y1="550.1" x2="321.5" y2="550.1" stroke="#1c1c1c" stroke-width="0.8"/>
<line x1="324.8" y1="389.4" x2="324.8" y2="564.8" stroke="#666" stroke-width="0.95"/>
<circle cx="324.8" cy="389.4" r="1.25" fill="#111"/>
<polygon points="324.8,500 324.79,500.55 324.78,501.1 324.75,501.65 324.72,502.2 324.67,502.75 324.62,503.3 324.55,503.85 324.47,504.4 324.39,504.95 324.29,505.5 324.18,506.05 324.07,506.6 323.94,507.15 323.8,507.7 321.6,564.8 328,564.8 325.8,507.7 325.66,507.15 325.53,506.6 325.42,506.05 325.31,505.5 325.21,504.95 325.13,504.4 325.05,503.85 324.98,503.3 324.93,502.75 324.88,502.2 324.85,501.65 324.82,501.1 324.81,500.55 324.8,500" fill="#27812f" stroke="#111" stroke-width="0.6" stroke-linejoin="round"/>
<rect x="321.6" y="507.7" width="6.4" height="57.1" fill="#3bb244" stroke="#1c1c1c" stroke-width="0.55"/>
<line x1="321.6" y1="557" x2="328" y2="557" stroke="#1c1c1c" stroke-width="0.45" opacity="0.8"/>
<line x1="321.6" y1="553.5" x2="328" y2="553.5" stroke="#1c1c1c" stroke-width="0.8"/>
<line x1="333.2" y1="526" x2="333.2" y2="550.4" stroke="#666" stroke-width="0.95"/>
<polygon points="331.1,526 332.4,536.6 330.1,536.61 330.1,550.4 336.3,550.4 336.3,536.61 334,536.6 335.3,526" fill="#d2102e" stroke="#111" stroke-width="0.6" stroke-linejoin="round"/>
<line x1="330.1" y1="543.5" x2="336.3" y2="543.5" stroke="#1c1c1c" stroke-width="0.8"/>
<line x1="339.5" y1="372.5" x2="339.5" y2="558.9" stroke="#666" stroke-width="0.95"/>
<circle cx="339.5" cy="372.5" r="1.25" fill="#111"/>
<circle cx="339.5" cy="438.7" r="1.25" fill="#111"/>
<circle cx="339.5" cy="452.6" r="1.25" fill="#111"/>
<circle cx="339.5" cy="455.2" r="1.25" fill="#111"/>
<circle cx="339.5" cy="460" r="1.25" fill="#111"/>
<circle cx="339.5" cy="463.8" r="1.25" fill="#111"/>
<circle cx="339.5" cy="466.5" r="1.25" fill="#111"/>
<circle cx="339.5" cy="474" r="1.25" fill="#111"/>
<circle cx="339.5" cy="479.3" r="1.25" fill="#111"/>
<circle cx="339.5" cy="490" r="1.25" fill="#111"/>
<circle cx="339.5" cy="496.3" r="1.25" fill="#111"/>
<circle cx="339.5" cy="499.4" r="1.25" fill="#111"/>
<polygon points="339.5,544 339.44,544.26 339.34,544.53 339.21,544.79 339.06,545.06 338.88,545.32 338.69,545.59 338.47,545.86 338.25,546.12 338.01,546.38 337.75,546.65 337.48,546.91 337.2,547.18 336.91,547.44 336.6,547.71 336.6,552.66 336.79,553.11 336.98,553.55 337.17,554 337.36,554.44 337.55,554.89 337.75,555.33 337.95,555.78 338.15,556.23 338.35,556.67 338.56,557.12 338.78,557.56 339,558.01 339.23,558.45 339.5,558.9 339.5,558.9 339.77,558.45 340,558.01 340.22,557.56 340.44,557.12 340.65,556.67 340.85,556.23 341.05,555.78 341.25,555.33 341.45,554.89 341.64,554.44 341.83,554 342.02,553.55 342.21,553.11 342.4,552.66 342.4,547.71 342.09,547.44 341.8,547.18 341.52,546.91 341.25,546.65 340.99,546.38 340.75,546.12 340.53,545.86 340.31,545.59 340.12,545.32 339.94,545.06 339.79,544.79 339.66,544.53 339.56,544.26 339.5,544" fill="#183d7a" stroke="#111" stroke-width="0.6" stroke-linejoin="round"/>
<rect x="336.9" y="547.71" width="5.2" height="4.95" fill="#1a4482" stroke="none" stroke-width="0.55"/>
<line x1="336.9" y1="549.3" x2="342.1" y2="549.3" stroke="#1c1c1c" stroke-width="0.8"/>
<line x1="345.7" y1="409.8" x2="345.7" y2="566.5" stroke="#666" stroke-width="0.95"/>
<circle cx="345.7" cy="409.8" r="1.25" fill="#111"/>
<polygon points="345.7,448 345.65,452.01 345.59,456.03 345.51,460.04 345.43,464.06 345.33,468.07 345.23,472.09 345.13,476.1 345.02,480.11 344.91,484.13 344.8,488.14 344.68,492.16 344.55,496.17 344.43,500.19 344.3,504.2 342.5,566.5 348.9,566.5 347.1,504.2 346.97,500.19 346.85,496.17 346.72,492.16 346.6,488.14 346.49,484.13 346.38,480.11 346.27,476.1 346.17,472.09 346.07,468.07 345.97,464.06 345.89,460.04 345.81,456.03 345.75,452.01 345.7,448" fill="#27812f" stroke="#111" stroke-width="0.6" stroke-linejoin="round"/>
<polygon points="345.7,448 345.65,452.01 345.59,456.03 345.51,460.04 345.43,464.06 345.33,468.07 345.23,472.09 345.13,476.1 345.02,480.11 344.91,484.13 344.8,488.14 344.68,492.16 344.55,496.17 344.43,500.19 344.3,504.2 347.1,504.2 346.97,500.19 346.85,496.17 346.72,492.16 346.6,488.14 346.49,484.13 346.38,480.11 346.27,476.1 346.17,472.09 346.07,468.07 345.97,464.06 345.89,460.04 345.81,456.03 345.75,452.01 345.7,448" fill="#164d1f" stroke="#111" stroke-width="0.6" stroke-linejoin="round"/>
<rect x="342.5" y="504.2" width="6.4" height="62.3" fill="#3bb244" stroke="#1c1c1c" stroke-width="0.55"/>
<line x1="342.5" y1="554.4" x2="348.9" y2="554.4" stroke="#1c1c1c" stroke-width="0.45" opacity="0.8"/>
<line x1="342.5" y1="549.2" x2="348.9" y2="549.2" stroke="#1c1c1c" stroke-width="0.8"/>
<line x1="354.1" y1="395.5" x2="354.1" y2="562.2" stroke="#666" stroke-width="0.95"/>
<circle cx="354.1" cy="395.5" r="1.25" fill="#111"/>
<polygon points="354.1,397 354.05,404.47 353.96,411.94 353.83,419.41 353.67,426.89 353.48,434.36 353.28,441.83 353.04,449.3 352.79,456.77 352.52,464.24 352.23,471.71 351.92,479.19 351.6,486.66 351.26,494.13 350.9,501.6 350.9,562.2 357.3,562.2 357.3,501.6 356.94,494.13 356.6,486.66 356.28,479.19 355.97,471.71 355.68,464.24 355.41,456.77 355.16,449.3 354.92,441.83 354.72,434.36 354.53,426.89 354.37,419.41 354.24,411.94 354.15,404.47 354.1,397" fill="#d2102e" stroke="#111" stroke-width="0.6" stroke-linejoin="round"/>
<rect x="351.2" y="501.6" width="5.8" height="60.6" fill="#d2102e" stroke="#1c1c1c" stroke-width="0.55"/>
<line x1="351.2" y1="513.7" x2="357" y2="513.7" stroke="#1c1c1c" stroke-width="0.8"/>
<line x1="360.4" y1="410.7" x2="360.4" y2="557.6" stroke="#666" stroke-width="0.95"/>
<circle cx="360.4" cy="410.7" r="1.25" fill="#111"/>
<circle cx="360.4" cy="426.6" r="1.25" fill="#111"/>
<circle cx="360.4" cy="445.6" r="1.25" fill="#111"/>
<circle cx="360.4" cy="451.7" r="1.25" fill="#111"/>
<circle cx="360.4" cy="454.3" r="1.25" fill="#111"/>
<circle cx="360.4" cy="460" r="1.25" fill="#111"/>
<circle cx="360.4" cy="465.9" r="1.25" fill="#111"/>
<circle cx="360.4" cy="472" r="1.25" fill="#111"/>
<circle cx="360.4" cy="480" r="1.25" fill="#111"/>
<circle cx="360.4" cy="490" r="1.25" fill="#111"/>
<circle cx="360.4" cy="500" r="1.25" fill="#111"/>
<circle cx="360.4" cy="508" r="1.25" fill="#111"/>
<circle cx="360.4" cy="518" r="1.25" fill="#111"/>
<circle cx="360.4" cy="528" r="1.25" fill="#111"/>
<polygon points="360.4,547.3 360.34,547.53 360.24,547.77 360.11,548 359.96,548.24 359.78,548.48 359.59,548.71 359.37,548.94 359.15,549.18 358.91,549.41 358.65,549.65 358.38,549.88 358.1,550.12 357.81,550.36 357.5,550.59 357.5,553.96 357.69,554.22 357.88,554.48 358.07,554.74 358.26,555 358.45,555.26 358.65,555.52 358.85,555.78 359.05,556.04 359.25,556.3 359.46,556.56 359.68,556.82 359.9,557.08 360.13,557.34 360.4,557.6 360.4,557.6 360.67,557.34 360.9,557.08 361.12,556.82 361.34,556.56 361.55,556.3 361.75,556.04 361.95,555.78 362.15,555.52 362.35,555.26 362.54,555 362.73,554.74 362.92,554.48 363.11,554.22 363.3,553.96 363.3,550.59 362.99,550.36 362.7,550.12 362.42,549.88 362.15,549.65 361.89,549.41 361.65,549.18 361.43,548.94 361.21,548.71 361.02,548.48 360.84,548.24 360.69,548 360.56,547.77 360.46,547.53 360.4,547.3" fill="#183d7a" stroke="#111" stroke-width="0.6" stroke-linejoin="round"/>
<rect x="357.8" y="550.59" width="5.2" height="3.37" fill="#1a4482" stroke="none" stroke-width="0.55"/>
<line x1="357.8" y1="552" x2="363" y2="552" stroke="#1c1c1c" stroke-width="0.8"/>
<line x1="366.6" y1="402.9" x2="366.6" y2="563" stroke="#666" stroke-width="0.95"/>
<circle cx="366.6" cy="402.9" r="1.25" fill="#111"/>
<polygon points="366.6,442 366.55,445.83 366.49,449.66 366.41,453.49 366.33,457.31 366.23,461.14 366.13,464.97 366.03,468.8 365.92,472.63 365.81,476.46 365.7,480.29 365.58,484.11 365.45,487.94 365.33,491.77 365.2,495.6 363.4,563 369.8,563 368,495.6 367.87,491.77 367.75,487.94 367.62,484.11 367.5,480.29 367.39,476.46 367.28,472.63 367.17,468.8 367.07,464.97 366.97,461.14 366.87,457.31 366.79,453.49 366.71,449.66 366.65,445.83 366.6,442" fill="#27812f" stroke="#111" stroke-width="0.6" stroke-linejoin="round"/>
<polygon points="366.6,442 366.55,445.83 366.49,449.66 366.41,453.49 366.33,457.31 366.23,461.14 366.13,464.97 366.03,468.8 365.92,472.63 365.81,476.46 365.7,480.29 365.58,484.11 365.45,487.94 365.33,491.77 365.2,495.6 368,495.6 367.87,491.77 367.75,487.94 367.62,484.11 367.5,480.29 367.39,476.46 367.28,472.63 367.17,468.8 367.07,464.97 366.97,461.14 366.87,457.31 366.79,453.49 366.71,449.66 366.65,445.83 366.6,442" fill="#164d1f" stroke="#111" stroke-width="0.6" stroke-linejoin="round"/>
<rect x="363.4" y="495.6" width="6.4" height="67.4" fill="#3bb244" stroke="#1c1c1c" stroke-width="0.55"/>
<line x1="363.4" y1="552.7" x2="369.8" y2="552.7" stroke="#1c1c1c" stroke-width="0.45" opacity="0.8"/>
<line x1="363.4" y1="550" x2="369.8" y2="550" stroke="#1c1c1c" stroke-width="0.8"/>
<line x1="375" y1="395" x2="375" y2="561.3" stroke="#666" stroke-width="0.95"/>
<circle cx="375" cy="395" r="1.25" fill="#111"/>
<circle cx="375" cy="421" r="1.25" fill="#111"/>
<circle cx="375" cy="436.6" r="1.25" fill="#111"/>
<circle cx="375" cy="446.5" r="1.25" fill="#111"/>
<circle cx="375" cy="483.3" r="1.25" fill="#111"/>
<circle cx="375" cy="486.13" r="1.25" fill="#111"/>
<circle cx="375" cy="490.23" r="1.25" fill="#111"/>
<circle cx="375" cy="493.19" r="1.25" fill="#111"/>
<circle cx="375" cy="496.98" r="1.25" fill="#111"/>
<circle cx="375" cy="500.24" r="1.25" fill="#111"/>
<circle cx="375" cy="502.78" r="1.25" fill="#111"/>
<circle cx="375" cy="505.29" r="1.25" fill="#111"/>
<circle cx="375" cy="507.96" r="1.25" fill="#111"/>
<polygon points="375,545.7 374.94,545.97 374.83,546.23 374.68,546.5 374.51,546.76 374.32,547.02 374.1,547.29 373.87,547.56 373.62,547.82 373.35,548.09 373.07,548.35 372.77,548.62 372.46,548.88 372.14,549.14 371.8,549.41 371.8,554.61 372.01,555.08 372.21,555.56 372.42,556.04 372.64,556.52 372.85,557 373.07,557.47 373.29,557.95 373.51,558.43 373.73,558.91 373.96,559.39 374.2,559.87 374.44,560.34 374.7,560.82 375,561.3 375,561.3 375.3,560.82 375.56,560.34 375.8,559.87 376.04,559.39 376.27,558.91 376.49,558.43 376.71,557.95 376.93,557.47 377.15,557 377.36,556.52 377.58,556.04 377.79,555.56 377.99,555.08 378.2,554.61 378.2,549.41 377.86,549.14 377.54,548.88 377.23,548.62 376.93,548.35 376.65,548.09 376.38,547.82 376.13,547.56 375.9,547.29 375.68,547.02 375.49,546.76 375.32,546.5 375.17,546.23 375.06,545.97 375,545.7" fill="#9b0e29" stroke="#111" stroke-width="0.6" stroke-linejoin="round"/>
<rect x="372.4" y="549.41" width="5.2" height="5.2" fill="#b00f2d" stroke="none" stroke-width="0.55"/>
<line x1="372.4" y1="551" x2="377.6" y2="551" stroke="#1c1c1c" stroke-width="0.8"/>
<line x1="381.3" y1="376.2" x2="381.3" y2="561.9" stroke="#666" stroke-width="0.95"/>
<circle cx="381.3" cy="376.2" r="1.25" fill="#111"/>
<circle cx="381.3" cy="398.3" r="1.25" fill="#111"/>
<circle cx="381.3" cy="411" r="1.25" fill="#111"/>
<circle cx="381.3" cy="426.7" r="1.25" fill="#111"/>
<circle cx="381.3" cy="430.9" r="1.25" fill="#111"/>
<circle cx="381.3" cy="438" r="1.25" fill="#111"/>
<circle cx="381.3" cy="443.7" r="1.25" fill="#111"/>
<circle cx="381.3" cy="449.3" r="1.25" fill="#111"/>
<circle cx="381.3" cy="455" r="1.25" fill="#111"/>
<circle cx="381.3" cy="561.9" r="1.25" fill="#111"/>
<circle cx="381.3" cy="460.7" r="1.25" fill="#111"/>
<circle cx="381.3" cy="463.54" r="1.25" fill="#111"/>
<circle cx="381.3" cy="465.75" r="1.25" fill="#111"/>
<circle cx="381.3" cy="469.53" r="1.25" fill="#111"/>
<circle cx="381.3" cy="473.53" r="1.25" fill="#111"/>
<circle cx="381.3" cy="476.26" r="1.25" fill="#111"/>
<circle cx="381.3" cy="478.28" r="1.25" fill="#111"/>
<circle cx="381.3" cy="480.42" r="1.25" fill="#111"/>
<circle cx="381.3" cy="482.33" r="1.25" fill="#111"/>
<circle cx="381.3" cy="484.82" r="1.25" fill="#111"/>
<circle cx="381.3" cy="486.73" r="1.25" fill="#111"/>
<circle cx="381.3" cy="488.98" r="1.25" fill="#111"/>
<circle cx="381.3" cy="491.27" r="1.25" fill="#111"/>
<circle cx="381.3" cy="494.28" r="1.25" fill="#111"/>
<circle cx="381.3" cy="498.02" r="1.25" fill="#111"/>
<circle cx="381.3" cy="501.45" r="1.25" fill="#111"/>
<circle cx="381.3" cy="504.1" r="1.25" fill="#111"/>
<circle cx="381.3" cy="506.75" r="1.25" fill="#111"/>
<circle cx="381.3" cy="509.65" r="1.25" fill="#111"/>
<polygon points="381.3,545.8 381.24,546.06 381.14,546.32 381,546.58 380.84,546.84 380.66,547.1 380.46,547.36 380.24,547.62 380,547.88 379.75,548.14 379.49,548.4 379.21,548.66 378.92,548.92 378.62,549.18 378.3,549.44 378.3,553.8 378.49,554.17 378.69,554.54 378.89,554.91 379.08,555.29 379.28,555.66 379.49,556.03 379.69,556.4 379.9,556.77 380.11,557.14 380.33,557.51 380.55,557.89 380.78,558.26 381.02,558.63 381.3,559 381.3,559 381.58,558.63 381.82,558.26 382.05,557.89 382.27,557.51 382.49,557.14 382.7,556.77 382.91,556.4 383.11,556.03 383.32,555.66 383.52,555.29 383.71,554.91 383.91,554.54 384.11,554.17 384.3,553.8 384.3,549.44 383.98,549.18 383.68,548.92 383.39,548.66 383.11,548.4 382.85,548.14 382.6,547.88 382.36,547.62 382.14,547.36 381.94,547.1 381.76,546.84 381.6,546.58 381.46,546.32 381.36,546.06 381.3,545.8" fill="#183d7a" stroke="#111" stroke-width="0.6" stroke-linejoin="round"/>
<rect x="378.7" y="549.44" width="5.2" height="4.36" fill="#1a4482" stroke="none" stroke-width="0.55"/>
<line x1="378.7" y1="551" x2="383.9" y2="551" stroke="#1c1c1c" stroke-width="0.8"/>
<line x1="387.5" y1="387" x2="387.5" y2="563.9" stroke="#666" stroke-width="0.95"/>
<line x1="387.5" y1="422.4" x2="387.5" y2="432.3" stroke="#111" stroke-width="1.8"/>
<circle cx="387.5" cy="422.4" r="1.15" fill="#111"/>
<circle cx="387.5" cy="424.24" r="1.15" fill="#111"/>
<circle cx="387.5" cy="425.64" r="1.15" fill="#111"/>
<circle cx="387.5" cy="427.38" r="1.15" fill="#111"/>
<circle cx="387.5" cy="430.23" r="1.15" fill="#111"/>
<circle cx="387.5" cy="431.73" r="1.15" fill="#111"/>
<circle cx="387.5" cy="387" r="1.25" fill="#111"/>
<circle cx="387.5" cy="391.2" r="1.25" fill="#111"/>
<circle cx="387.5" cy="399.7" r="1.25" fill="#111"/>
<circle cx="387.5" cy="438" r="1.25" fill="#111"/>
<polygon points="387.5,506 387.47,506.24 387.44,506.49 387.39,506.73 387.34,506.97 387.29,507.21 387.23,507.46 387.18,507.7 387.11,507.94 387.05,508.19 386.98,508.43 386.92,508.67 386.85,508.91 386.77,509.16 386.7,509.4 384.3,563.9 390.7,563.9 388.3,509.4 388.23,509.16 388.15,508.91 388.08,508.67 388.02,508.43 387.95,508.19 387.89,507.94 387.82,507.7 387.77,507.46 387.71,507.21 387.66,506.97 387.61,506.73 387.56,506.49 387.53,506.24 387.5,506" fill="#27812f" stroke="#111" stroke-width="0.6" stroke-linejoin="round"/>
<polygon points="387.5,506 387.47,506.24 387.44,506.49 387.39,506.73 387.34,506.97 387.29,507.21 387.23,507.46 387.18,507.7 387.11,507.94 387.05,508.19 386.98,508.43 386.92,508.67 386.85,508.91 386.77,509.16 386.7,509.4 388.3,509.4 388.23,509.16 388.15,508.91 388.08,508.67 388.02,508.43 387.95,508.19 387.89,507.94 387.82,507.7 387.77,507.46 387.71,507.21 387.66,506.97 387.61,506.73 387.56,506.49 387.53,506.24 387.5,506" fill="#164d1f" stroke="#111" stroke-width="0.6" stroke-linejoin="round"/>
<rect x="384.3" y="509.4" width="6.4" height="54.5" fill="#3bb244" stroke="#1c1c1c" stroke-width="0.55"/>
<line x1="384.3" y1="553.5" x2="390.7" y2="553.5" stroke="#1c1c1c" stroke-width="0.45" opacity="0.8"/>
<line x1="384.3" y1="551" x2="390.7" y2="551" stroke="#1c1c1c" stroke-width="0.8"/>
<line x1="395.9" y1="411" x2="395.9" y2="554.3" stroke="#666" stroke-width="0.95"/>
<circle cx="395.9" cy="411" r="1.25" fill="#111"/>
<polygon points="395.9,544.9 395.84,545.13 395.73,545.36 395.58,545.59 395.41,545.82 395.22,546.05 395,546.28 394.77,546.51 394.52,546.74 394.25,546.97 393.97,547.2 393.67,547.43 393.36,547.66 393.04,547.89 392.7,548.12 392.7,551.18 392.91,551.4 393.11,551.63 393.32,551.85 393.54,552.07 393.75,552.29 393.97,552.52 394.19,552.74 394.41,552.96 394.63,553.19 394.86,553.41 395.1,553.63 395.34,553.85 395.6,554.08 395.9,554.3 395.9,554.3 396.2,554.08 396.46,553.85 396.7,553.63 396.94,553.41 397.17,553.19 397.39,552.96 397.61,552.74 397.83,552.52 398.05,552.29 398.26,552.07 398.48,551.85 398.69,551.63 398.89,551.4 399.1,551.18 399.1,548.12 398.76,547.89 398.44,547.66 398.13,547.43 397.83,547.2 397.55,546.97 397.28,546.74 397.03,546.51 396.8,546.28 396.58,546.05 396.39,545.82 396.22,545.59 396.07,545.36 395.96,545.13 395.9,544.9" fill="#9b0e29" stroke="#111" stroke-width="0.6" stroke-linejoin="round"/>
<rect x="393.3" y="548.12" width="5.2" height="3.06" fill="#b00f2d" stroke="none" stroke-width="0.55"/>
<line x1="393.3" y1="549.5" x2="398.5" y2="549.5" stroke="#1c1c1c" stroke-width="0.8"/>
<line x1="402.2" y1="416.7" x2="402.2" y2="562.8" stroke="#666" stroke-width="0.95"/>
<circle cx="402.2" cy="416.7" r="1.25" fill="#111"/>
<circle cx="402.2" cy="450.7" r="1.25" fill="#111"/>
<circle cx="402.2" cy="455" r="1.25" fill="#111"/>
<circle cx="402.2" cy="511.6" r="1.25" fill="#111"/>
<circle cx="402.2" cy="525.8" r="1.25" fill="#111"/>
<circle cx="402.2" cy="562.8" r="1.25" fill="#111"/>
<circle cx="402.2" cy="467.7" r="1.25" fill="#111"/>
<circle cx="402.2" cy="471.71" r="1.25" fill="#111"/>
<circle cx="402.2" cy="476.48" r="1.25" fill="#111"/>
<circle cx="402.2" cy="479.17" r="1.25" fill="#111"/>
<circle cx="402.2" cy="482.03" r="1.25" fill="#111"/>
<circle cx="402.2" cy="484.83" r="1.25" fill="#111"/>
<circle cx="402.2" cy="488.11" r="1.25" fill="#111"/>
<circle cx="402.2" cy="491.54" r="1.25" fill="#111"/>
<circle cx="402.2" cy="496.59" r="1.25" fill="#111"/>
<polygon points="402.2,547.7 402.14,547.97 402.04,548.23 401.9,548.5 401.74,548.76 401.56,549.02 401.36,549.29 401.14,549.56 400.9,549.82 400.65,550.09 400.39,550.35 400.11,550.62 399.82,550.88 399.52,551.14 399.2,551.41 399.2,555.1 399.39,555.38 399.59,555.66 399.79,555.94 399.98,556.21 400.18,556.49 400.39,556.77 400.59,557.05 400.8,557.33 401.01,557.61 401.23,557.89 401.45,558.16 401.68,558.44 401.92,558.72 402.2,559 402.2,559 402.48,558.72 402.72,558.44 402.95,558.16 403.17,557.89 403.39,557.61 403.6,557.33 403.81,557.05 404.01,556.77 404.22,556.49 404.42,556.21 404.61,555.94 404.81,555.66 405.01,555.38 405.2,555.1 405.2,551.41 404.88,551.14 404.58,550.88 404.29,550.62 404.01,550.35 403.75,550.09 403.5,549.82 403.26,549.56 403.04,549.29 402.84,549.02 402.66,548.76 402.5,548.5 402.36,548.23 402.26,547.97 402.2,547.7" fill="#183d7a" stroke="#111" stroke-width="0.6" stroke-linejoin="round"/>
<rect x="399.6" y="551.41" width="5.2" height="3.69" fill="#1a4482" stroke="none" stroke-width="0.55"/>
<line x1="399.6" y1="553" x2="404.8" y2="553" stroke="#1c1c1c" stroke-width="0.8"/>
<line x1="408.4" y1="456.4" x2="408.4" y2="561.9" stroke="#666" stroke-width="0.95"/>
<circle cx="408.4" cy="456.4" r="1.25" fill="#111"/>
<circle cx="408.4" cy="504.6" r="1.25" fill="#111"/>
<circle cx="408.4" cy="524.4" r="1.25" fill="#111"/>
<circle cx="408.4" cy="460.7" r="1.25" fill="#111"/>
<circle cx="408.4" cy="465.49" r="1.25" fill="#111"/>
<circle cx="408.4" cy="467.56" r="1.25" fill="#111"/>
<circle cx="408.4" cy="469.67" r="1.25" fill="#111"/>
<circle cx="408.4" cy="473.94" r="1.25" fill="#111"/>
<circle cx="408.4" cy="478.8" r="1.25" fill="#111"/>
<circle cx="408.4" cy="482.32" r="1.25" fill="#111"/>
<circle cx="408.4" cy="486.2" r="1.25" fill="#111"/>
<circle cx="408.4" cy="488.2" r="1.25" fill="#111"/>
<circle cx="408.4" cy="491.45" r="1.25" fill="#111"/>
<polygon points="408.4,545.8 408.34,546.06 408.23,546.32 408.09,546.58 407.93,546.84 407.74,547.1 407.53,547.36 407.3,547.62 407.06,547.88 406.8,548.14 406.53,548.4 406.24,548.66 405.94,548.92 405.63,549.18 405.3,549.44 405.3,554.81 405.5,555.32 405.7,555.83 405.9,556.33 406.11,556.84 406.32,557.35 406.53,557.85 406.74,558.36 406.95,558.86 407.17,559.37 407.4,559.88 407.63,560.38 407.86,560.89 408.11,561.39 408.4,561.9 408.4,561.9 408.69,561.39 408.94,560.89 409.17,560.38 409.4,559.88 409.63,559.37 409.85,558.86 410.06,558.36 410.27,557.85 410.48,557.35 410.69,556.84 410.9,556.33 411.1,555.83 411.3,555.32 411.5,554.81 411.5,549.44 411.17,549.18 410.86,548.92 410.56,548.66 410.27,548.4 410,548.14 409.74,547.88 409.5,547.62 409.27,547.36 409.06,547.1 408.87,546.84 408.71,546.58 408.57,546.32 408.46,546.06 408.4,545.8" fill="#27812f" stroke="#111" stroke-width="0.6" stroke-linejoin="round"/>
<rect x="405.8" y="549.44" width="5.2" height="5.38" fill="#2d9937" stroke="none" stroke-width="0.55"/>
<line x1="405.8" y1="551" x2="411" y2="551" stroke="#1c1c1c" stroke-width="0.8"/>
<line x1="416.8" y1="498.9" x2="416.8" y2="558.1" stroke="#666" stroke-width="0.95"/>
<circle cx="416.8" cy="498.9" r="1.25" fill="#111"/>
<circle cx="416.8" cy="501.7" r="1.25" fill="#111"/>
<circle cx="416.8" cy="505" r="1.25" fill="#111"/>
<circle cx="416.8" cy="558.1" r="1.25" fill="#111"/>
<polygon points="416.8,549.6 416.74,549.75 416.63,549.89 416.48,550.03 416.31,550.18 416.12,550.33 415.9,550.47 415.67,550.62 415.42,550.76 415.15,550.9 414.87,551.05 414.57,551.2 414.26,551.34 413.94,551.49 413.6,551.63 413.6,553.48 413.81,553.61 414.01,553.74 414.22,553.87 414.44,554 414.65,554.13 414.87,554.26 415.09,554.39 415.31,554.52 415.53,554.65 415.76,554.78 416,554.91 416.24,555.04 416.5,555.17 416.8,555.3 416.8,555.3 417.1,555.17 417.36,555.04 417.6,554.91 417.84,554.78 418.07,554.65 418.29,554.52 418.51,554.39 418.73,554.26 418.95,554.13 419.16,554 419.38,553.87 419.59,553.74 419.79,553.61 420,553.48 420,551.63 419.66,551.49 419.34,551.34 419.03,551.2 418.73,551.05 418.45,550.9 418.18,550.76 417.93,550.62 417.7,550.47 417.48,550.33 417.29,550.18 417.12,550.03 416.97,549.89 416.86,549.75 416.8,549.6" fill="#9b0e29" stroke="#111" stroke-width="0.6" stroke-linejoin="round"/>
<rect x="414.2" y="551.63" width="5.2" height="1.85" fill="#b00f2d" stroke="none" stroke-width="0.55"/>
<line x1="414.2" y1="552.5" x2="419.4" y2="552.5" stroke="#1c1c1c" stroke-width="0.8"/>
<line x1="423.1" y1="430.9" x2="423.1" y2="556.2" stroke="#666" stroke-width="0.95"/>
<circle cx="423.1" cy="430.9" r="1.25" fill="#111"/>
<circle cx="423.1" cy="464.9" r="1.25" fill="#111"/>
<circle cx="423.1" cy="468.5" r="1.25" fill="#111"/>
<circle cx="423.1" cy="500.3" r="1.25" fill="#111"/>
<circle cx="423.1" cy="474.8" r="1.25" fill="#111"/>
<circle cx="423.1" cy="479.44" r="1.25" fill="#111"/>
<circle cx="423.1" cy="484.18" r="1.25" fill="#111"/>
<circle cx="423.1" cy="489.29" r="1.25" fill="#111"/>
<circle cx="423.1" cy="492.09" r="1.25" fill="#111"/>
<circle cx="423.1" cy="494.43" r="1.25" fill="#111"/>
<polygon points="423.1,546.8 423.04,547.03 422.94,547.27 422.8,547.5 422.64,547.74 422.46,547.98 422.26,548.21 422.04,548.44 421.8,548.68 421.55,548.91 421.29,549.15 421.01,549.38 420.72,549.62 420.42,549.86 420.1,550.09 420.1,553.14 420.29,553.36 420.49,553.58 420.69,553.8 420.88,554.02 421.08,554.24 421.29,554.45 421.49,554.67 421.7,554.89 421.91,555.11 422.13,555.33 422.35,555.55 422.58,555.76 422.82,555.98 423.1,556.2 423.1,556.2 423.38,555.98 423.62,555.76 423.85,555.55 424.07,555.33 424.29,555.11 424.5,554.89 424.71,554.67 424.91,554.45 425.12,554.24 425.32,554.02 425.51,553.8 425.71,553.58 425.91,553.36 426.1,553.14 426.1,550.09 425.78,549.86 425.48,549.62 425.19,549.38 424.91,549.15 424.65,548.91 424.4,548.68 424.16,548.44 423.94,548.21 423.74,547.98 423.56,547.74 423.4,547.5 423.26,547.27 423.16,547.03 423.1,546.8" fill="#183d7a" stroke="#111" stroke-width="0.6" stroke-linejoin="round"/>
<rect x="420.5" y="550.09" width="5.2" height="3.05" fill="#1a4482" stroke="none" stroke-width="0.55"/>
<line x1="420.5" y1="551.5" x2="425.7" y2="551.5" stroke="#1c1c1c" stroke-width="0.8"/>
<line x1="429.3" y1="460" x2="429.3" y2="556.2" stroke="#666" stroke-width="0.95"/>
<circle cx="429.3" cy="460" r="1.25" fill="#111"/>
<circle cx="429.3" cy="483.3" r="1.25" fill="#111"/>
<polygon points="429.3,546.8 429.24,547.03 429.14,547.27 429,547.5 428.84,547.74 428.66,547.98 428.46,548.21 428.24,548.44 428,548.68 427.75,548.91 427.49,549.15 427.21,549.38 426.92,549.62 426.62,549.86 426.3,550.09 426.3,553.14 426.49,553.36 426.69,553.58 426.89,553.8 427.08,554.02 427.28,554.24 427.49,554.45 427.69,554.67 427.9,554.89 428.11,555.11 428.33,555.33 428.55,555.55 428.78,555.76 429.02,555.98 429.3,556.2 429.3,556.2 429.58,555.98 429.82,555.76 430.05,555.55 430.27,555.33 430.49,555.11 430.7,554.89 430.91,554.67 431.11,554.45 431.32,554.24 431.52,554.02 431.71,553.8 431.91,553.58 432.11,553.36 432.3,553.14 432.3,550.09 431.98,549.86 431.68,549.62 431.39,549.38 431.11,549.15 430.85,548.91 430.6,548.68 430.36,548.44 430.14,548.21 429.94,547.98 429.76,547.74 429.6,547.5 429.46,547.27 429.36,547.03 429.3,546.8" fill="#27812f" stroke="#111" stroke-width="0.6" stroke-linejoin="round"/>
<rect x="426.7" y="550.09" width="5.2" height="3.05" fill="#2d9937" stroke="none" stroke-width="0.55"/>
<line x1="426.7" y1="551.5" x2="431.9" y2="551.5" stroke="#1c1c1c" stroke-width="0.8"/>
<line x1="437.7" y1="496.8" x2="437.7" y2="556.7" stroke="#666" stroke-width="0.95"/>
<circle cx="437.7" cy="496.8" r="1.25" fill="#111"/>
<polygon points="437.7,549 437.64,549.19 437.53,549.38 437.38,549.57 437.21,549.76 437.02,549.95 436.8,550.14 436.57,550.33 436.32,550.52 436.05,550.71 435.77,550.9 435.47,551.09 435.16,551.28 434.84,551.47 434.5,551.66 434.5,554.16 434.71,554.35 434.91,554.53 435.12,554.71 435.34,554.89 435.55,555.07 435.77,555.25 435.99,555.43 436.21,555.61 436.43,555.79 436.66,555.98 436.9,556.16 437.14,556.34 437.4,556.52 437.7,556.7 437.7,556.7 438,556.52 438.26,556.34 438.5,556.16 438.74,555.98 438.97,555.79 439.19,555.61 439.41,555.43 439.63,555.25 439.85,555.07 440.06,554.89 440.28,554.71 440.49,554.53 440.69,554.35 440.9,554.16 440.9,551.66 440.56,551.47 440.24,551.28 439.93,551.09 439.63,550.9 439.35,550.71 439.08,550.52 438.83,550.33 438.6,550.14 438.38,549.95 438.19,549.76 438.02,549.57 437.87,549.38 437.76,549.19 437.7,549" fill="#9b0e29" stroke="#111" stroke-width="0.6" stroke-linejoin="round"/>
<rect x="435.1" y="551.66" width="5.2" height="2.5" fill="#b00f2d" stroke="none" stroke-width="0.55"/>
<line x1="435.1" y1="552.8" x2="440.3" y2="552.8" stroke="#1c1c1c" stroke-width="0.8"/>
<line x1="444" y1="443.5" x2="444" y2="559" stroke="#666" stroke-width="0.95"/>
<circle cx="444" cy="443.5" r="1.25" fill="#111"/>
<circle cx="444" cy="461.6" r="1.25" fill="#111"/>
<circle cx="444" cy="469" r="1.25" fill="#111"/>
<circle cx="444" cy="472.67" r="1.25" fill="#111"/>
<circle cx="444" cy="476.85" r="1.25" fill="#111"/>
<circle cx="444" cy="481.87" r="1.25" fill="#111"/>
<circle cx="444" cy="486.18" r="1.25" fill="#111"/>
<circle cx="444" cy="490.25" r="1.25" fill="#111"/>
<circle cx="444" cy="494.7" r="1.25" fill="#111"/>
<circle cx="444" cy="498.16" r="1.25" fill="#111"/>
<circle cx="444" cy="501.92" r="1.25" fill="#111"/>
<circle cx="444" cy="504.05" r="1.25" fill="#111"/>
<circle cx="444" cy="508.55" r="1.25" fill="#111"/>
<circle cx="444" cy="511.3" r="1.25" fill="#111"/>
<circle cx="444" cy="516.24" r="1.25" fill="#111"/>
<circle cx="444" cy="520.31" r="1.25" fill="#111"/>
<polygon points="444,546.8 443.94,547.06 443.84,547.32 443.7,547.58 443.54,547.84 443.36,548.1 443.16,548.36 442.94,548.62 442.7,548.88 442.45,549.14 442.19,549.4 441.91,549.66 441.62,549.92 441.32,550.18 441,550.44 441,554.45 441.19,554.78 441.39,555.1 441.59,555.43 441.78,555.75 441.98,556.08 442.19,556.4 442.39,556.73 442.6,557.05 442.81,557.38 443.03,557.7 443.25,558.02 443.48,558.35 443.72,558.67 444,559 444,559 444.28,558.67 444.52,558.35 444.75,558.02 444.97,557.7 445.19,557.38 445.4,557.05 445.61,556.73 445.81,556.4 446.02,556.08 446.22,555.75 446.41,555.43 446.61,555.1 446.81,554.78 447,554.45 447,550.44 446.68,550.18 446.38,549.92 446.09,549.66 445.81,549.4 445.55,549.14 445.3,548.88 445.06,548.62 444.84,548.36 444.64,548.1 444.46,547.84 444.3,547.58 444.16,547.32 444.06,547.06 444,546.8" fill="#183d7a" stroke="#111" stroke-width="0.6" stroke-linejoin="round"/>
<rect x="441.4" y="550.44" width="5.2" height="4.01" fill="#1a4482" stroke="none" stroke-width="0.55"/>
<line x1="441.4" y1="552" x2="446.6" y2="552" stroke="#1c1c1c" stroke-width="0.8"/>
<line x1="450.2" y1="463.4" x2="450.2" y2="561" stroke="#666" stroke-width="0.95"/>
<circle cx="450.2" cy="463.4" r="1.25" fill="#111"/>
<circle cx="450.2" cy="529.4" r="1.25" fill="#111"/>
<circle cx="450.2" cy="470.4" r="1.25" fill="#111"/>
<circle cx="450.2" cy="472.81" r="1.25" fill="#111"/>
<circle cx="450.2" cy="475.62" r="1.25" fill="#111"/>
<circle cx="450.2" cy="479.65" r="1.25" fill="#111"/>
<circle cx="450.2" cy="483.89" r="1.25" fill="#111"/>
<circle cx="450.2" cy="486.25" r="1.25" fill="#111"/>
<circle cx="450.2" cy="488.47" r="1.25" fill="#111"/>
<circle cx="450.2" cy="492.15" r="1.25" fill="#111"/>
<circle cx="450.2" cy="496.01" r="1.25" fill="#111"/>
<circle cx="450.2" cy="499.26" r="1.25" fill="#111"/>
<circle cx="450.2" cy="501.97" r="1.25" fill="#111"/>
<circle cx="450.2" cy="505.89" r="1.25" fill="#111"/>
<circle cx="450.2" cy="507.93" r="1.25" fill="#111"/>
<circle cx="450.2" cy="510.89" r="1.25" fill="#111"/>
<polygon points="450.2,546.8 450.14,547.06 450.03,547.32 449.89,547.58 449.73,547.84 449.54,548.1 449.33,548.36 449.1,548.62 448.86,548.88 448.6,549.14 448.33,549.4 448.04,549.66 447.74,549.92 447.43,550.18 447.1,550.44 447.1,555.15 447.3,555.57 447.5,555.99 447.7,556.4 447.91,556.82 448.12,557.24 448.33,557.66 448.54,558.08 448.75,558.49 448.97,558.91 449.2,559.33 449.43,559.75 449.66,560.16 449.91,560.58 450.2,561 450.2,561 450.49,560.58 450.74,560.16 450.97,559.75 451.2,559.33 451.43,558.91 451.65,558.49 451.86,558.08 452.07,557.66 452.28,557.24 452.49,556.82 452.7,556.4 452.9,555.99 453.1,555.57 453.3,555.15 453.3,550.44 452.97,550.18 452.66,549.92 452.36,549.66 452.07,549.4 451.8,549.14 451.54,548.88 451.3,548.62 451.07,548.36 450.86,548.1 450.67,547.84 450.51,547.58 450.37,547.32 450.26,547.06 450.2,546.8" fill="#27812f" stroke="#111" stroke-width="0.6" stroke-linejoin="round"/>
<rect x="447.6" y="550.44" width="5.2" height="4.71" fill="#2d9937" stroke="none" stroke-width="0.55"/>
<line x1="447.6" y1="552" x2="452.8" y2="552" stroke="#1c1c1c" stroke-width="0.8"/>
<line x1="458.6" y1="464.4" x2="458.6" y2="566.6" stroke="#666" stroke-width="0.95"/>
<circle cx="458.6" cy="464.4" r="1.25" fill="#111"/>
<circle cx="458.6" cy="562.2" r="1.25" fill="#111"/>
<circle cx="458.6" cy="566.6" r="1.25" fill="#111"/>
<circle cx="458.6" cy="471.7" r="1.25" fill="#111"/>
<circle cx="458.6" cy="476.77" r="1.25" fill="#111"/>
<circle cx="458.6" cy="480.83" r="1.25" fill="#111"/>
<circle cx="458.6" cy="485.66" r="1.25" fill="#111"/>
<circle cx="458.6" cy="489.18" r="1.25" fill="#111"/>
<circle cx="458.6" cy="491.93" r="1.25" fill="#111"/>
<circle cx="458.6" cy="494.72" r="1.25" fill="#111"/>
<circle cx="458.6" cy="499.8" r="1.25" fill="#111"/>
<circle cx="458.6" cy="504.05" r="1.25" fill="#111"/>
<circle cx="458.6" cy="507.03" r="1.25" fill="#111"/>
<circle cx="458.6" cy="509.1" r="1.25" fill="#111"/>
<circle cx="458.6" cy="512.7" r="1.25" fill="#111"/>
<circle cx="458.6" cy="516.86" r="1.25" fill="#111"/>
<circle cx="458.6" cy="520.2" r="1.25" fill="#111"/>
<circle cx="458.6" cy="523.02" r="1.25" fill="#111"/>
<polygon points="458.6,546.8 458.54,547.06 458.43,547.32 458.28,547.58 458.11,547.84 457.92,548.1 457.7,548.36 457.47,548.62 457.22,548.88 456.95,549.14 456.67,549.4 456.37,549.66 456.06,549.92 455.74,550.18 455.4,550.44 455.4,554.03 455.61,554.3 455.81,554.57 456.02,554.84 456.24,555.11 456.45,555.38 456.67,555.65 456.89,555.91 457.11,556.18 457.33,556.45 457.56,556.72 457.8,556.99 458.04,557.26 458.3,557.53 458.6,557.8 458.6,557.8 458.9,557.53 459.16,557.26 459.4,556.99 459.64,556.72 459.87,556.45 460.09,556.18 460.31,555.91 460.53,555.65 460.75,555.38 460.96,555.11 461.18,554.84 461.39,554.57 461.59,554.3 461.8,554.03 461.8,550.44 461.46,550.18 461.14,549.92 460.83,549.66 460.53,549.4 460.25,549.14 459.98,548.88 459.73,548.62 459.5,548.36 459.28,548.1 459.09,547.84 458.92,547.58 458.77,547.32 458.66,547.06 458.6,546.8" fill="#9b0e29" stroke="#111" stroke-width="0.6" stroke-linejoin="round"/>
<rect x="456" y="550.44" width="5.2" height="3.59" fill="#b00f2d" stroke="none" stroke-width="0.55"/>
<line x1="456" y1="552" x2="461.2" y2="552" stroke="#1c1c1c" stroke-width="0.8"/>
<line x1="464.9" y1="401.3" x2="464.9" y2="561" stroke="#666" stroke-width="0.95"/>
<circle cx="464.9" cy="401.3" r="1.25" fill="#111"/>
<circle cx="464.9" cy="431.5" r="1.25" fill="#111"/>
<circle cx="464.9" cy="561" r="1.25" fill="#111"/>
<circle cx="464.9" cy="457.8" r="1.25" fill="#111"/>
<circle cx="464.9" cy="461.63" r="1.25" fill="#111"/>
<circle cx="464.9" cy="463.85" r="1.25" fill="#111"/>
<circle cx="464.9" cy="465.63" r="1.25" fill="#111"/>
<circle cx="464.9" cy="468.11" r="1.25" fill="#111"/>
<circle cx="464.9" cy="470.77" r="1.25" fill="#111"/>
<circle cx="464.9" cy="474.04" r="1.25" fill="#111"/>
<circle cx="464.9" cy="476.2" r="1.25" fill="#111"/>
<circle cx="464.9" cy="479.73" r="1.25" fill="#111"/>
<circle cx="464.9" cy="483.13" r="1.25" fill="#111"/>
<circle cx="464.9" cy="485.99" r="1.25" fill="#111"/>
<circle cx="464.9" cy="488.16" r="1.25" fill="#111"/>
<circle cx="464.9" cy="492.1" r="1.25" fill="#111"/>
<circle cx="464.9" cy="494.51" r="1.25" fill="#111"/>
<circle cx="464.9" cy="498.1" r="1.25" fill="#111"/>
<circle cx="464.9" cy="500.33" r="1.25" fill="#111"/>
<circle cx="464.9" cy="502.54" r="1.25" fill="#111"/>
<circle cx="464.9" cy="505.99" r="1.25" fill="#111"/>
<circle cx="464.9" cy="508.37" r="1.25" fill="#111"/>
<circle cx="464.9" cy="512.26" r="1.25" fill="#111"/>
<circle cx="464.9" cy="515.1" r="1.25" fill="#111"/>
<circle cx="464.9" cy="517.23" r="1.25" fill="#111"/>
<circle cx="464.9" cy="519.44" r="1.25" fill="#111"/>
<circle cx="464.9" cy="522.1" r="1.25" fill="#111"/>
<circle cx="464.9" cy="525.33" r="1.25" fill="#111"/>
<circle cx="464.9" cy="529.21" r="1.25" fill="#111"/>
<circle cx="464.9" cy="531.25" r="1.25" fill="#111"/>
<circle cx="464.9" cy="533.85" r="1.25" fill="#111"/>
<circle cx="464.9" cy="536.04" r="1.25" fill="#111"/>
<circle cx="464.9" cy="539.98" r="1.25" fill="#111"/>
<polygon points="464.9,546.8 464.84,547.06 464.74,547.32 464.6,547.58 464.44,547.84 464.26,548.1 464.06,548.36 463.84,548.62 463.6,548.88 463.35,549.14 463.09,549.4 462.81,549.66 462.52,549.92 462.22,550.18 461.9,550.44 461.9,554.03 462.09,554.3 462.29,554.57 462.49,554.84 462.68,555.11 462.88,555.38 463.09,555.65 463.29,555.91 463.5,556.18 463.71,556.45 463.93,556.72 464.15,556.99 464.38,557.26 464.62,557.53 464.9,557.8 464.9,557.8 465.18,557.53 465.42,557.26 465.65,556.99 465.87,556.72 466.09,556.45 466.3,556.18 466.51,555.91 466.71,555.65 466.92,555.38 467.12,555.11 467.31,554.84 467.51,554.57 467.71,554.3 467.9,554.03 467.9,550.44 467.58,550.18 467.28,549.92 466.99,549.66 466.71,549.4 466.45,549.14 466.2,548.88 465.96,548.62 465.74,548.36 465.54,548.1 465.36,547.84 465.2,547.58 465.06,547.32 464.96,547.06 464.9,546.8" fill="#183d7a" stroke="#111" stroke-width="0.6" stroke-linejoin="round"/>
<rect x="462.3" y="550.44" width="5.2" height="3.59" fill="#1a4482" stroke="none" stroke-width="0.55"/>
<line x1="462.3" y1="552" x2="467.5" y2="552" stroke="#1c1c1c" stroke-width="0.8"/>
<line x1="471.1" y1="435.2" x2="471.1" y2="567.8" stroke="#666" stroke-width="0.95"/>
<circle cx="471.1" cy="435.2" r="1.25" fill="#111"/>
<circle cx="471.1" cy="562" r="1.25" fill="#111"/>
<circle cx="471.1" cy="565" r="1.25" fill="#111"/>
<circle cx="471.1" cy="567.8" r="1.25" fill="#111"/>
<circle cx="471.1" cy="439" r="1.25" fill="#111"/>
<circle cx="471.1" cy="440.82" r="1.25" fill="#111"/>
<circle cx="471.1" cy="442.66" r="1.25" fill="#111"/>
<circle cx="471.1" cy="445.26" r="1.25" fill="#111"/>
<circle cx="471.1" cy="449.03" r="1.25" fill="#111"/>
<circle cx="471.1" cy="452.76" r="1.25" fill="#111"/>
<circle cx="471.1" cy="456.15" r="1.25" fill="#111"/>
<circle cx="471.1" cy="460.14" r="1.25" fill="#111"/>
<circle cx="471.1" cy="463.98" r="1.25" fill="#111"/>
<circle cx="471.1" cy="466.44" r="1.25" fill="#111"/>
<circle cx="471.1" cy="468.57" r="1.25" fill="#111"/>
<circle cx="471.1" cy="472.42" r="1.25" fill="#111"/>
<circle cx="471.1" cy="475.84" r="1.25" fill="#111"/>
<circle cx="471.1" cy="477.61" r="1.25" fill="#111"/>
<circle cx="471.1" cy="480.84" r="1.25" fill="#111"/>
<circle cx="471.1" cy="483.41" r="1.25" fill="#111"/>
<circle cx="471.1" cy="485.97" r="1.25" fill="#111"/>
<circle cx="471.1" cy="488.43" r="1.25" fill="#111"/>
<circle cx="471.1" cy="490.52" r="1.25" fill="#111"/>
<circle cx="471.1" cy="492.23" r="1.25" fill="#111"/>
<circle cx="471.1" cy="494.57" r="1.25" fill="#111"/>
<circle cx="471.1" cy="497.08" r="1.25" fill="#111"/>
<circle cx="471.1" cy="500.98" r="1.25" fill="#111"/>
<circle cx="471.1" cy="502.96" r="1.25" fill="#111"/>
<circle cx="471.1" cy="506.88" r="1.25" fill="#111"/>
<circle cx="471.1" cy="509.06" r="1.25" fill="#111"/>
<circle cx="471.1" cy="511.58" r="1.25" fill="#111"/>
<circle cx="471.1" cy="515.17" r="1.25" fill="#111"/>
<circle cx="471.1" cy="518.76" r="1.25" fill="#111"/>
<circle cx="471.1" cy="521.45" r="1.25" fill="#111"/>
<circle cx="471.1" cy="523.26" r="1.25" fill="#111"/>
<circle cx="471.1" cy="526.05" r="1.25" fill="#111"/>
<circle cx="471.1" cy="528.61" r="1.25" fill="#111"/>
<circle cx="471.1" cy="532.43" r="1.25" fill="#111"/>
<circle cx="471.1" cy="534.57" r="1.25" fill="#111"/>
<polygon points="471.1,546.8 471.04,547.06 470.93,547.32 470.79,547.58 470.63,547.84 470.44,548.1 470.23,548.36 470,548.62 469.76,548.88 469.5,549.14 469.23,549.4 468.94,549.66 468.64,549.92 468.33,550.18 468,550.44 468,554.03 468.2,554.3 468.4,554.57 468.6,554.84 468.81,555.11 469.02,555.38 469.23,555.65 469.44,555.91 469.65,556.18 469.87,556.45 470.1,556.72 470.33,556.99 470.56,557.26 470.81,557.53 471.1,557.8 471.1,557.8 471.39,557.53 471.64,557.26 471.87,556.99 472.1,556.72 472.33,556.45 472.55,556.18 472.76,555.91 472.97,555.65 473.18,555.38 473.39,555.11 473.6,554.84 473.8,554.57 474,554.3 474.2,554.03 474.2,550.44 473.87,550.18 473.56,549.92 473.26,549.66 472.97,549.4 472.7,549.14 472.44,548.88 472.2,548.62 471.97,548.36 471.76,548.1 471.57,547.84 471.41,547.58 471.27,547.32 471.16,547.06 471.1,546.8" fill="#27812f" stroke="#111" stroke-width="0.6" stroke-linejoin="round"/>
<rect x="468.5" y="550.44" width="5.2" height="3.59" fill="#2d9937" stroke="none" stroke-width="0.55"/>
<line x1="468.5" y1="552" x2="473.7" y2="552" stroke="#1c1c1c" stroke-width="0.8"/>
<line x1="479.5" y1="442.8" x2="479.5" y2="554.5" stroke="#666" stroke-width="0.95"/>
<circle cx="479.5" cy="442.8" r="1.25" fill="#111"/>
<circle cx="479.5" cy="496.8" r="1.25" fill="#111"/>
<polygon points="479.5,545.7 478.64,545.79 478.29,545.89 478.02,545.98 477.79,546.07 477.59,546.16 477.41,546.26 477.24,546.35 477.08,546.44 476.93,546.54 476.8,546.63 476.66,546.72 476.54,546.81 476.42,546.91 476.3,547 476.3,553.5 476.42,553.57 476.54,553.64 476.66,553.71 476.8,553.79 476.93,553.86 477.08,553.93 477.24,554 477.41,554.07 477.59,554.14 477.79,554.21 478.02,554.29 478.29,554.36 478.64,554.43 479.5,554.5 479.5,554.5 480.36,554.43 480.71,554.36 480.98,554.29 481.21,554.21 481.41,554.14 481.59,554.07 481.76,554 481.92,553.93 482.07,553.86 482.2,553.79 482.34,553.71 482.46,553.64 482.58,553.57 482.7,553.5 482.7,547 482.58,546.91 482.46,546.81 482.34,546.72 482.2,546.63 482.07,546.54 481.92,546.44 481.76,546.35 481.59,546.26 481.41,546.16 481.21,546.07 480.98,545.98 480.71,545.89 480.36,545.79 479.5,545.7" fill="#9b0e29" stroke="#111" stroke-width="0.6" stroke-linejoin="round"/>
<rect x="476.6" y="547" width="5.8" height="6.5" fill="#d2102e" stroke="#1c1c1c" stroke-width="0.55"/>
<line x1="476.6" y1="550" x2="482.4" y2="550" stroke="#1c1c1c" stroke-width="0.8"/>
<line x1="485.8" y1="475.4" x2="485.8" y2="556.7" stroke="#666" stroke-width="0.95"/>
<circle cx="485.8" cy="475.4" r="1.25" fill="#111"/>
<circle cx="485.8" cy="556.7" r="1.25" fill="#111"/>
<circle cx="485.8" cy="483" r="1.25" fill="#111"/>
<circle cx="485.8" cy="487.87" r="1.25" fill="#111"/>
<circle cx="485.8" cy="489.97" r="1.25" fill="#111"/>
<circle cx="485.8" cy="493.28" r="1.25" fill="#111"/>
<circle cx="485.8" cy="497.88" r="1.25" fill="#111"/>
<circle cx="485.8" cy="502.33" r="1.25" fill="#111"/>
<circle cx="485.8" cy="504.46" r="1.25" fill="#111"/>
<circle cx="485.8" cy="506.57" r="1.25" fill="#111"/>
<circle cx="485.8" cy="508.77" r="1.25" fill="#111"/>
<circle cx="485.8" cy="513.72" r="1.25" fill="#111"/>
<circle cx="485.8" cy="516.54" r="1.25" fill="#111"/>
<circle cx="485.8" cy="520.93" r="1.25" fill="#111"/>
<polygon points="485.8,548 485.74,548.15 485.64,548.3 485.5,548.45 485.34,548.6 485.16,548.75 484.96,548.9 484.74,549.05 484.5,549.2 484.25,549.35 483.99,549.5 483.71,549.65 483.42,549.8 483.12,549.95 482.8,550.1 482.8,552.23 482.99,552.39 483.19,552.55 483.39,552.71 483.58,552.88 483.78,553.04 483.99,553.2 484.19,553.36 484.4,553.52 484.61,553.69 484.83,553.85 485.05,554.01 485.28,554.17 485.52,554.34 485.8,554.5 485.8,554.5 486.08,554.34 486.32,554.17 486.55,554.01 486.77,553.85 486.99,553.69 487.2,553.52 487.41,553.36 487.61,553.2 487.82,553.04 488.02,552.88 488.21,552.71 488.41,552.55 488.61,552.39 488.8,552.23 488.8,550.1 488.48,549.95 488.18,549.8 487.89,549.65 487.61,549.5 487.35,549.35 487.1,549.2 486.86,549.05 486.64,548.9 486.44,548.75 486.26,548.6 486.1,548.45 485.96,548.3 485.86,548.15 485.8,548" fill="#183d7a" stroke="#111" stroke-width="0.6" stroke-linejoin="round"/>
<rect x="483.2" y="550.1" width="5.2" height="2.12" fill="#1a4482" stroke="none" stroke-width="0.55"/>
<line x1="483.2" y1="551" x2="488.4" y2="551" stroke="#1c1c1c" stroke-width="0.8"/>
<line x1="492" y1="479.2" x2="492" y2="566" stroke="#666" stroke-width="0.95"/>
<circle cx="492" cy="479.2" r="1.25" fill="#111"/>
<circle cx="492" cy="560" r="1.25" fill="#111"/>
<circle cx="492" cy="563" r="1.25" fill="#111"/>
<circle cx="492" cy="566" r="1.25" fill="#111"/>
<circle cx="492" cy="484.2" r="1.25" fill="#111"/>
<circle cx="492" cy="487.29" r="1.25" fill="#111"/>
<circle cx="492" cy="490.16" r="1.25" fill="#111"/>
<circle cx="492" cy="495.22" r="1.25" fill="#111"/>
<circle cx="492" cy="499.2" r="1.25" fill="#111"/>
<circle cx="492" cy="502.03" r="1.25" fill="#111"/>
<circle cx="492" cy="506.33" r="1.25" fill="#111"/>
<circle cx="492" cy="509.34" r="1.25" fill="#111"/>
<circle cx="492" cy="512.22" r="1.25" fill="#111"/>
<circle cx="492" cy="514.23" r="1.25" fill="#111"/>
<circle cx="492" cy="518.65" r="1.25" fill="#111"/>
<circle cx="492" cy="523.59" r="1.25" fill="#111"/>
<polygon points="492,548 491.94,548.17 491.83,548.35 491.69,548.52 491.53,548.7 491.34,548.88 491.13,549.05 490.9,549.23 490.66,549.4 490.4,549.58 490.13,549.75 489.84,549.93 489.54,550.1 489.23,550.28 488.9,550.45 488.9,552.94 489.1,553.13 489.3,553.32 489.5,553.51 489.71,553.7 489.92,553.89 490.13,554.08 490.34,554.27 490.55,554.46 490.77,554.65 491,554.84 491.23,555.03 491.46,555.22 491.71,555.41 492,555.6 492,555.6 492.29,555.41 492.54,555.22 492.77,555.03 493,554.84 493.23,554.65 493.45,554.46 493.66,554.27 493.87,554.08 494.08,553.89 494.29,553.7 494.5,553.51 494.7,553.32 494.9,553.13 495.1,552.94 495.1,550.45 494.77,550.28 494.46,550.1 494.16,549.93 493.87,549.75 493.6,549.58 493.34,549.4 493.1,549.23 492.87,549.05 492.66,548.88 492.47,548.7 492.31,548.52 492.17,548.35 492.06,548.17 492,548" fill="#27812f" stroke="#111" stroke-width="0.6" stroke-linejoin="round"/>
<rect x="489.4" y="550.45" width="5.2" height="2.49" fill="#2d9937" stroke="none" stroke-width="0.55"/>
<line x1="489.4" y1="551.5" x2="494.6" y2="551.5" stroke="#1c1c1c" stroke-width="0.8"/>
<line x1="500.4" y1="471.7" x2="500.4" y2="558.5" stroke="#666" stroke-width="0.95"/>
<circle cx="500.4" cy="471.7" r="1.25" fill="#111"/>
<circle cx="500.4" cy="558.5" r="1.25" fill="#111"/>
<circle cx="500.4" cy="479.2" r="1.25" fill="#111"/>
<circle cx="500.4" cy="484.22" r="1.25" fill="#111"/>
<circle cx="500.4" cy="486.3" r="1.25" fill="#111"/>
<circle cx="500.4" cy="489.04" r="1.25" fill="#111"/>
<circle cx="500.4" cy="492.56" r="1.25" fill="#111"/>
<circle cx="500.4" cy="497.63" r="1.25" fill="#111"/>
<circle cx="500.4" cy="502.68" r="1.25" fill="#111"/>
<circle cx="500.4" cy="505.92" r="1.25" fill="#111"/>
<circle cx="500.4" cy="508.72" r="1.25" fill="#111"/>
<circle cx="500.4" cy="512.1" r="1.25" fill="#111"/>
<circle cx="500.4" cy="515.67" r="1.25" fill="#111"/>
<circle cx="500.4" cy="520.64" r="1.25" fill="#111"/>
<polygon points="500.4,545.7 500.34,545.92 500.23,546.13 500.08,546.35 499.91,546.56 499.72,546.78 499.5,546.99 499.27,547.21 499.02,547.42 498.75,547.63 498.47,547.85 498.17,548.07 497.86,548.28 497.54,548.5 497.2,548.71 497.2,551.58 497.41,551.78 497.61,551.99 497.82,552.2 498.04,552.41 498.25,552.62 498.47,552.83 498.69,553.04 498.91,553.25 499.13,553.46 499.36,553.66 499.6,553.87 499.84,554.08 500.1,554.29 500.4,554.5 500.4,554.5 500.7,554.29 500.96,554.08 501.2,553.87 501.44,553.66 501.67,553.46 501.89,553.25 502.11,553.04 502.33,552.83 502.55,552.62 502.76,552.41 502.98,552.2 503.19,551.99 503.39,551.78 503.6,551.58 503.6,548.71 503.26,548.5 502.94,548.28 502.63,548.07 502.33,547.85 502.05,547.63 501.78,547.42 501.53,547.21 501.3,546.99 501.08,546.78 500.89,546.56 500.72,546.35 500.57,546.13 500.46,545.92 500.4,545.7" fill="#9b0e29" stroke="#111" stroke-width="0.6" stroke-linejoin="round"/>
<rect x="497.8" y="548.71" width="5.2" height="2.87" fill="#b00f2d" stroke="none" stroke-width="0.55"/>
<line x1="497.8" y1="550" x2="503" y2="550" stroke="#1c1c1c" stroke-width="0.8"/>
<line x1="506.7" y1="435.2" x2="506.7" y2="562.2" stroke="#666" stroke-width="0.95"/>
<circle cx="506.7" cy="435.2" r="1.25" fill="#111"/>
<circle cx="506.7" cy="562.2" r="1.25" fill="#111"/>
<circle cx="506.7" cy="449" r="1.25" fill="#111"/>
<circle cx="506.7" cy="452.55" r="1.25" fill="#111"/>
<circle cx="506.7" cy="455.94" r="1.25" fill="#111"/>
<circle cx="506.7" cy="459.54" r="1.25" fill="#111"/>
<circle cx="506.7" cy="463.01" r="1.25" fill="#111"/>
<circle cx="506.7" cy="466.11" r="1.25" fill="#111"/>
<circle cx="506.7" cy="468.56" r="1.25" fill="#111"/>
<circle cx="506.7" cy="471" r="1.25" fill="#111"/>
<circle cx="506.7" cy="473.53" r="1.25" fill="#111"/>
<circle cx="506.7" cy="477.03" r="1.25" fill="#111"/>
<circle cx="506.7" cy="478.91" r="1.25" fill="#111"/>
<circle cx="506.7" cy="481.07" r="1.25" fill="#111"/>
<circle cx="506.7" cy="484.5" r="1.25" fill="#111"/>
<circle cx="506.7" cy="486.77" r="1.25" fill="#111"/>
<circle cx="506.7" cy="488.62" r="1.25" fill="#111"/>
<circle cx="506.7" cy="490.39" r="1.25" fill="#111"/>
<circle cx="506.7" cy="493.36" r="1.25" fill="#111"/>
<circle cx="506.7" cy="495.81" r="1.25" fill="#111"/>
<circle cx="506.7" cy="499.77" r="1.25" fill="#111"/>
<circle cx="506.7" cy="503.5" r="1.25" fill="#111"/>
<circle cx="506.7" cy="507.47" r="1.25" fill="#111"/>
<circle cx="506.7" cy="509.78" r="1.25" fill="#111"/>
<circle cx="506.7" cy="511.68" r="1.25" fill="#111"/>
<circle cx="506.7" cy="513.6" r="1.25" fill="#111"/>
<circle cx="506.7" cy="516.44" r="1.25" fill="#111"/>
<circle cx="506.7" cy="519.78" r="1.25" fill="#111"/>
<circle cx="506.7" cy="522.5" r="1.25" fill="#111"/>
<circle cx="506.7" cy="524.74" r="1.25" fill="#111"/>
<circle cx="506.7" cy="527.4" r="1.25" fill="#111"/>
<circle cx="506.7" cy="530.53" r="1.25" fill="#111"/>
<polygon points="506.7,545.7 506.64,545.92 506.54,546.13 506.4,546.35 506.24,546.56 506.06,546.78 505.86,546.99 505.64,547.21 505.4,547.42 505.15,547.63 504.89,547.85 504.61,548.07 504.32,548.28 504.02,548.5 503.7,548.71 503.7,551.58 503.89,551.78 504.09,551.99 504.29,552.2 504.48,552.41 504.68,552.62 504.89,552.83 505.09,553.04 505.3,553.25 505.51,553.46 505.73,553.66 505.95,553.87 506.18,554.08 506.42,554.29 506.7,554.5 506.7,554.5 506.98,554.29 507.22,554.08 507.45,553.87 507.67,553.66 507.89,553.46 508.1,553.25 508.31,553.04 508.51,552.83 508.72,552.62 508.92,552.41 509.11,552.2 509.31,551.99 509.51,551.78 509.7,551.58 509.7,548.71 509.38,548.5 509.08,548.28 508.79,548.07 508.51,547.85 508.25,547.63 508,547.42 507.76,547.21 507.54,546.99 507.34,546.78 507.16,546.56 507,546.35 506.86,546.13 506.76,545.92 506.7,545.7" fill="#183d7a" stroke="#111" stroke-width="0.6" stroke-linejoin="round"/>
<rect x="504.1" y="548.71" width="5.2" height="2.87" fill="#1a4482" stroke="none" stroke-width="0.55"/>
<line x1="504.1" y1="550" x2="509.3" y2="550" stroke="#1c1c1c" stroke-width="0.8"/>
<line x1="512.9" y1="438.5" x2="512.9" y2="565.5" stroke="#666" stroke-width="0.95"/>
<circle cx="512.9" cy="438.5" r="1.25" fill="#111"/>
<circle cx="512.9" cy="560" r="1.25" fill="#111"/>
<circle cx="512.9" cy="565.5" r="1.25" fill="#111"/>
<circle cx="512.9" cy="444" r="1.25" fill="#111"/>
<circle cx="512.9" cy="447.42" r="1.25" fill="#111"/>
<circle cx="512.9" cy="451.07" r="1.25" fill="#111"/>
<circle cx="512.9" cy="454.3" r="1.25" fill="#111"/>
<circle cx="512.9" cy="456.28" r="1.25" fill="#111"/>
<circle cx="512.9" cy="459.91" r="1.25" fill="#111"/>
<circle cx="512.9" cy="462.28" r="1.25" fill="#111"/>
<circle cx="512.9" cy="465.29" r="1.25" fill="#111"/>
<circle cx="512.9" cy="467.85" r="1.25" fill="#111"/>
<circle cx="512.9" cy="471.24" r="1.25" fill="#111"/>
<circle cx="512.9" cy="473.4" r="1.25" fill="#111"/>
<circle cx="512.9" cy="475.67" r="1.25" fill="#111"/>
<circle cx="512.9" cy="477.94" r="1.25" fill="#111"/>
<circle cx="512.9" cy="479.99" r="1.25" fill="#111"/>
<circle cx="512.9" cy="483.72" r="1.25" fill="#111"/>
<circle cx="512.9" cy="486.75" r="1.25" fill="#111"/>
<circle cx="512.9" cy="489.2" r="1.25" fill="#111"/>
<circle cx="512.9" cy="491.81" r="1.25" fill="#111"/>
<circle cx="512.9" cy="495.8" r="1.25" fill="#111"/>
<circle cx="512.9" cy="498.66" r="1.25" fill="#111"/>
<circle cx="512.9" cy="500.9" r="1.25" fill="#111"/>
<circle cx="512.9" cy="504.45" r="1.25" fill="#111"/>
<circle cx="512.9" cy="507.66" r="1.25" fill="#111"/>
<circle cx="512.9" cy="511.64" r="1.25" fill="#111"/>
<circle cx="512.9" cy="513.57" r="1.25" fill="#111"/>
<polygon points="512.9,546.8 512.84,547.01 512.73,547.22 512.59,547.43 512.43,547.64 512.24,547.85 512.03,548.06 511.8,548.27 511.56,548.48 511.3,548.69 511.03,548.9 510.74,549.11 510.44,549.32 510.13,549.53 509.8,549.74 509.8,552.61 510,552.82 510.2,553.04 510.4,553.25 510.61,553.46 510.82,553.68 511.03,553.89 511.24,554.11 511.45,554.32 511.67,554.53 511.9,554.75 512.13,554.96 512.36,555.17 512.61,555.39 512.9,555.6 512.9,555.6 513.19,555.39 513.44,555.17 513.67,554.96 513.9,554.75 514.13,554.53 514.35,554.32 514.56,554.11 514.77,553.89 514.98,553.68 515.19,553.46 515.4,553.25 515.6,553.04 515.8,552.82 516,552.61 516,549.74 515.67,549.53 515.36,549.32 515.06,549.11 514.77,548.9 514.5,548.69 514.24,548.48 514,548.27 513.77,548.06 513.56,547.85 513.37,547.64 513.21,547.43 513.07,547.22 512.96,547.01 512.9,546.8" fill="#27812f" stroke="#111" stroke-width="0.6" stroke-linejoin="round"/>
<rect x="510.3" y="549.74" width="5.2" height="2.87" fill="#2d9937" stroke="none" stroke-width="0.55"/>
<line x1="510.3" y1="551" x2="515.5" y2="551" stroke="#1c1c1c" stroke-width="0.8"/>
</svg>
</body></html>
